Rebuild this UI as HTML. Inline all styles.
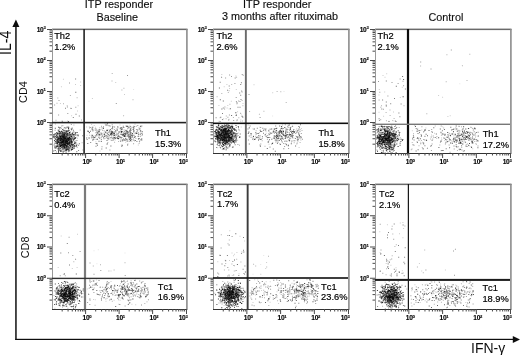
<!DOCTYPE html>
<html><head><meta charset="utf-8"><style>
html,body{margin:0;padding:0;background:#fff;width:520px;height:355px;overflow:hidden}
svg{display:block;will-change:transform}
text{font-family:"Liberation Sans", sans-serif}
.ql{font-size:9.3px;fill:#000;stroke:#000;stroke-width:0.2px;font-kerning:none}
.tl{font-size:6.6px;font-weight:bold;fill:#000;stroke:#000;stroke-width:0.12px;letter-spacing:-0.3px}
.sup{font-size:4.2px}
.ti{font-size:10.8px;fill:#111;stroke:#111;stroke-width:0.15px}
</style></head><body>
<svg width="520" height="355" viewBox="0 0 520 355">
<defs><filter id="bl" x="0" y="0" width="520" height="355" filterUnits="userSpaceOnUse"><feGaussianBlur stdDeviation="0.35"/></filter></defs>
<rect width="520" height="355" fill="#fff"/>
<g filter="url(#bl)">
<g><path fill="#000" fill-opacity="0.1" d="M88.5 100.8h1v1h-1zM133.1 89.1h1v1h-1zM272.1 115.6h1v1h-1zM283.5 91.0h1v1h-1zM459.3 83.2h1v1h-1zM96.4 263.3h1v1h-1zM124.5 252.5h1v1h-1zM97.8 249.3h1v1h-1zM93.5 250.3h1v1h-1zM263.2 254.9h1v1h-1zM260.2 264.1h1v1h-1zM252.5 273.7h1v1h-1z"/><path fill="#000" fill-opacity="0.2" d="M62.5 146.1h1v1h-1zM62.3 139.9h1v1h-1zM63.5 127.7h1v1h-1zM71.2 136.7h1v1h-1zM64.6 135.6h1v1h-1zM57.4 134.2h1v1h-1zM57.9 142.7h1v1h-1zM70.4 140.0h1v1h-1zM60.2 142.9h1v1h-1zM69.0 138.8h1v1h-1zM66.7 137.4h1v1h-1zM60.6 141.9h1v1h-1zM62.5 139.2h1v1h-1zM64.4 128.5h1v1h-1zM58.6 136.4h1v1h-1zM57.6 133.3h1v1h-1zM53.9 134.1h1v1h-1zM67.6 136.6h1v1h-1zM66.3 145.1h1v1h-1zM59.4 135.0h1v1h-1zM64.3 142.8h1v1h-1zM56.6 136.7h1v1h-1zM64.0 135.4h1v1h-1zM57.5 140.1h1v1h-1zM61.3 140.7h1v1h-1zM71.7 139.2h1v1h-1zM69.2 149.9h1v1h-1zM57.3 139.8h1v1h-1zM68.2 135.0h1v1h-1zM66.5 139.0h1v1h-1zM53.9 134.4h1v1h-1zM62.6 128.8h1v1h-1zM63.7 143.8h1v1h-1zM66.1 137.5h1v1h-1zM55.8 148.1h1v1h-1zM65.6 147.3h1v1h-1zM66.5 134.3h1v1h-1zM61.4 133.1h1v1h-1zM55.6 144.9h1v1h-1zM74.7 140.1h1v1h-1zM58.9 140.4h1v1h-1zM61.9 146.5h1v1h-1zM65.5 140.4h1v1h-1zM62.0 147.0h1v1h-1zM66.2 128.1h1v1h-1zM67.2 139.4h1v1h-1zM64.6 144.0h1v1h-1zM76.8 138.1h1v1h-1zM55.9 143.7h1v1h-1zM71.0 143.1h1v1h-1zM64.9 137.6h1v1h-1zM69.8 144.6h1v1h-1zM66.9 142.8h1v1h-1zM58.6 140.8h1v1h-1zM63.7 139.3h1v1h-1zM60.8 139.1h1v1h-1zM57.0 143.5h1v1h-1zM65.5 139.4h1v1h-1zM56.8 139.6h1v1h-1zM65.7 142.5h1v1h-1zM104.0 130.3h1v1h-1zM133.6 133.4h1v1h-1zM106.6 130.2h1v1h-1zM112.0 127.1h1v1h-1zM120.1 129.8h1v1h-1zM93.7 124.9h1v1h-1zM103.2 134.0h1v1h-1zM120.7 131.9h1v1h-1zM125.2 141.8h1v1h-1zM121.4 136.5h1v1h-1zM103.4 130.2h1v1h-1zM129.8 139.5h1v1h-1zM106.6 133.2h1v1h-1zM121.4 129.3h1v1h-1zM130.2 126.0h1v1h-1zM128.7 131.3h1v1h-1zM97.0 133.5h1v1h-1zM91.1 124.1h1v1h-1zM89.8 127.0h1v1h-1zM104.5 132.4h1v1h-1zM94.6 135.0h1v1h-1zM122.3 132.6h1v1h-1zM138.0 138.3h1v1h-1zM114.7 139.5h1v1h-1zM129.4 124.8h1v1h-1zM87.5 143.1h1v1h-1zM134.0 140.5h1v1h-1zM100.7 139.5h1v1h-1zM104.6 123.6h1v1h-1zM140.9 138.3h1v1h-1zM117.9 131.0h1v1h-1zM93.3 139.1h1v1h-1zM137.8 144.4h1v1h-1zM126.9 130.7h1v1h-1zM115.1 130.4h1v1h-1zM90.9 129.2h1v1h-1zM99.9 129.6h1v1h-1zM94.9 126.7h1v1h-1zM99.5 150.4h1v1h-1zM131.3 141.0h1v1h-1zM104.1 134.5h1v1h-1zM101.2 137.5h1v1h-1zM134.5 123.7h1v1h-1zM93.7 128.5h1v1h-1zM108.9 137.3h1v1h-1zM115.4 137.5h1v1h-1zM102.3 135.1h1v1h-1zM112.5 128.6h1v1h-1zM111.7 125.3h1v1h-1zM95.4 141.2h1v1h-1zM131.4 127.4h1v1h-1zM113.0 132.5h1v1h-1zM100.5 128.9h1v1h-1zM136.1 130.7h1v1h-1zM128.8 135.4h1v1h-1zM86.5 134.7h1v1h-1zM119.5 124.5h1v1h-1zM130.5 134.8h1v1h-1zM96.8 131.2h1v1h-1zM128.4 131.1h1v1h-1zM112.3 132.1h1v1h-1zM120.9 144.5h1v1h-1zM130.3 139.4h1v1h-1zM117.8 138.9h1v1h-1zM123.2 131.7h1v1h-1zM91.5 126.7h1v1h-1zM99.3 127.0h1v1h-1zM101.1 126.5h1v1h-1zM86.2 126.6h1v1h-1zM140.4 131.5h1v1h-1zM102.9 132.6h1v1h-1zM100.0 137.6h1v1h-1zM119.6 137.7h1v1h-1zM91.9 136.8h1v1h-1zM127.3 135.5h1v1h-1zM135.0 136.7h1v1h-1zM88.8 126.2h1v1h-1zM62.9 78.7h1v1h-1zM77.6 105.2h1v1h-1zM71.1 115.3h1v1h-1zM67.1 120.5h1v1h-1zM80.1 84.9h1v1h-1zM59.9 102.9h1v1h-1zM80.1 81.5h1v1h-1zM60.9 86.2h1v1h-1zM75.0 84.0h1v1h-1zM77.0 110.6h1v1h-1zM115.2 82.1h1v1h-1zM124.0 94.0h1v1h-1zM91.9 97.9h1v1h-1zM230.8 142.0h1v1h-1zM217.2 147.2h1v1h-1zM224.3 142.4h1v1h-1zM218.4 137.0h1v1h-1zM225.6 140.2h1v1h-1zM224.8 137.2h1v1h-1zM219.6 128.7h1v1h-1zM226.5 124.7h1v1h-1zM226.2 134.1h1v1h-1zM222.8 138.1h1v1h-1zM223.9 125.9h1v1h-1zM215.1 131.2h1v1h-1zM224.1 137.2h1v1h-1zM226.6 124.5h1v1h-1zM218.4 131.5h1v1h-1zM228.9 139.5h1v1h-1zM224.2 136.5h1v1h-1zM222.3 144.6h1v1h-1zM231.7 124.3h1v1h-1zM220.3 129.5h1v1h-1zM228.2 135.3h1v1h-1zM226.7 135.9h1v1h-1zM227.5 128.0h1v1h-1zM224.6 141.5h1v1h-1zM233.3 132.2h1v1h-1zM227.1 131.9h1v1h-1zM223.8 126.3h1v1h-1zM224.5 135.4h1v1h-1zM223.5 135.3h1v1h-1zM223.9 130.8h1v1h-1zM215.5 126.2h1v1h-1zM225.5 141.2h1v1h-1zM233.1 134.3h1v1h-1zM225.0 133.7h1v1h-1zM231.3 134.8h1v1h-1zM224.0 143.3h1v1h-1zM218.2 138.7h1v1h-1zM224.2 127.8h1v1h-1zM224.3 138.9h1v1h-1zM229.9 130.5h1v1h-1zM233.1 135.6h1v1h-1zM224.1 144.8h1v1h-1zM235.9 125.2h1v1h-1zM223.6 133.9h1v1h-1zM220.3 139.4h1v1h-1zM233.1 135.7h1v1h-1zM225.6 130.7h1v1h-1zM221.2 127.3h1v1h-1zM232.3 133.9h1v1h-1zM222.2 135.4h1v1h-1zM222.3 141.6h1v1h-1zM220.4 135.6h1v1h-1zM227.7 139.4h1v1h-1zM240.7 126.5h1v1h-1zM217.2 136.3h1v1h-1zM224.0 132.3h1v1h-1zM228.8 126.6h1v1h-1zM239.2 130.3h1v1h-1zM225.2 126.3h1v1h-1zM224.1 136.0h1v1h-1zM218.5 125.2h1v1h-1zM227.1 124.9h1v1h-1zM220.3 134.8h1v1h-1zM219.8 142.0h1v1h-1zM225.7 141.2h1v1h-1zM221.5 137.5h1v1h-1zM230.0 126.8h1v1h-1zM216.3 141.3h1v1h-1zM217.3 138.6h1v1h-1zM220.3 136.6h1v1h-1zM219.5 126.1h1v1h-1zM225.9 140.3h1v1h-1zM225.6 145.2h1v1h-1zM224.9 131.7h1v1h-1zM231.1 126.3h1v1h-1zM221.7 134.1h1v1h-1zM226.3 126.8h1v1h-1zM220.2 136.3h1v1h-1zM225.7 140.6h1v1h-1zM221.4 128.1h1v1h-1zM227.2 129.5h1v1h-1zM231.5 129.9h1v1h-1zM219.2 133.0h1v1h-1zM230.2 130.3h1v1h-1zM295.3 140.3h1v1h-1zM281.8 136.9h1v1h-1zM290.1 136.2h1v1h-1zM292.0 133.5h1v1h-1zM293.4 137.6h1v1h-1zM278.7 134.0h1v1h-1zM275.5 128.3h1v1h-1zM297.1 130.8h1v1h-1zM275.9 132.2h1v1h-1zM269.6 128.1h1v1h-1zM297.1 140.0h1v1h-1zM265.6 132.7h1v1h-1zM269.5 146.0h1v1h-1zM287.8 127.1h1v1h-1zM295.3 135.5h1v1h-1zM288.1 134.1h1v1h-1zM276.7 131.8h1v1h-1zM279.4 136.7h1v1h-1zM259.0 144.4h1v1h-1zM276.4 133.2h1v1h-1zM267.1 137.6h1v1h-1zM280.5 131.2h1v1h-1zM290.8 140.2h1v1h-1zM255.5 137.8h1v1h-1zM255.6 136.8h1v1h-1zM276.4 137.4h1v1h-1zM278.5 138.2h1v1h-1zM249.9 136.8h1v1h-1zM300.1 129.1h1v1h-1zM285.1 132.4h1v1h-1zM285.6 143.2h1v1h-1zM290.3 137.7h1v1h-1zM276.1 136.4h1v1h-1zM288.7 127.0h1v1h-1zM268.5 134.7h1v1h-1zM289.0 132.6h1v1h-1zM285.1 126.9h1v1h-1zM252.6 128.1h1v1h-1zM274.3 131.6h1v1h-1zM299.2 136.6h1v1h-1zM268.7 132.9h1v1h-1zM281.0 132.8h1v1h-1zM268.5 143.7h1v1h-1zM274.1 136.7h1v1h-1zM298.6 147.0h1v1h-1zM299.0 130.7h1v1h-1zM259.3 126.8h1v1h-1zM265.1 135.9h1v1h-1zM291.0 135.0h1v1h-1zM253.0 139.2h1v1h-1zM252.8 129.1h1v1h-1zM252.9 136.2h1v1h-1zM300.9 127.9h1v1h-1zM223.2 118.2h1v1h-1zM228.6 118.8h1v1h-1zM226.4 84.0h1v1h-1zM240.3 119.5h1v1h-1zM235.8 112.3h1v1h-1zM237.1 111.2h1v1h-1zM227.3 105.0h1v1h-1zM236.4 103.5h1v1h-1zM240.9 114.6h1v1h-1zM221.3 74.1h1v1h-1zM229.1 88.0h1v1h-1zM226.6 107.5h1v1h-1zM240.2 121.0h1v1h-1zM235.4 75.4h1v1h-1zM228.7 108.6h1v1h-1zM242.5 102.9h1v1h-1zM235.8 89.0h1v1h-1zM223.7 86.3h1v1h-1zM222.3 119.3h1v1h-1zM230.8 100.8h1v1h-1zM236.2 120.2h1v1h-1zM218.4 105.0h1v1h-1zM272.2 92.3h1v1h-1zM253.5 84.3h1v1h-1zM376.4 146.4h1v1h-1zM382.9 140.7h1v1h-1zM384.1 125.7h1v1h-1zM384.8 149.3h1v1h-1zM387.3 127.2h1v1h-1zM382.5 142.3h1v1h-1zM392.0 128.2h1v1h-1zM388.7 146.4h1v1h-1zM392.8 149.4h1v1h-1zM392.4 134.0h1v1h-1zM388.2 135.8h1v1h-1zM388.6 141.6h1v1h-1zM387.3 133.7h1v1h-1zM388.3 143.8h1v1h-1zM386.0 141.6h1v1h-1zM378.4 133.7h1v1h-1zM388.0 139.8h1v1h-1zM387.6 135.7h1v1h-1zM385.8 138.6h1v1h-1zM381.2 143.8h1v1h-1zM383.2 137.7h1v1h-1zM389.7 147.2h1v1h-1zM390.6 144.8h1v1h-1zM378.7 134.1h1v1h-1zM396.6 139.2h1v1h-1zM383.0 132.7h1v1h-1zM397.9 132.3h1v1h-1zM391.5 135.3h1v1h-1zM380.8 142.3h1v1h-1zM383.9 135.8h1v1h-1zM388.3 142.8h1v1h-1zM389.0 138.8h1v1h-1zM388.0 144.0h1v1h-1zM384.3 130.5h1v1h-1zM388.0 144.6h1v1h-1zM389.0 130.4h1v1h-1zM379.7 133.9h1v1h-1zM376.7 140.9h1v1h-1zM389.6 138.9h1v1h-1zM380.2 136.8h1v1h-1zM387.5 145.1h1v1h-1zM395.0 136.1h1v1h-1zM388.2 143.0h1v1h-1zM390.0 133.8h1v1h-1zM393.2 141.0h1v1h-1zM388.9 139.4h1v1h-1zM386.3 136.3h1v1h-1zM388.0 135.0h1v1h-1zM387.3 146.7h1v1h-1zM399.6 141.6h1v1h-1zM391.9 142.0h1v1h-1zM384.4 141.6h1v1h-1zM389.1 132.8h1v1h-1zM387.0 136.5h1v1h-1zM382.8 126.8h1v1h-1zM378.2 139.1h1v1h-1zM380.6 136.6h1v1h-1zM455.8 141.9h1v1h-1zM472.2 141.7h1v1h-1zM461.8 143.4h1v1h-1zM463.9 140.3h1v1h-1zM472.2 148.3h1v1h-1zM462.3 140.1h1v1h-1zM454.2 134.1h1v1h-1zM461.1 143.0h1v1h-1zM453.4 135.5h1v1h-1zM458.1 141.4h1v1h-1zM476.7 135.6h1v1h-1zM465.6 143.7h1v1h-1zM449.8 134.6h1v1h-1zM440.4 132.4h1v1h-1zM471.9 132.2h1v1h-1zM441.3 139.1h1v1h-1zM411.8 130.3h1v1h-1zM453.8 134.5h1v1h-1zM449.4 133.3h1v1h-1zM423.0 148.4h1v1h-1zM473.6 131.8h1v1h-1zM411.6 141.9h1v1h-1zM441.4 133.2h1v1h-1zM424.3 139.9h1v1h-1zM459.1 149.6h1v1h-1zM444.3 140.1h1v1h-1zM445.3 142.5h1v1h-1zM421.6 142.5h1v1h-1zM420.1 141.8h1v1h-1zM441.0 137.5h1v1h-1zM447.9 141.1h1v1h-1zM450.6 139.9h1v1h-1zM423.1 132.0h1v1h-1zM477.4 135.8h1v1h-1zM418.5 133.3h1v1h-1zM440.5 150.2h1v1h-1zM459.9 134.9h1v1h-1zM431.0 134.5h1v1h-1zM424.5 136.0h1v1h-1zM421.3 129.5h1v1h-1zM463.3 129.4h1v1h-1zM448.8 138.6h1v1h-1zM412.1 142.0h1v1h-1zM418.8 137.4h1v1h-1zM455.3 129.3h1v1h-1zM456.7 128.6h1v1h-1zM442.4 134.0h1v1h-1zM442.2 126.2h1v1h-1zM425.4 127.4h1v1h-1zM458.0 137.3h1v1h-1zM454.6 132.9h1v1h-1zM469.7 146.2h1v1h-1zM451.7 129.1h1v1h-1zM471.2 126.9h1v1h-1zM424.3 139.7h1v1h-1zM466.9 137.6h1v1h-1zM422.1 141.7h1v1h-1zM417.2 133.0h1v1h-1zM447.9 133.9h1v1h-1zM458.7 125.9h1v1h-1zM434.0 132.7h1v1h-1zM378.5 94.6h1v1h-1zM401.8 86.7h1v1h-1zM378.8 89.1h1v1h-1zM378.5 111.8h1v1h-1zM384.5 76.8h1v1h-1zM399.8 97.1h1v1h-1zM392.0 119.9h1v1h-1zM384.2 91.6h1v1h-1zM382.5 75.1h1v1h-1zM392.6 120.2h1v1h-1zM383.1 115.7h1v1h-1zM393.0 111.4h1v1h-1zM386.2 73.2h1v1h-1zM388.4 120.8h1v1h-1zM442.1 96.8h1v1h-1zM449.7 115.2h1v1h-1zM447.4 115.9h1v1h-1zM438.1 94.9h1v1h-1zM60.5 297.3h1v1h-1zM68.2 301.9h1v1h-1zM66.0 294.3h1v1h-1zM66.0 303.7h1v1h-1zM64.7 299.7h1v1h-1zM68.9 296.6h1v1h-1zM63.8 297.6h1v1h-1zM69.8 292.8h1v1h-1zM71.6 287.2h1v1h-1zM67.8 291.7h1v1h-1zM70.2 293.9h1v1h-1zM74.0 295.0h1v1h-1zM72.4 296.1h1v1h-1zM67.6 300.3h1v1h-1zM68.7 300.1h1v1h-1zM73.2 306.1h1v1h-1zM76.7 288.8h1v1h-1zM74.0 288.6h1v1h-1zM67.6 297.0h1v1h-1zM63.5 302.3h1v1h-1zM54.4 307.7h1v1h-1zM71.0 296.8h1v1h-1zM68.9 295.6h1v1h-1zM66.6 293.5h1v1h-1zM72.2 283.3h1v1h-1zM68.6 288.1h1v1h-1zM53.9 290.5h1v1h-1zM64.0 288.7h1v1h-1zM68.6 291.9h1v1h-1zM72.5 291.2h1v1h-1zM66.1 297.1h1v1h-1zM64.4 294.1h1v1h-1zM61.1 300.8h1v1h-1zM75.1 298.7h1v1h-1zM81.2 293.2h1v1h-1zM61.5 293.2h1v1h-1zM69.7 302.7h1v1h-1zM54.4 290.5h1v1h-1zM68.6 289.1h1v1h-1zM67.3 293.3h1v1h-1zM57.9 294.2h1v1h-1zM65.1 300.7h1v1h-1zM66.7 298.3h1v1h-1zM65.9 301.0h1v1h-1zM72.7 297.1h1v1h-1zM70.1 294.8h1v1h-1zM66.6 289.7h1v1h-1zM68.5 292.0h1v1h-1zM69.0 289.8h1v1h-1zM68.1 303.9h1v1h-1zM62.7 296.0h1v1h-1zM57.4 298.1h1v1h-1zM65.1 287.9h1v1h-1zM64.0 299.0h1v1h-1zM66.7 293.6h1v1h-1zM55.3 294.1h1v1h-1zM74.9 294.2h1v1h-1zM61.3 302.1h1v1h-1zM64.7 288.0h1v1h-1zM66.0 295.4h1v1h-1zM72.0 292.1h1v1h-1zM67.7 293.3h1v1h-1zM73.5 293.6h1v1h-1zM59.5 287.5h1v1h-1zM62.5 296.2h1v1h-1zM69.8 295.7h1v1h-1zM69.9 294.9h1v1h-1zM66.3 281.0h1v1h-1zM73.0 290.2h1v1h-1zM141.3 289.5h1v1h-1zM118.8 286.0h1v1h-1zM113.6 299.8h1v1h-1zM86.8 288.6h1v1h-1zM146.5 301.6h1v1h-1zM125.5 285.7h1v1h-1zM106.3 288.7h1v1h-1zM110.5 280.9h1v1h-1zM135.3 289.9h1v1h-1zM121.9 291.7h1v1h-1zM104.0 287.6h1v1h-1zM121.7 288.8h1v1h-1zM115.7 289.4h1v1h-1zM120.1 290.6h1v1h-1zM103.5 290.3h1v1h-1zM138.3 290.9h1v1h-1zM130.5 292.9h1v1h-1zM128.6 289.5h1v1h-1zM103.6 292.3h1v1h-1zM96.5 282.1h1v1h-1zM138.6 288.8h1v1h-1zM105.8 289.1h1v1h-1zM125.7 287.3h1v1h-1zM121.9 286.5h1v1h-1zM106.3 283.0h1v1h-1zM120.0 283.3h1v1h-1zM108.5 295.0h1v1h-1zM142.2 286.9h1v1h-1zM124.1 296.1h1v1h-1zM125.8 291.3h1v1h-1zM105.5 300.8h1v1h-1zM118.5 297.0h1v1h-1zM119.6 299.8h1v1h-1zM107.2 283.5h1v1h-1zM131.4 303.8h1v1h-1zM146.7 294.3h1v1h-1zM146.6 289.8h1v1h-1zM143.4 294.1h1v1h-1zM111.3 285.2h1v1h-1zM138.5 296.8h1v1h-1zM94.8 299.3h1v1h-1zM147.3 292.2h1v1h-1zM135.2 304.2h1v1h-1zM100.1 286.5h1v1h-1zM95.9 279.4h1v1h-1zM146.5 301.0h1v1h-1zM119.3 293.9h1v1h-1zM137.8 296.8h1v1h-1zM131.5 286.3h1v1h-1zM144.4 290.4h1v1h-1zM118.2 303.8h1v1h-1zM93.1 298.9h1v1h-1zM92.1 289.4h1v1h-1zM106.0 282.4h1v1h-1zM139.2 285.8h1v1h-1zM126.5 281.1h1v1h-1zM96.5 293.7h1v1h-1zM121.7 296.4h1v1h-1zM106.3 286.1h1v1h-1zM60.7 235.5h1v1h-1zM71.8 268.0h1v1h-1zM76.6 266.9h1v1h-1zM57.7 266.9h1v1h-1zM77.0 233.7h1v1h-1zM110.5 270.5h1v1h-1zM231.0 296.5h1v1h-1zM235.1 289.9h1v1h-1zM229.4 294.7h1v1h-1zM225.6 283.6h1v1h-1zM227.8 289.7h1v1h-1zM233.9 298.9h1v1h-1zM236.9 290.3h1v1h-1zM234.7 295.7h1v1h-1zM220.2 290.7h1v1h-1zM223.5 300.5h1v1h-1zM219.3 295.2h1v1h-1zM232.7 302.6h1v1h-1zM234.8 286.2h1v1h-1zM225.1 298.5h1v1h-1zM219.3 289.3h1v1h-1zM224.6 295.9h1v1h-1zM233.6 287.3h1v1h-1zM218.1 302.4h1v1h-1zM239.6 302.2h1v1h-1zM227.4 296.7h1v1h-1zM233.1 292.8h1v1h-1zM232.9 297.8h1v1h-1zM229.1 301.6h1v1h-1zM238.3 288.9h1v1h-1zM243.8 292.2h1v1h-1zM230.1 291.6h1v1h-1zM232.2 300.6h1v1h-1zM227.4 284.4h1v1h-1zM218.5 294.2h1v1h-1zM240.3 299.3h1v1h-1zM239.6 290.0h1v1h-1zM240.9 298.2h1v1h-1zM229.9 287.9h1v1h-1zM226.9 301.5h1v1h-1zM231.9 299.9h1v1h-1zM235.3 296.5h1v1h-1zM234.8 291.1h1v1h-1zM228.7 290.2h1v1h-1zM237.3 298.7h1v1h-1zM233.3 290.4h1v1h-1zM232.9 297.3h1v1h-1zM228.2 306.8h1v1h-1zM223.2 295.2h1v1h-1zM223.1 291.5h1v1h-1zM226.1 292.1h1v1h-1zM220.5 291.2h1v1h-1zM234.2 294.5h1v1h-1zM229.4 290.6h1v1h-1zM234.4 294.7h1v1h-1zM230.2 292.6h1v1h-1zM221.2 307.2h1v1h-1zM226.4 299.5h1v1h-1zM229.2 285.9h1v1h-1zM223.6 305.1h1v1h-1zM229.1 293.4h1v1h-1zM225.7 290.9h1v1h-1zM234.7 291.6h1v1h-1zM236.4 297.0h1v1h-1zM231.2 295.8h1v1h-1zM233.4 298.7h1v1h-1zM230.0 289.9h1v1h-1zM238.7 299.8h1v1h-1zM226.9 284.0h1v1h-1zM227.3 297.4h1v1h-1zM224.5 295.3h1v1h-1zM217.9 293.0h1v1h-1zM225.2 289.1h1v1h-1zM230.1 293.8h1v1h-1zM227.1 289.6h1v1h-1zM225.7 295.6h1v1h-1zM297.9 293.2h1v1h-1zM288.4 292.1h1v1h-1zM314.5 290.7h1v1h-1zM297.8 295.5h1v1h-1zM298.5 291.9h1v1h-1zM289.5 291.0h1v1h-1zM296.4 296.6h1v1h-1zM304.4 291.9h1v1h-1zM296.3 296.3h1v1h-1zM300.3 294.5h1v1h-1zM295.5 282.5h1v1h-1zM301.5 288.9h1v1h-1zM302.0 291.8h1v1h-1zM309.5 279.4h1v1h-1zM311.3 291.6h1v1h-1zM295.9 288.9h1v1h-1zM297.1 294.1h1v1h-1zM303.6 288.5h1v1h-1zM276.5 291.2h1v1h-1zM301.5 288.9h1v1h-1zM296.1 289.9h1v1h-1zM278.1 283.2h1v1h-1zM294.4 296.5h1v1h-1zM313.2 293.9h1v1h-1zM303.3 299.0h1v1h-1zM301.6 285.7h1v1h-1zM309.9 293.3h1v1h-1zM272.7 297.3h1v1h-1zM301.0 298.7h1v1h-1zM265.7 281.2h1v1h-1zM254.2 279.3h1v1h-1zM310.4 289.1h1v1h-1zM285.2 286.4h1v1h-1zM265.2 292.0h1v1h-1zM316.6 283.7h1v1h-1zM261.1 290.1h1v1h-1zM295.9 284.3h1v1h-1zM279.6 287.7h1v1h-1zM254.6 289.7h1v1h-1zM284.1 295.6h1v1h-1zM280.2 281.9h1v1h-1zM259.7 302.6h1v1h-1zM254.9 294.5h1v1h-1zM268.8 298.9h1v1h-1zM259.2 297.0h1v1h-1zM289.3 292.1h1v1h-1zM279.4 292.6h1v1h-1zM304.1 293.6h1v1h-1zM276.8 295.2h1v1h-1zM270.0 285.5h1v1h-1zM291.5 282.7h1v1h-1zM308.9 295.4h1v1h-1zM286.4 291.6h1v1h-1zM269.6 301.7h1v1h-1zM312.5 281.0h1v1h-1zM269.7 281.3h1v1h-1zM278.2 289.7h1v1h-1zM301.6 297.8h1v1h-1zM304.7 283.2h1v1h-1zM263.1 285.3h1v1h-1zM289.2 287.8h1v1h-1zM257.2 279.4h1v1h-1zM252.5 302.1h1v1h-1zM288.7 291.2h1v1h-1zM277.3 282.1h1v1h-1zM284.1 293.9h1v1h-1zM309.6 286.0h1v1h-1zM267.2 290.8h1v1h-1zM286.0 297.2h1v1h-1zM310.3 284.5h1v1h-1zM267.6 284.9h1v1h-1zM303.1 294.7h1v1h-1zM259.7 285.8h1v1h-1zM278.1 303.1h1v1h-1zM267.1 286.4h1v1h-1zM304.8 298.4h1v1h-1zM231.8 275.1h1v1h-1zM244.1 240.4h1v1h-1zM224.7 259.8h1v1h-1zM239.5 235.7h1v1h-1zM217.3 261.2h1v1h-1zM236.4 252.1h1v1h-1zM231.5 252.6h1v1h-1zM229.3 230.2h1v1h-1zM233.1 255.3h1v1h-1zM233.9 253.7h1v1h-1zM238.5 273.2h1v1h-1zM235.0 270.2h1v1h-1zM229.0 260.0h1v1h-1zM265.2 267.9h1v1h-1zM260.3 273.8h1v1h-1zM266.1 262.1h1v1h-1zM382.9 301.7h1v1h-1zM391.3 298.9h1v1h-1zM397.0 297.9h1v1h-1zM394.4 293.5h1v1h-1zM400.5 286.0h1v1h-1zM389.0 291.5h1v1h-1zM391.9 292.4h1v1h-1zM399.3 291.6h1v1h-1zM394.5 290.6h1v1h-1zM396.0 294.9h1v1h-1zM399.4 303.2h1v1h-1zM387.0 305.2h1v1h-1zM385.5 296.3h1v1h-1zM392.9 299.7h1v1h-1zM392.0 293.9h1v1h-1zM384.2 299.0h1v1h-1zM401.3 295.3h1v1h-1zM390.4 291.0h1v1h-1zM386.3 305.5h1v1h-1zM388.9 297.8h1v1h-1zM388.3 290.0h1v1h-1zM391.5 292.6h1v1h-1zM399.8 291.0h1v1h-1zM391.6 297.5h1v1h-1zM385.8 294.3h1v1h-1zM382.0 285.8h1v1h-1zM392.6 289.4h1v1h-1zM394.8 301.3h1v1h-1zM390.7 295.9h1v1h-1zM394.2 295.0h1v1h-1zM389.4 293.3h1v1h-1zM402.9 298.7h1v1h-1zM392.8 298.4h1v1h-1zM399.4 302.6h1v1h-1zM387.7 300.2h1v1h-1zM389.9 298.9h1v1h-1zM387.8 293.6h1v1h-1zM395.1 297.7h1v1h-1zM400.0 297.6h1v1h-1zM399.7 302.2h1v1h-1zM379.7 290.9h1v1h-1zM383.4 296.8h1v1h-1zM394.3 300.5h1v1h-1zM397.9 286.6h1v1h-1zM403.5 299.0h1v1h-1zM387.1 296.3h1v1h-1zM386.8 300.6h1v1h-1zM392.4 296.0h1v1h-1zM387.0 296.0h1v1h-1zM389.4 293.4h1v1h-1zM455.3 289.7h1v1h-1zM448.2 291.9h1v1h-1zM464.1 291.2h1v1h-1zM460.0 296.5h1v1h-1zM453.6 294.1h1v1h-1zM443.8 283.9h1v1h-1zM434.9 291.5h1v1h-1zM449.7 296.3h1v1h-1zM463.9 290.3h1v1h-1zM451.8 295.5h1v1h-1zM463.1 297.0h1v1h-1zM465.3 302.0h1v1h-1zM437.9 287.6h1v1h-1zM431.4 294.6h1v1h-1zM442.8 297.3h1v1h-1zM433.7 290.5h1v1h-1zM464.1 290.3h1v1h-1zM417.2 292.9h1v1h-1zM420.2 296.9h1v1h-1zM416.9 299.1h1v1h-1zM436.2 295.0h1v1h-1zM428.9 298.9h1v1h-1zM440.1 283.6h1v1h-1zM421.3 300.1h1v1h-1zM467.2 306.6h1v1h-1zM431.4 287.7h1v1h-1zM444.3 292.1h1v1h-1zM460.6 299.1h1v1h-1zM425.7 298.4h1v1h-1zM415.8 296.1h1v1h-1zM468.5 303.0h1v1h-1zM460.8 293.1h1v1h-1zM466.2 281.7h1v1h-1zM466.3 304.2h1v1h-1zM451.2 292.0h1v1h-1zM415.8 286.7h1v1h-1zM426.4 283.7h1v1h-1zM427.0 289.2h1v1h-1zM455.2 284.6h1v1h-1zM433.5 293.2h1v1h-1zM448.5 299.8h1v1h-1zM451.9 298.3h1v1h-1zM411.3 290.3h1v1h-1zM469.5 292.4h1v1h-1zM414.4 284.2h1v1h-1zM417.3 301.9h1v1h-1zM452.4 293.5h1v1h-1zM438.3 281.5h1v1h-1zM423.5 291.2h1v1h-1zM435.4 295.7h1v1h-1zM430.6 281.3h1v1h-1zM446.1 292.7h1v1h-1zM415.8 286.0h1v1h-1zM471.3 285.3h1v1h-1zM453.9 304.4h1v1h-1zM419.7 302.0h1v1h-1zM424.6 300.2h1v1h-1zM385.7 263.1h1v1h-1zM401.6 273.1h1v1h-1zM379.7 252.0h1v1h-1zM402.4 222.1h1v1h-1zM380.5 253.0h1v1h-1zM395.5 267.3h1v1h-1zM399.8 222.6h1v1h-1zM403.1 228.1h1v1h-1zM387.5 262.4h1v1h-1zM399.0 233.3h1v1h-1zM402.4 237.3h1v1h-1zM401.8 270.3h1v1h-1zM379.3 231.2h1v1h-1zM387.9 268.1h1v1h-1zM390.4 264.7h1v1h-1zM386.9 224.3h1v1h-1zM418.9 263.0h1v1h-1zM444.9 269.4h1v1h-1zM421.2 270.5h1v1h-1z"/><path fill="#000" fill-opacity="0.3" d="M71.2 147.2h1v1h-1zM69.5 146.3h1v1h-1zM72.0 139.5h1v1h-1zM56.3 137.3h1v1h-1zM73.8 144.2h1v1h-1zM65.7 150.5h1v1h-1zM56.1 141.8h1v1h-1zM58.8 130.3h1v1h-1zM67.0 139.5h1v1h-1zM69.1 145.5h1v1h-1zM69.8 140.0h1v1h-1zM62.6 148.3h1v1h-1zM68.5 129.6h1v1h-1zM72.3 133.1h1v1h-1zM68.7 149.5h1v1h-1zM65.7 149.0h1v1h-1zM64.3 137.7h1v1h-1zM64.2 143.7h1v1h-1zM61.6 139.1h1v1h-1zM61.0 125.6h1v1h-1zM59.0 136.6h1v1h-1zM63.9 142.2h1v1h-1zM60.1 139.6h1v1h-1zM63.7 144.5h1v1h-1zM63.5 134.0h1v1h-1zM63.8 146.1h1v1h-1zM57.4 135.8h1v1h-1zM60.8 141.5h1v1h-1zM61.6 138.1h1v1h-1zM59.8 139.7h1v1h-1zM69.6 138.9h1v1h-1zM54.9 123.6h1v1h-1zM70.7 139.4h1v1h-1zM58.9 137.0h1v1h-1zM61.7 140.6h1v1h-1zM68.9 138.4h1v1h-1zM70.7 135.2h1v1h-1zM69.7 137.6h1v1h-1zM70.4 146.1h1v1h-1zM66.9 140.9h1v1h-1zM59.7 141.5h1v1h-1zM65.1 148.5h1v1h-1zM66.0 146.3h1v1h-1zM57.8 131.5h1v1h-1zM65.3 135.9h1v1h-1zM66.1 143.2h1v1h-1zM66.3 137.2h1v1h-1zM76.7 147.1h1v1h-1zM61.3 141.6h1v1h-1zM54.8 137.8h1v1h-1zM55.5 134.0h1v1h-1zM62.2 150.3h1v1h-1zM67.3 126.6h1v1h-1zM66.2 143.1h1v1h-1zM68.8 134.5h1v1h-1zM61.4 147.1h1v1h-1zM54.8 142.7h1v1h-1zM71.0 139.1h1v1h-1zM64.1 136.9h1v1h-1zM57.0 143.1h1v1h-1zM57.7 148.5h1v1h-1zM63.9 150.8h1v1h-1zM67.0 132.7h1v1h-1zM71.2 139.4h1v1h-1zM56.1 137.6h1v1h-1zM64.8 138.2h1v1h-1zM64.6 133.7h1v1h-1zM58.1 139.9h1v1h-1zM76.3 136.7h1v1h-1zM69.1 147.6h1v1h-1zM67.2 135.2h1v1h-1zM72.2 146.3h1v1h-1zM71.2 141.7h1v1h-1zM59.3 144.1h1v1h-1zM65.5 142.7h1v1h-1zM70.4 141.7h1v1h-1zM69.5 134.0h1v1h-1zM62.6 142.7h1v1h-1zM65.0 134.0h1v1h-1zM67.0 137.4h1v1h-1zM57.6 131.4h1v1h-1zM63.0 140.3h1v1h-1zM70.3 133.2h1v1h-1zM65.8 135.8h1v1h-1zM65.3 138.1h1v1h-1zM59.8 141.5h1v1h-1zM63.0 146.2h1v1h-1zM69.6 146.6h1v1h-1zM82.3 149.4h1v1h-1zM73.8 144.2h1v1h-1zM65.3 137.0h1v1h-1zM59.5 138.9h1v1h-1zM54.6 141.0h1v1h-1zM74.0 138.2h1v1h-1zM71.3 141.1h1v1h-1zM67.9 151.3h1v1h-1zM63.1 142.7h1v1h-1zM63.8 138.3h1v1h-1zM68.8 143.3h1v1h-1zM70.8 141.2h1v1h-1zM62.4 143.9h1v1h-1zM63.6 143.0h1v1h-1zM70.3 135.6h1v1h-1zM58.0 138.6h1v1h-1zM62.6 140.8h1v1h-1zM62.1 151.3h1v1h-1zM62.9 145.9h1v1h-1zM73.0 146.1h1v1h-1zM79.7 129.5h1v1h-1zM63.6 141.2h1v1h-1zM62.1 148.6h1v1h-1zM57.7 140.6h1v1h-1zM65.9 141.3h1v1h-1zM56.2 145.4h1v1h-1zM63.7 149.8h1v1h-1zM60.0 150.8h1v1h-1zM56.4 141.7h1v1h-1zM63.1 133.2h1v1h-1zM61.8 139.0h1v1h-1zM62.4 137.6h1v1h-1zM63.0 145.6h1v1h-1zM64.5 149.2h1v1h-1zM58.0 138.3h1v1h-1zM59.8 139.3h1v1h-1zM70.7 135.5h1v1h-1zM57.8 137.4h1v1h-1zM81.6 142.2h1v1h-1zM61.8 130.9h1v1h-1zM59.7 138.2h1v1h-1zM56.9 135.1h1v1h-1zM65.7 144.7h1v1h-1zM77.4 134.5h1v1h-1zM67.0 133.4h1v1h-1zM60.0 146.9h1v1h-1zM69.3 141.7h1v1h-1zM69.0 132.1h1v1h-1zM63.6 133.7h1v1h-1zM72.3 148.2h1v1h-1zM59.0 131.6h1v1h-1zM68.2 137.9h1v1h-1zM58.8 134.7h1v1h-1zM71.9 140.9h1v1h-1zM59.7 138.7h1v1h-1zM67.4 148.6h1v1h-1zM73.4 124.4h1v1h-1zM101.3 132.7h1v1h-1zM114.0 129.1h1v1h-1zM119.8 139.4h1v1h-1zM100.7 133.7h1v1h-1zM125.1 131.6h1v1h-1zM123.1 137.9h1v1h-1zM104.1 133.7h1v1h-1zM95.7 134.7h1v1h-1zM132.4 139.3h1v1h-1zM130.6 137.0h1v1h-1zM132.9 138.3h1v1h-1zM126.6 129.6h1v1h-1zM122.8 133.5h1v1h-1zM113.6 134.3h1v1h-1zM118.1 140.9h1v1h-1zM128.8 134.4h1v1h-1zM119.7 131.3h1v1h-1zM113.2 133.2h1v1h-1zM98.2 133.0h1v1h-1zM113.8 133.2h1v1h-1zM113.1 131.4h1v1h-1zM121.7 139.0h1v1h-1zM119.7 127.4h1v1h-1zM95.1 136.5h1v1h-1zM123.8 133.1h1v1h-1zM135.4 137.9h1v1h-1zM131.4 132.7h1v1h-1zM130.7 131.9h1v1h-1zM122.2 140.7h1v1h-1zM110.7 131.0h1v1h-1zM129.2 130.8h1v1h-1zM127.4 143.5h1v1h-1zM123.2 132.8h1v1h-1zM121.4 131.1h1v1h-1zM124.1 131.1h1v1h-1zM122.4 134.3h1v1h-1zM139.6 133.9h1v1h-1zM113.2 138.4h1v1h-1zM122.9 138.5h1v1h-1zM126.5 138.4h1v1h-1zM121.7 131.1h1v1h-1zM101.0 125.8h1v1h-1zM106.3 131.5h1v1h-1zM126.5 132.1h1v1h-1zM128.7 137.3h1v1h-1zM124.1 134.8h1v1h-1zM113.8 131.6h1v1h-1zM123.5 135.9h1v1h-1zM120.9 137.8h1v1h-1zM106.5 131.9h1v1h-1zM130.9 132.3h1v1h-1zM109.9 125.6h1v1h-1zM132.1 137.1h1v1h-1zM141.7 134.4h1v1h-1zM126.3 130.7h1v1h-1zM108.1 132.2h1v1h-1zM138.5 127.2h1v1h-1zM99.2 128.7h1v1h-1zM137.7 135.5h1v1h-1zM87.5 130.8h1v1h-1zM141.5 134.9h1v1h-1zM107.3 141.9h1v1h-1zM92.2 134.8h1v1h-1zM130.1 128.6h1v1h-1zM136.1 125.7h1v1h-1zM95.4 128.3h1v1h-1zM104.7 137.7h1v1h-1zM125.0 129.7h1v1h-1zM101.3 134.5h1v1h-1zM89.8 126.9h1v1h-1zM107.0 132.8h1v1h-1zM111.7 124.0h1v1h-1zM136.8 131.1h1v1h-1zM106.3 132.5h1v1h-1zM133.6 130.4h1v1h-1zM87.5 130.2h1v1h-1zM128.7 138.7h1v1h-1zM114.9 136.4h1v1h-1zM139.3 140.2h1v1h-1zM89.0 127.5h1v1h-1zM138.6 143.1h1v1h-1zM124.2 133.3h1v1h-1zM92.2 130.6h1v1h-1zM98.5 135.7h1v1h-1zM107.4 136.1h1v1h-1zM96.8 133.0h1v1h-1zM115.8 128.5h1v1h-1zM92.8 130.2h1v1h-1zM116.6 134.4h1v1h-1zM126.0 132.2h1v1h-1zM92.3 128.9h1v1h-1zM106.1 140.0h1v1h-1zM89.1 137.4h1v1h-1zM130.2 126.0h1v1h-1zM110.3 137.3h1v1h-1zM110.5 139.4h1v1h-1zM88.8 132.6h1v1h-1zM89.2 134.8h1v1h-1zM107.9 136.6h1v1h-1zM114.1 141.7h1v1h-1zM131.3 137.1h1v1h-1zM109.6 125.8h1v1h-1zM138.9 137.9h1v1h-1zM94.8 130.1h1v1h-1zM114.4 131.0h1v1h-1zM109.8 133.9h1v1h-1zM66.7 105.2h1v1h-1zM63.0 103.2h1v1h-1zM69.9 94.9h1v1h-1zM56.5 102.7h1v1h-1zM76.6 97.3h1v1h-1zM57.3 97.6h1v1h-1zM81.0 119.5h1v1h-1zM55.5 119.8h1v1h-1zM70.3 107.7h1v1h-1zM121.4 89.4h1v1h-1zM132.5 99.2h1v1h-1zM123.1 115.3h1v1h-1zM111.5 80.5h1v1h-1zM123.4 87.7h1v1h-1zM111.7 73.1h1v1h-1zM220.7 133.8h1v1h-1zM223.4 144.0h1v1h-1zM218.7 140.3h1v1h-1zM230.4 134.4h1v1h-1zM217.7 140.9h1v1h-1zM230.6 128.6h1v1h-1zM220.8 141.2h1v1h-1zM217.1 138.9h1v1h-1zM229.2 136.6h1v1h-1zM218.2 138.2h1v1h-1zM227.6 136.3h1v1h-1zM224.1 140.3h1v1h-1zM224.4 137.7h1v1h-1zM227.9 137.0h1v1h-1zM222.5 138.7h1v1h-1zM224.6 127.8h1v1h-1zM225.2 141.0h1v1h-1zM223.9 124.9h1v1h-1zM223.9 135.4h1v1h-1zM219.8 138.4h1v1h-1zM220.8 132.9h1v1h-1zM219.9 140.4h1v1h-1zM223.5 134.5h1v1h-1zM222.5 141.7h1v1h-1zM216.5 129.1h1v1h-1zM219.5 131.7h1v1h-1zM233.3 132.1h1v1h-1zM220.7 142.0h1v1h-1zM231.8 138.8h1v1h-1zM217.4 132.8h1v1h-1zM223.8 144.8h1v1h-1zM226.6 136.4h1v1h-1zM231.5 140.3h1v1h-1zM222.8 140.2h1v1h-1zM222.9 133.0h1v1h-1zM216.1 134.5h1v1h-1zM221.8 131.7h1v1h-1zM226.4 133.0h1v1h-1zM229.6 132.1h1v1h-1zM239.0 144.8h1v1h-1zM218.8 136.7h1v1h-1zM229.6 144.8h1v1h-1zM237.1 139.8h1v1h-1zM222.3 140.0h1v1h-1zM218.5 134.8h1v1h-1zM230.1 125.4h1v1h-1zM231.5 135.8h1v1h-1zM221.8 135.3h1v1h-1zM224.8 129.8h1v1h-1zM221.6 136.0h1v1h-1zM226.2 126.1h1v1h-1zM217.2 138.0h1v1h-1zM221.6 143.2h1v1h-1zM226.9 131.0h1v1h-1zM223.9 131.0h1v1h-1zM223.0 129.9h1v1h-1zM225.9 131.3h1v1h-1zM222.2 134.1h1v1h-1zM228.1 141.7h1v1h-1zM222.3 142.4h1v1h-1zM215.4 135.4h1v1h-1zM227.1 138.3h1v1h-1zM229.0 128.2h1v1h-1zM221.6 137.2h1v1h-1zM220.1 139.8h1v1h-1zM225.9 133.3h1v1h-1zM225.7 137.5h1v1h-1zM231.9 137.8h1v1h-1zM223.4 130.9h1v1h-1zM218.8 140.6h1v1h-1zM225.2 136.8h1v1h-1zM221.0 133.3h1v1h-1zM220.4 133.7h1v1h-1zM221.7 134.4h1v1h-1zM231.8 130.7h1v1h-1zM221.1 133.1h1v1h-1zM230.4 140.1h1v1h-1zM217.3 129.9h1v1h-1zM219.3 137.7h1v1h-1zM228.3 146.2h1v1h-1zM233.9 141.9h1v1h-1zM228.0 141.4h1v1h-1zM218.1 134.9h1v1h-1zM222.2 135.0h1v1h-1zM225.5 147.1h1v1h-1zM229.2 134.7h1v1h-1zM216.1 128.8h1v1h-1zM223.9 136.1h1v1h-1zM228.5 129.4h1v1h-1zM237.7 132.5h1v1h-1zM228.4 133.4h1v1h-1zM228.8 129.9h1v1h-1zM219.6 132.8h1v1h-1zM227.7 147.4h1v1h-1zM234.3 140.7h1v1h-1zM229.7 133.7h1v1h-1zM227.2 137.2h1v1h-1zM222.9 140.7h1v1h-1zM226.3 127.6h1v1h-1zM222.4 139.9h1v1h-1zM220.5 129.4h1v1h-1zM220.1 135.6h1v1h-1zM224.6 131.3h1v1h-1zM228.8 146.4h1v1h-1zM223.7 136.5h1v1h-1zM221.7 134.1h1v1h-1zM224.9 137.2h1v1h-1zM228.4 137.3h1v1h-1zM228.7 125.8h1v1h-1zM219.2 132.2h1v1h-1zM216.6 131.7h1v1h-1zM217.1 130.4h1v1h-1zM217.7 124.9h1v1h-1zM219.2 146.4h1v1h-1zM227.1 128.3h1v1h-1zM227.2 139.8h1v1h-1zM217.0 135.2h1v1h-1zM224.7 137.8h1v1h-1zM226.8 142.1h1v1h-1zM228.3 139.4h1v1h-1zM220.9 130.2h1v1h-1zM224.1 128.9h1v1h-1zM220.6 135.7h1v1h-1zM225.9 134.3h1v1h-1zM218.3 140.3h1v1h-1zM219.3 134.7h1v1h-1zM223.3 132.2h1v1h-1zM224.9 136.9h1v1h-1zM226.8 132.8h1v1h-1zM217.0 135.8h1v1h-1zM216.6 137.2h1v1h-1zM221.6 133.7h1v1h-1zM220.0 133.5h1v1h-1zM222.1 128.0h1v1h-1zM220.3 137.4h1v1h-1zM217.3 134.6h1v1h-1zM224.2 136.0h1v1h-1zM226.8 132.6h1v1h-1zM223.6 132.2h1v1h-1zM293.0 130.4h1v1h-1zM267.9 142.1h1v1h-1zM281.0 137.5h1v1h-1zM291.8 140.6h1v1h-1zM286.5 136.5h1v1h-1zM264.4 128.3h1v1h-1zM288.7 131.7h1v1h-1zM282.9 131.5h1v1h-1zM290.7 126.4h1v1h-1zM280.9 135.8h1v1h-1zM259.6 135.1h1v1h-1zM275.6 130.6h1v1h-1zM278.0 133.4h1v1h-1zM278.5 135.1h1v1h-1zM285.5 140.4h1v1h-1zM277.5 139.6h1v1h-1zM285.4 130.5h1v1h-1zM291.5 136.1h1v1h-1zM264.3 134.6h1v1h-1zM294.9 133.1h1v1h-1zM279.6 129.9h1v1h-1zM296.6 138.7h1v1h-1zM296.3 143.6h1v1h-1zM277.4 131.8h1v1h-1zM284.3 135.8h1v1h-1zM274.5 139.5h1v1h-1zM285.7 135.0h1v1h-1zM268.0 133.4h1v1h-1zM283.1 134.1h1v1h-1zM293.7 142.3h1v1h-1zM298.5 136.2h1v1h-1zM292.2 137.4h1v1h-1zM261.7 140.2h1v1h-1zM255.2 135.7h1v1h-1zM264.5 145.7h1v1h-1zM249.0 127.6h1v1h-1zM273.9 130.8h1v1h-1zM255.6 130.2h1v1h-1zM291.0 141.6h1v1h-1zM258.8 138.0h1v1h-1zM269.5 147.1h1v1h-1zM298.3 129.4h1v1h-1zM277.8 137.9h1v1h-1zM285.6 133.9h1v1h-1zM301.5 130.1h1v1h-1zM295.5 132.8h1v1h-1zM263.7 128.6h1v1h-1zM252.0 139.0h1v1h-1zM281.9 124.6h1v1h-1zM258.9 132.2h1v1h-1zM299.6 141.9h1v1h-1zM266.9 138.9h1v1h-1zM276.0 135.5h1v1h-1zM300.4 139.4h1v1h-1zM293.2 130.9h1v1h-1zM288.6 128.9h1v1h-1zM264.6 128.6h1v1h-1zM247.6 124.4h1v1h-1zM272.8 137.7h1v1h-1zM268.1 129.7h1v1h-1zM261.8 138.0h1v1h-1zM265.5 130.4h1v1h-1zM279.9 130.0h1v1h-1zM296.3 128.6h1v1h-1zM299.8 130.8h1v1h-1zM251.2 136.7h1v1h-1zM280.4 132.1h1v1h-1zM259.8 129.7h1v1h-1zM272.5 131.4h1v1h-1zM284.8 143.3h1v1h-1zM240.2 113.0h1v1h-1zM225.6 118.2h1v1h-1zM236.1 76.7h1v1h-1zM240.0 112.8h1v1h-1zM229.4 103.8h1v1h-1zM225.8 115.4h1v1h-1zM227.8 91.9h1v1h-1zM242.4 105.3h1v1h-1zM238.3 117.2h1v1h-1zM219.6 117.3h1v1h-1zM241.3 116.0h1v1h-1zM232.9 116.9h1v1h-1zM231.2 83.9h1v1h-1zM241.9 120.4h1v1h-1zM228.6 90.2h1v1h-1zM221.3 93.0h1v1h-1zM218.6 120.8h1v1h-1zM216.6 96.3h1v1h-1zM241.6 100.0h1v1h-1zM263.4 110.7h1v1h-1zM285.7 101.9h1v1h-1zM258.9 113.7h1v1h-1zM276.6 91.1h1v1h-1zM249.1 111.0h1v1h-1zM280.3 91.3h1v1h-1zM388.5 136.6h1v1h-1zM394.4 135.9h1v1h-1zM390.0 131.5h1v1h-1zM384.2 135.1h1v1h-1zM389.4 140.1h1v1h-1zM384.9 140.3h1v1h-1zM377.4 130.8h1v1h-1zM388.9 134.5h1v1h-1zM379.7 140.7h1v1h-1zM383.5 135.8h1v1h-1zM386.3 138.1h1v1h-1zM380.0 133.8h1v1h-1zM397.3 138.2h1v1h-1zM379.4 136.9h1v1h-1zM379.3 129.3h1v1h-1zM393.9 135.5h1v1h-1zM379.4 129.9h1v1h-1zM379.0 138.3h1v1h-1zM393.5 137.3h1v1h-1zM382.4 139.5h1v1h-1zM390.9 139.6h1v1h-1zM389.4 137.6h1v1h-1zM380.3 138.8h1v1h-1zM389.2 136.9h1v1h-1zM376.8 134.4h1v1h-1zM391.0 137.3h1v1h-1zM388.5 144.0h1v1h-1zM382.2 136.4h1v1h-1zM394.5 133.5h1v1h-1zM395.9 135.6h1v1h-1zM384.2 143.8h1v1h-1zM387.6 134.0h1v1h-1zM381.4 145.1h1v1h-1zM392.0 140.4h1v1h-1zM385.5 141.1h1v1h-1zM383.9 135.4h1v1h-1zM392.3 132.7h1v1h-1zM385.9 134.3h1v1h-1zM392.4 141.6h1v1h-1zM383.6 148.0h1v1h-1zM383.7 128.2h1v1h-1zM386.5 129.3h1v1h-1zM397.1 134.9h1v1h-1zM389.6 138.0h1v1h-1zM384.8 138.7h1v1h-1zM385.2 133.4h1v1h-1zM383.7 131.8h1v1h-1zM385.1 133.9h1v1h-1zM391.1 144.9h1v1h-1zM382.5 140.7h1v1h-1zM388.5 149.1h1v1h-1zM380.0 139.3h1v1h-1zM378.4 141.6h1v1h-1zM384.9 137.8h1v1h-1zM385.0 147.4h1v1h-1zM387.0 143.0h1v1h-1zM393.4 137.4h1v1h-1zM385.4 146.3h1v1h-1zM383.9 127.6h1v1h-1zM399.8 137.3h1v1h-1zM386.8 141.9h1v1h-1zM386.0 135.0h1v1h-1zM384.3 133.3h1v1h-1zM386.4 132.7h1v1h-1zM379.8 133.4h1v1h-1zM391.3 125.7h1v1h-1zM389.5 139.2h1v1h-1zM384.5 144.8h1v1h-1zM384.1 142.7h1v1h-1zM388.0 138.5h1v1h-1zM390.0 146.3h1v1h-1zM378.6 137.4h1v1h-1zM396.6 139.4h1v1h-1zM389.5 142.7h1v1h-1zM393.0 130.0h1v1h-1zM388.9 136.7h1v1h-1zM398.3 136.3h1v1h-1zM378.2 137.0h1v1h-1zM389.5 132.0h1v1h-1zM386.5 133.8h1v1h-1zM389.4 130.7h1v1h-1zM385.2 139.8h1v1h-1zM385.9 126.7h1v1h-1zM383.3 139.3h1v1h-1zM379.1 142.9h1v1h-1zM386.0 138.5h1v1h-1zM388.8 133.2h1v1h-1zM390.0 137.2h1v1h-1zM394.4 144.1h1v1h-1zM385.4 143.3h1v1h-1zM392.8 151.0h1v1h-1zM379.4 128.4h1v1h-1zM391.6 150.0h1v1h-1zM383.9 130.1h1v1h-1zM382.3 144.7h1v1h-1zM379.6 129.5h1v1h-1zM394.9 133.0h1v1h-1zM381.4 133.4h1v1h-1zM379.6 139.4h1v1h-1zM386.4 151.1h1v1h-1zM382.6 147.1h1v1h-1zM389.6 126.1h1v1h-1zM389.9 134.2h1v1h-1zM377.3 144.1h1v1h-1zM385.8 143.5h1v1h-1zM382.2 138.9h1v1h-1zM383.6 142.1h1v1h-1zM393.5 137.5h1v1h-1zM384.8 135.9h1v1h-1zM379.7 138.6h1v1h-1zM377.6 145.7h1v1h-1zM379.0 145.6h1v1h-1zM376.5 138.1h1v1h-1zM387.6 137.1h1v1h-1zM384.4 140.3h1v1h-1zM376.6 136.8h1v1h-1zM386.6 133.7h1v1h-1zM385.9 130.7h1v1h-1zM398.7 126.9h1v1h-1zM387.4 136.7h1v1h-1zM384.8 131.6h1v1h-1zM376.3 132.6h1v1h-1zM467.6 138.4h1v1h-1zM458.7 139.5h1v1h-1zM451.6 140.7h1v1h-1zM462.4 135.2h1v1h-1zM475.4 139.0h1v1h-1zM447.0 134.3h1v1h-1zM464.1 132.0h1v1h-1zM472.3 137.9h1v1h-1zM463.4 141.5h1v1h-1zM461.8 135.5h1v1h-1zM466.4 135.7h1v1h-1zM451.4 133.5h1v1h-1zM459.0 134.7h1v1h-1zM467.0 143.5h1v1h-1zM467.5 134.2h1v1h-1zM471.2 146.7h1v1h-1zM461.3 138.7h1v1h-1zM463.4 137.2h1v1h-1zM464.6 137.8h1v1h-1zM465.1 142.0h1v1h-1zM471.9 138.3h1v1h-1zM460.5 142.4h1v1h-1zM460.5 134.6h1v1h-1zM456.9 139.4h1v1h-1zM458.3 129.7h1v1h-1zM471.8 142.7h1v1h-1zM461.2 135.1h1v1h-1zM457.2 133.0h1v1h-1zM460.5 137.4h1v1h-1zM467.1 145.9h1v1h-1zM444.8 134.4h1v1h-1zM468.8 138.4h1v1h-1zM466.0 144.5h1v1h-1zM465.0 145.5h1v1h-1zM463.9 132.6h1v1h-1zM476.0 143.8h1v1h-1zM457.9 146.3h1v1h-1zM439.3 144.5h1v1h-1zM474.8 133.0h1v1h-1zM453.9 138.4h1v1h-1zM474.3 138.7h1v1h-1zM432.3 138.5h1v1h-1zM464.9 132.6h1v1h-1zM463.4 133.1h1v1h-1zM475.0 136.5h1v1h-1zM448.7 132.7h1v1h-1zM471.9 127.9h1v1h-1zM447.7 135.5h1v1h-1zM413.0 133.2h1v1h-1zM448.3 134.8h1v1h-1zM456.7 137.2h1v1h-1zM454.1 139.3h1v1h-1zM410.8 149.2h1v1h-1zM468.3 128.1h1v1h-1zM474.2 126.9h1v1h-1zM463.3 126.3h1v1h-1zM459.1 134.5h1v1h-1zM412.0 137.4h1v1h-1zM411.5 148.6h1v1h-1zM473.7 130.9h1v1h-1zM417.6 133.1h1v1h-1zM430.1 138.5h1v1h-1zM421.8 147.1h1v1h-1zM440.9 134.8h1v1h-1zM431.2 131.1h1v1h-1zM475.3 143.2h1v1h-1zM461.0 126.3h1v1h-1zM435.8 132.9h1v1h-1zM418.5 145.3h1v1h-1zM448.6 140.5h1v1h-1zM435.8 134.1h1v1h-1zM436.2 137.7h1v1h-1zM456.9 150.1h1v1h-1zM434.7 125.6h1v1h-1zM459.9 134.8h1v1h-1zM443.2 127.4h1v1h-1zM433.3 137.1h1v1h-1zM474.2 141.0h1v1h-1zM438.4 137.3h1v1h-1zM457.0 134.9h1v1h-1zM420.9 139.9h1v1h-1zM441.9 134.2h1v1h-1zM466.5 135.6h1v1h-1zM450.1 135.6h1v1h-1zM467.4 138.3h1v1h-1zM414.3 125.3h1v1h-1zM436.4 135.9h1v1h-1zM455.8 142.0h1v1h-1zM381.0 105.3h1v1h-1zM389.5 109.4h1v1h-1zM393.6 118.1h1v1h-1zM385.9 120.2h1v1h-1zM403.5 105.3h1v1h-1zM402.7 96.3h1v1h-1zM385.6 111.9h1v1h-1zM380.3 106.7h1v1h-1zM389.6 115.0h1v1h-1zM466.5 79.9h1v1h-1zM420.1 65.6h1v1h-1zM469.3 53.8h1v1h-1zM446.4 54.3h1v1h-1zM426.3 113.3h1v1h-1zM445.7 81.2h1v1h-1zM461.9 65.3h1v1h-1zM62.8 292.5h1v1h-1zM72.6 283.3h1v1h-1zM59.2 291.5h1v1h-1zM71.7 284.1h1v1h-1zM72.6 289.9h1v1h-1zM64.7 295.9h1v1h-1zM63.9 288.3h1v1h-1zM61.1 289.2h1v1h-1zM68.8 297.5h1v1h-1zM63.8 293.4h1v1h-1zM62.8 287.4h1v1h-1zM66.8 286.2h1v1h-1zM70.2 296.5h1v1h-1zM67.4 307.7h1v1h-1zM70.7 291.6h1v1h-1zM73.9 289.3h1v1h-1zM64.9 296.2h1v1h-1zM62.3 296.0h1v1h-1zM65.6 289.7h1v1h-1zM59.7 292.9h1v1h-1zM71.0 292.8h1v1h-1zM64.0 297.4h1v1h-1zM68.9 288.4h1v1h-1zM71.5 297.6h1v1h-1zM67.9 298.7h1v1h-1zM72.5 286.5h1v1h-1zM72.9 302.0h1v1h-1zM69.4 287.8h1v1h-1zM65.7 287.6h1v1h-1zM69.8 294.7h1v1h-1zM72.1 297.2h1v1h-1zM69.8 292.3h1v1h-1zM61.9 287.8h1v1h-1zM66.1 293.2h1v1h-1zM64.1 297.2h1v1h-1zM66.7 287.7h1v1h-1zM78.1 294.5h1v1h-1zM64.7 296.4h1v1h-1zM71.9 292.3h1v1h-1zM82.3 292.9h1v1h-1zM63.2 300.6h1v1h-1zM77.0 297.3h1v1h-1zM63.0 299.4h1v1h-1zM63.0 296.2h1v1h-1zM66.7 301.4h1v1h-1zM71.4 287.5h1v1h-1zM66.3 303.1h1v1h-1zM74.6 299.7h1v1h-1zM59.6 291.2h1v1h-1zM63.5 302.0h1v1h-1zM68.3 289.2h1v1h-1zM63.1 296.5h1v1h-1zM65.0 294.2h1v1h-1zM60.3 293.4h1v1h-1zM67.8 296.1h1v1h-1zM69.5 302.3h1v1h-1zM61.5 293.2h1v1h-1zM60.7 297.5h1v1h-1zM69.7 297.6h1v1h-1zM71.2 287.8h1v1h-1zM68.0 294.3h1v1h-1zM71.0 292.8h1v1h-1zM69.1 292.0h1v1h-1zM72.5 299.0h1v1h-1zM64.2 302.2h1v1h-1zM77.4 300.6h1v1h-1zM67.0 288.5h1v1h-1zM62.4 290.8h1v1h-1zM75.9 285.5h1v1h-1zM62.3 297.2h1v1h-1zM53.5 295.0h1v1h-1zM57.5 294.1h1v1h-1zM73.3 288.0h1v1h-1zM65.1 295.6h1v1h-1zM63.1 296.6h1v1h-1zM70.2 297.8h1v1h-1zM65.0 292.8h1v1h-1zM69.5 301.8h1v1h-1zM55.9 287.7h1v1h-1zM73.3 297.2h1v1h-1zM64.9 296.0h1v1h-1zM70.2 305.9h1v1h-1zM58.4 297.3h1v1h-1zM65.1 289.4h1v1h-1zM63.7 293.9h1v1h-1zM59.9 292.2h1v1h-1zM72.5 291.3h1v1h-1zM57.3 296.2h1v1h-1zM66.6 286.9h1v1h-1zM75.2 304.0h1v1h-1zM68.2 295.1h1v1h-1zM64.8 283.6h1v1h-1zM69.8 295.0h1v1h-1zM72.4 289.4h1v1h-1zM59.9 293.4h1v1h-1zM61.3 297.5h1v1h-1zM73.3 299.3h1v1h-1zM71.0 295.6h1v1h-1zM74.7 290.1h1v1h-1zM71.2 294.3h1v1h-1zM71.0 300.4h1v1h-1zM75.1 291.0h1v1h-1zM82.4 289.8h1v1h-1zM68.6 295.0h1v1h-1zM63.3 294.8h1v1h-1zM70.4 297.9h1v1h-1zM73.6 292.4h1v1h-1zM62.7 302.6h1v1h-1zM69.6 296.2h1v1h-1zM69.3 304.8h1v1h-1zM73.6 288.2h1v1h-1zM65.4 293.9h1v1h-1zM69.0 293.2h1v1h-1zM74.1 283.1h1v1h-1zM64.0 299.7h1v1h-1zM77.0 294.3h1v1h-1zM68.6 291.6h1v1h-1zM71.8 290.7h1v1h-1zM74.1 292.5h1v1h-1zM68.6 295.6h1v1h-1zM64.3 294.2h1v1h-1zM73.8 286.6h1v1h-1zM68.0 299.9h1v1h-1zM71.5 293.2h1v1h-1zM73.4 290.0h1v1h-1zM65.2 297.0h1v1h-1zM63.3 296.9h1v1h-1zM72.5 300.1h1v1h-1zM68.6 286.3h1v1h-1zM69.2 296.1h1v1h-1zM59.5 291.2h1v1h-1zM63.9 305.0h1v1h-1zM67.6 287.3h1v1h-1zM60.7 289.1h1v1h-1zM64.3 297.0h1v1h-1zM93.7 287.4h1v1h-1zM119.9 287.9h1v1h-1zM127.0 280.5h1v1h-1zM126.0 293.1h1v1h-1zM138.3 294.0h1v1h-1zM136.6 290.7h1v1h-1zM124.7 288.4h1v1h-1zM129.4 293.5h1v1h-1zM128.6 289.4h1v1h-1zM143.4 291.2h1v1h-1zM128.6 289.2h1v1h-1zM131.8 289.8h1v1h-1zM126.2 294.2h1v1h-1zM122.1 287.1h1v1h-1zM127.3 286.7h1v1h-1zM129.5 290.0h1v1h-1zM120.6 297.5h1v1h-1zM127.3 295.3h1v1h-1zM122.3 291.3h1v1h-1zM132.5 290.0h1v1h-1zM136.8 286.0h1v1h-1zM136.7 291.3h1v1h-1zM108.9 288.0h1v1h-1zM130.6 296.3h1v1h-1zM112.0 290.4h1v1h-1zM106.6 297.7h1v1h-1zM120.8 280.9h1v1h-1zM114.6 295.1h1v1h-1zM142.5 280.9h1v1h-1zM97.9 293.9h1v1h-1zM94.6 304.7h1v1h-1zM130.6 280.3h1v1h-1zM144.2 284.9h1v1h-1zM98.7 294.4h1v1h-1zM144.1 283.8h1v1h-1zM89.3 279.2h1v1h-1zM105.2 287.5h1v1h-1zM96.6 293.2h1v1h-1zM136.3 293.6h1v1h-1zM127.9 293.5h1v1h-1zM135.4 291.4h1v1h-1zM105.3 298.6h1v1h-1zM143.9 292.8h1v1h-1zM128.6 303.1h1v1h-1zM147.4 289.4h1v1h-1zM122.3 284.4h1v1h-1zM93.1 289.3h1v1h-1zM93.0 288.8h1v1h-1zM118.1 299.3h1v1h-1zM116.7 291.6h1v1h-1zM90.8 281.0h1v1h-1zM140.9 281.7h1v1h-1zM130.7 299.2h1v1h-1zM130.4 293.3h1v1h-1zM122.9 286.6h1v1h-1zM144.3 303.1h1v1h-1zM141.6 281.7h1v1h-1zM124.7 289.6h1v1h-1zM89.7 281.9h1v1h-1zM121.4 288.4h1v1h-1zM88.0 293.6h1v1h-1zM105.2 290.5h1v1h-1zM121.0 280.3h1v1h-1zM112.2 290.3h1v1h-1zM111.8 300.7h1v1h-1zM64.8 275.2h1v1h-1zM73.3 261.3h1v1h-1zM64.0 273.8h1v1h-1zM62.9 273.8h1v1h-1zM108.4 270.4h1v1h-1zM124.5 262.2h1v1h-1zM100.0 264.3h1v1h-1zM113.6 269.6h1v1h-1zM92.8 265.4h1v1h-1zM236.7 285.3h1v1h-1zM237.4 296.5h1v1h-1zM229.6 303.0h1v1h-1zM221.6 301.4h1v1h-1zM229.6 295.9h1v1h-1zM222.4 286.6h1v1h-1zM228.5 294.6h1v1h-1zM228.8 295.5h1v1h-1zM234.4 293.0h1v1h-1zM237.2 294.6h1v1h-1zM231.8 293.7h1v1h-1zM240.3 297.6h1v1h-1zM221.4 293.8h1v1h-1zM227.6 285.2h1v1h-1zM240.7 299.8h1v1h-1zM234.0 293.6h1v1h-1zM221.2 287.9h1v1h-1zM228.4 296.4h1v1h-1zM227.8 288.7h1v1h-1zM227.9 294.1h1v1h-1zM226.4 291.5h1v1h-1zM230.9 292.7h1v1h-1zM231.7 298.9h1v1h-1zM223.9 290.4h1v1h-1zM235.2 290.7h1v1h-1zM226.4 307.0h1v1h-1zM233.8 302.7h1v1h-1zM234.5 294.1h1v1h-1zM230.8 296.3h1v1h-1zM233.8 293.3h1v1h-1zM239.6 290.1h1v1h-1zM228.6 285.0h1v1h-1zM235.6 290.6h1v1h-1zM237.6 298.3h1v1h-1zM225.9 303.0h1v1h-1zM232.3 292.0h1v1h-1zM238.0 292.0h1v1h-1zM229.9 284.9h1v1h-1zM222.9 295.9h1v1h-1zM235.3 289.4h1v1h-1zM229.6 296.3h1v1h-1zM214.3 292.8h1v1h-1zM229.1 293.8h1v1h-1zM240.3 290.6h1v1h-1zM225.9 299.7h1v1h-1zM231.3 290.4h1v1h-1zM232.4 292.9h1v1h-1zM230.3 296.2h1v1h-1zM222.3 281.1h1v1h-1zM219.5 302.4h1v1h-1zM230.2 298.8h1v1h-1zM223.7 293.1h1v1h-1zM228.3 293.2h1v1h-1zM233.7 296.2h1v1h-1zM220.9 293.5h1v1h-1zM225.3 292.5h1v1h-1zM237.7 289.9h1v1h-1zM230.8 294.4h1v1h-1zM232.4 287.4h1v1h-1zM231.2 292.3h1v1h-1zM232.5 289.9h1v1h-1zM230.1 292.3h1v1h-1zM238.6 295.6h1v1h-1zM232.2 285.1h1v1h-1zM236.6 299.6h1v1h-1zM234.1 301.2h1v1h-1zM232.4 291.3h1v1h-1zM222.7 297.2h1v1h-1zM229.8 297.5h1v1h-1zM235.3 289.4h1v1h-1zM224.1 290.7h1v1h-1zM229.4 301.0h1v1h-1zM224.3 293.7h1v1h-1zM241.5 292.0h1v1h-1zM237.4 303.5h1v1h-1zM227.3 294.8h1v1h-1zM224.0 295.6h1v1h-1zM233.1 296.7h1v1h-1zM233.9 280.1h1v1h-1zM227.9 283.4h1v1h-1zM237.3 299.9h1v1h-1zM229.3 295.0h1v1h-1zM226.1 294.7h1v1h-1zM228.0 292.7h1v1h-1zM225.3 284.3h1v1h-1zM226.8 292.8h1v1h-1zM221.8 295.9h1v1h-1zM231.1 295.1h1v1h-1zM236.8 300.1h1v1h-1zM220.3 301.5h1v1h-1zM227.9 299.1h1v1h-1zM241.1 288.1h1v1h-1zM232.4 297.7h1v1h-1zM234.3 289.6h1v1h-1zM230.9 283.2h1v1h-1zM242.2 297.0h1v1h-1zM225.9 292.8h1v1h-1zM226.7 290.5h1v1h-1zM236.0 293.4h1v1h-1zM235.2 298.6h1v1h-1zM229.4 296.2h1v1h-1zM235.3 298.8h1v1h-1zM228.0 294.9h1v1h-1zM219.2 288.8h1v1h-1zM228.8 289.7h1v1h-1zM235.9 295.1h1v1h-1zM237.7 294.4h1v1h-1zM236.7 293.2h1v1h-1zM216.5 289.7h1v1h-1zM227.7 290.7h1v1h-1zM223.5 297.5h1v1h-1zM242.6 298.7h1v1h-1zM236.0 293.6h1v1h-1zM234.2 296.4h1v1h-1zM224.9 292.6h1v1h-1zM229.7 290.4h1v1h-1zM233.8 287.3h1v1h-1zM234.5 288.4h1v1h-1zM222.5 297.0h1v1h-1zM225.6 290.1h1v1h-1zM234.5 290.6h1v1h-1zM229.4 282.2h1v1h-1zM237.7 297.5h1v1h-1zM235.9 302.7h1v1h-1zM229.3 306.1h1v1h-1zM304.2 287.5h1v1h-1zM306.2 294.3h1v1h-1zM280.7 294.0h1v1h-1zM304.9 290.1h1v1h-1zM295.8 287.9h1v1h-1zM309.1 292.5h1v1h-1zM300.4 296.4h1v1h-1zM296.8 295.0h1v1h-1zM289.0 288.8h1v1h-1zM287.2 288.2h1v1h-1zM307.0 295.8h1v1h-1zM307.4 284.5h1v1h-1zM297.8 289.4h1v1h-1zM317.7 284.9h1v1h-1zM305.9 287.4h1v1h-1zM312.9 290.8h1v1h-1zM295.7 291.5h1v1h-1zM307.7 289.9h1v1h-1zM300.7 293.5h1v1h-1zM302.2 294.6h1v1h-1zM293.6 296.9h1v1h-1zM285.3 289.6h1v1h-1zM296.1 291.4h1v1h-1zM299.1 282.6h1v1h-1zM289.6 299.1h1v1h-1zM278.3 287.6h1v1h-1zM251.5 304.5h1v1h-1zM270.2 286.0h1v1h-1zM307.4 295.8h1v1h-1zM317.8 292.9h1v1h-1zM306.1 283.9h1v1h-1zM315.9 294.2h1v1h-1zM288.0 295.4h1v1h-1zM277.1 300.2h1v1h-1zM250.4 297.5h1v1h-1zM314.5 300.5h1v1h-1zM249.4 295.5h1v1h-1zM265.2 283.7h1v1h-1zM256.4 287.4h1v1h-1zM303.6 292.8h1v1h-1zM268.3 304.9h1v1h-1zM293.2 289.8h1v1h-1zM302.4 296.8h1v1h-1zM286.3 289.8h1v1h-1zM256.1 283.0h1v1h-1zM251.6 287.3h1v1h-1zM306.2 303.1h1v1h-1zM264.0 297.2h1v1h-1zM268.9 298.0h1v1h-1zM304.6 291.8h1v1h-1zM260.6 301.9h1v1h-1zM260.0 296.4h1v1h-1zM260.7 285.5h1v1h-1zM263.2 289.7h1v1h-1zM280.8 287.5h1v1h-1zM276.4 296.8h1v1h-1zM294.4 290.6h1v1h-1zM282.9 290.3h1v1h-1zM302.6 286.4h1v1h-1zM306.5 279.3h1v1h-1zM297.5 291.5h1v1h-1zM267.2 286.8h1v1h-1zM251.6 304.7h1v1h-1zM299.3 295.0h1v1h-1zM294.8 299.2h1v1h-1zM272.3 294.7h1v1h-1zM290.3 286.6h1v1h-1zM299.6 286.0h1v1h-1zM289.1 287.2h1v1h-1zM299.2 289.9h1v1h-1zM284.9 292.0h1v1h-1zM302.1 292.2h1v1h-1zM287.0 298.6h1v1h-1zM298.8 286.3h1v1h-1zM264.3 284.2h1v1h-1zM280.9 287.9h1v1h-1zM269.4 296.5h1v1h-1zM316.6 284.1h1v1h-1zM278.2 289.8h1v1h-1zM251.2 294.4h1v1h-1zM250.8 289.8h1v1h-1zM287.2 293.9h1v1h-1zM244.1 273.9h1v1h-1zM227.5 243.2h1v1h-1zM223.9 269.6h1v1h-1zM240.4 261.5h1v1h-1zM233.2 265.1h1v1h-1zM228.3 269.4h1v1h-1zM227.1 235.0h1v1h-1zM236.2 258.8h1v1h-1zM231.4 263.6h1v1h-1zM228.8 239.4h1v1h-1zM225.2 263.1h1v1h-1zM235.9 269.9h1v1h-1zM233.8 270.5h1v1h-1zM233.9 265.2h1v1h-1zM241.4 251.5h1v1h-1zM220.8 234.3h1v1h-1zM228.8 275.4h1v1h-1zM255.2 265.4h1v1h-1zM253.1 263.7h1v1h-1zM268.0 255.8h1v1h-1zM266.2 266.6h1v1h-1zM382.3 294.6h1v1h-1zM383.2 290.8h1v1h-1zM394.4 304.1h1v1h-1zM396.4 291.3h1v1h-1zM398.0 296.6h1v1h-1zM387.7 294.8h1v1h-1zM388.0 294.5h1v1h-1zM394.8 292.4h1v1h-1zM394.0 303.2h1v1h-1zM395.5 296.1h1v1h-1zM389.1 298.1h1v1h-1zM394.3 304.5h1v1h-1zM398.9 302.1h1v1h-1zM388.4 302.3h1v1h-1zM380.5 291.5h1v1h-1zM380.3 286.3h1v1h-1zM403.3 294.6h1v1h-1zM393.7 291.5h1v1h-1zM396.6 287.1h1v1h-1zM393.2 288.1h1v1h-1zM389.3 291.1h1v1h-1zM387.3 299.8h1v1h-1zM379.2 291.4h1v1h-1zM383.4 289.0h1v1h-1zM382.4 290.1h1v1h-1zM388.8 286.8h1v1h-1zM387.9 298.6h1v1h-1zM401.2 295.4h1v1h-1zM384.9 294.2h1v1h-1zM390.0 300.5h1v1h-1zM387.5 290.3h1v1h-1zM389.6 304.3h1v1h-1zM394.3 293.9h1v1h-1zM396.5 301.8h1v1h-1zM384.4 295.3h1v1h-1zM388.0 303.1h1v1h-1zM390.4 299.6h1v1h-1zM391.1 301.3h1v1h-1zM387.4 294.4h1v1h-1zM382.8 288.3h1v1h-1zM390.9 288.8h1v1h-1zM402.2 298.0h1v1h-1zM387.0 296.5h1v1h-1zM402.6 295.6h1v1h-1zM393.3 289.7h1v1h-1zM388.6 301.4h1v1h-1zM387.5 287.0h1v1h-1zM387.4 303.8h1v1h-1zM384.4 293.7h1v1h-1zM385.6 301.3h1v1h-1zM384.9 300.6h1v1h-1zM395.5 297.8h1v1h-1zM399.3 296.0h1v1h-1zM391.1 297.5h1v1h-1zM396.4 288.5h1v1h-1zM386.5 291.4h1v1h-1zM384.7 293.5h1v1h-1zM398.9 299.9h1v1h-1zM391.2 296.8h1v1h-1zM383.4 297.5h1v1h-1zM384.7 281.8h1v1h-1zM388.8 300.9h1v1h-1zM389.7 299.7h1v1h-1zM389.0 287.4h1v1h-1zM386.1 296.0h1v1h-1zM401.9 298.8h1v1h-1zM397.8 299.7h1v1h-1zM386.7 297.3h1v1h-1zM389.3 295.1h1v1h-1zM394.0 299.8h1v1h-1zM390.2 297.7h1v1h-1zM389.7 292.8h1v1h-1zM388.9 300.0h1v1h-1zM398.7 300.3h1v1h-1zM391.9 295.2h1v1h-1zM386.3 293.2h1v1h-1zM393.9 295.6h1v1h-1zM399.5 290.8h1v1h-1zM406.3 288.5h1v1h-1zM395.1 306.4h1v1h-1zM380.5 297.8h1v1h-1zM390.4 296.8h1v1h-1zM384.2 289.9h1v1h-1zM389.8 291.2h1v1h-1zM396.0 285.9h1v1h-1zM390.4 290.2h1v1h-1zM397.7 293.8h1v1h-1zM391.9 304.9h1v1h-1zM394.2 285.1h1v1h-1zM388.7 296.4h1v1h-1zM382.8 286.3h1v1h-1zM399.3 294.2h1v1h-1zM382.4 288.4h1v1h-1zM387.7 292.4h1v1h-1zM384.1 289.4h1v1h-1zM387.8 293.0h1v1h-1zM395.9 286.7h1v1h-1zM384.7 299.6h1v1h-1zM395.2 300.6h1v1h-1zM384.2 296.9h1v1h-1zM394.8 294.2h1v1h-1zM390.5 285.9h1v1h-1zM387.3 287.8h1v1h-1zM388.2 291.1h1v1h-1zM391.9 299.0h1v1h-1zM387.8 294.8h1v1h-1zM385.2 299.2h1v1h-1zM398.3 295.7h1v1h-1zM395.6 301.8h1v1h-1zM380.0 300.8h1v1h-1zM389.6 295.1h1v1h-1zM382.1 305.8h1v1h-1zM388.3 291.7h1v1h-1zM387.1 288.2h1v1h-1zM389.0 297.4h1v1h-1zM390.6 292.5h1v1h-1zM392.5 298.2h1v1h-1zM393.0 297.0h1v1h-1zM396.5 293.8h1v1h-1zM394.2 295.3h1v1h-1zM381.7 290.1h1v1h-1zM424.2 291.2h1v1h-1zM456.9 292.2h1v1h-1zM460.6 290.1h1v1h-1zM448.5 292.1h1v1h-1zM465.9 293.3h1v1h-1zM447.3 285.7h1v1h-1zM468.7 283.1h1v1h-1zM448.6 288.2h1v1h-1zM460.6 292.8h1v1h-1zM439.5 299.9h1v1h-1zM460.9 283.3h1v1h-1zM425.8 292.7h1v1h-1zM446.9 292.2h1v1h-1zM464.5 290.7h1v1h-1zM454.7 293.5h1v1h-1zM433.3 290.0h1v1h-1zM444.2 283.3h1v1h-1zM440.0 285.5h1v1h-1zM436.4 291.7h1v1h-1zM429.0 292.1h1v1h-1zM442.5 293.8h1v1h-1zM430.5 292.2h1v1h-1zM453.0 295.8h1v1h-1zM441.1 289.4h1v1h-1zM469.0 291.9h1v1h-1zM439.7 296.1h1v1h-1zM438.5 298.3h1v1h-1zM448.9 286.1h1v1h-1zM448.7 297.3h1v1h-1zM463.3 285.3h1v1h-1zM463.2 289.8h1v1h-1zM463.7 296.3h1v1h-1zM411.4 305.4h1v1h-1zM446.2 297.6h1v1h-1zM468.5 288.1h1v1h-1zM445.8 291.2h1v1h-1zM456.3 297.1h1v1h-1zM444.0 284.9h1v1h-1zM411.7 289.0h1v1h-1zM426.5 289.5h1v1h-1zM470.6 288.2h1v1h-1zM446.1 307.3h1v1h-1zM427.5 299.6h1v1h-1zM427.6 300.0h1v1h-1zM440.3 298.4h1v1h-1zM419.1 295.0h1v1h-1zM471.6 292.6h1v1h-1zM410.9 298.7h1v1h-1zM448.8 289.6h1v1h-1zM440.9 301.8h1v1h-1zM449.3 305.1h1v1h-1zM466.4 291.8h1v1h-1zM410.8 302.4h1v1h-1zM439.3 287.4h1v1h-1zM438.0 294.1h1v1h-1zM453.2 294.5h1v1h-1zM472.2 286.1h1v1h-1zM433.8 303.7h1v1h-1zM451.7 284.4h1v1h-1zM455.6 291.1h1v1h-1zM447.9 296.0h1v1h-1zM421.9 284.2h1v1h-1zM470.3 294.9h1v1h-1zM453.6 303.5h1v1h-1zM453.3 289.5h1v1h-1zM443.7 291.6h1v1h-1zM433.0 297.2h1v1h-1zM446.7 293.8h1v1h-1zM437.2 301.4h1v1h-1zM451.0 303.1h1v1h-1zM460.8 299.8h1v1h-1zM440.4 287.9h1v1h-1zM459.5 301.5h1v1h-1zM431.4 281.5h1v1h-1zM442.8 299.7h1v1h-1zM427.3 284.9h1v1h-1zM447.5 303.1h1v1h-1zM389.7 274.8h1v1h-1zM389.7 259.3h1v1h-1zM387.3 260.2h1v1h-1zM392.3 233.4h1v1h-1zM395.8 244.2h1v1h-1zM394.4 245.9h1v1h-1zM391.7 255.2h1v1h-1zM385.6 274.3h1v1h-1zM388.5 261.3h1v1h-1zM387.7 266.2h1v1h-1zM391.7 225.8h1v1h-1zM401.5 272.7h1v1h-1zM386.1 268.3h1v1h-1zM402.7 272.6h1v1h-1zM379.6 271.0h1v1h-1zM395.8 269.4h1v1h-1zM404.4 225.6h1v1h-1zM422.8 272.2h1v1h-1zM416.9 266.4h1v1h-1zM424.2 249.4h1v1h-1z"/><path fill="#000" fill-opacity="0.4" d="M55.9 141.8h1v1h-1zM59.0 132.7h1v1h-1zM66.1 136.2h1v1h-1zM69.1 144.8h1v1h-1zM58.5 138.1h1v1h-1zM65.8 145.6h1v1h-1zM64.4 131.4h1v1h-1zM65.6 142.2h1v1h-1zM67.1 137.6h1v1h-1zM54.9 141.4h1v1h-1zM56.8 137.0h1v1h-1zM63.0 141.2h1v1h-1zM60.7 128.0h1v1h-1zM64.0 138.6h1v1h-1zM69.6 139.9h1v1h-1zM65.8 142.1h1v1h-1zM53.4 135.1h1v1h-1zM68.5 132.5h1v1h-1zM74.5 142.0h1v1h-1zM66.2 140.4h1v1h-1zM57.5 137.6h1v1h-1zM55.9 135.1h1v1h-1zM74.0 146.0h1v1h-1zM67.6 139.0h1v1h-1zM67.4 140.0h1v1h-1zM70.4 147.4h1v1h-1zM65.0 142.1h1v1h-1zM71.8 132.9h1v1h-1zM63.1 141.2h1v1h-1zM65.2 137.9h1v1h-1zM59.8 141.7h1v1h-1zM63.4 135.1h1v1h-1zM62.1 136.1h1v1h-1zM60.8 144.4h1v1h-1zM70.2 135.6h1v1h-1zM58.1 147.3h1v1h-1zM61.4 144.7h1v1h-1zM78.1 145.0h1v1h-1zM65.1 132.8h1v1h-1zM67.0 143.8h1v1h-1zM65.5 149.6h1v1h-1zM71.0 139.9h1v1h-1zM67.8 130.6h1v1h-1zM63.1 130.2h1v1h-1zM70.5 128.5h1v1h-1zM63.4 141.9h1v1h-1zM65.4 138.4h1v1h-1zM68.1 129.5h1v1h-1zM57.1 137.2h1v1h-1zM60.0 135.5h1v1h-1zM66.4 134.6h1v1h-1zM64.4 141.9h1v1h-1zM64.0 136.6h1v1h-1zM63.9 127.0h1v1h-1zM64.3 137.6h1v1h-1zM58.8 134.8h1v1h-1zM59.8 136.6h1v1h-1zM71.9 142.4h1v1h-1zM74.8 133.0h1v1h-1zM59.8 133.1h1v1h-1zM59.8 150.2h1v1h-1zM72.7 131.4h1v1h-1zM62.8 144.2h1v1h-1zM63.6 135.0h1v1h-1zM74.0 139.1h1v1h-1zM61.8 133.3h1v1h-1zM69.7 137.7h1v1h-1zM77.7 135.5h1v1h-1zM59.0 149.6h1v1h-1zM58.3 138.4h1v1h-1zM64.4 139.5h1v1h-1zM72.2 134.1h1v1h-1zM57.9 132.7h1v1h-1zM70.3 139.0h1v1h-1zM63.4 132.6h1v1h-1zM54.6 129.8h1v1h-1zM55.5 136.5h1v1h-1zM67.0 133.0h1v1h-1zM71.6 146.2h1v1h-1zM61.7 145.8h1v1h-1zM65.8 131.8h1v1h-1zM77.4 143.7h1v1h-1zM67.3 139.5h1v1h-1zM61.0 131.7h1v1h-1zM62.3 130.5h1v1h-1zM73.0 139.1h1v1h-1zM55.9 151.4h1v1h-1zM66.4 140.9h1v1h-1zM72.0 144.3h1v1h-1zM67.2 138.2h1v1h-1zM69.3 140.6h1v1h-1zM57.3 145.5h1v1h-1zM53.3 136.6h1v1h-1zM61.7 135.0h1v1h-1zM61.8 133.7h1v1h-1zM70.3 144.8h1v1h-1zM63.8 147.3h1v1h-1zM60.4 133.7h1v1h-1zM71.2 139.9h1v1h-1zM73.7 146.8h1v1h-1zM60.4 151.0h1v1h-1zM64.7 148.0h1v1h-1zM69.8 139.8h1v1h-1zM56.2 136.4h1v1h-1zM69.5 146.2h1v1h-1zM63.7 136.6h1v1h-1zM64.0 137.7h1v1h-1zM69.4 139.9h1v1h-1zM63.5 135.4h1v1h-1zM64.6 146.7h1v1h-1zM62.3 125.3h1v1h-1zM64.6 141.1h1v1h-1zM70.8 124.0h1v1h-1zM68.2 142.1h1v1h-1zM66.4 141.4h1v1h-1zM60.2 136.5h1v1h-1zM56.2 133.7h1v1h-1zM72.4 140.9h1v1h-1zM68.2 140.4h1v1h-1zM66.6 139.9h1v1h-1zM69.9 148.6h1v1h-1zM63.0 137.9h1v1h-1zM65.8 137.4h1v1h-1zM60.9 136.7h1v1h-1zM71.8 137.2h1v1h-1zM64.1 142.4h1v1h-1zM63.5 140.4h1v1h-1zM73.6 133.8h1v1h-1zM72.0 137.4h1v1h-1zM60.4 150.2h1v1h-1zM66.8 135.1h1v1h-1zM61.1 145.9h1v1h-1zM67.6 147.2h1v1h-1zM71.2 134.0h1v1h-1zM68.4 126.7h1v1h-1zM71.4 137.0h1v1h-1zM123.6 129.5h1v1h-1zM115.1 129.9h1v1h-1zM123.6 131.5h1v1h-1zM135.9 129.0h1v1h-1zM127.8 133.7h1v1h-1zM111.4 140.0h1v1h-1zM128.0 126.5h1v1h-1zM129.4 126.3h1v1h-1zM117.4 127.3h1v1h-1zM130.6 134.1h1v1h-1zM129.8 135.2h1v1h-1zM133.2 125.8h1v1h-1zM133.1 131.6h1v1h-1zM107.3 129.3h1v1h-1zM112.7 139.8h1v1h-1zM126.0 129.9h1v1h-1zM109.7 129.0h1v1h-1zM110.4 131.6h1v1h-1zM127.5 131.2h1v1h-1zM110.4 133.7h1v1h-1zM133.1 128.7h1v1h-1zM138.3 135.7h1v1h-1zM125.4 130.1h1v1h-1zM137.3 125.0h1v1h-1zM118.2 133.5h1v1h-1zM111.3 132.4h1v1h-1zM130.6 127.5h1v1h-1zM110.3 137.2h1v1h-1zM130.7 129.7h1v1h-1zM109.7 133.3h1v1h-1zM99.7 134.4h1v1h-1zM116.5 132.9h1v1h-1zM105.7 135.6h1v1h-1zM130.0 132.2h1v1h-1zM110.6 130.5h1v1h-1zM121.7 128.7h1v1h-1zM109.4 149.4h1v1h-1zM112.5 126.2h1v1h-1zM127.2 125.6h1v1h-1zM112.9 133.6h1v1h-1zM127.2 131.7h1v1h-1zM96.5 135.3h1v1h-1zM92.2 129.5h1v1h-1zM113.9 132.8h1v1h-1zM106.5 143.7h1v1h-1zM98.0 131.3h1v1h-1zM140.1 135.7h1v1h-1zM100.9 139.1h1v1h-1zM122.3 133.9h1v1h-1zM116.7 134.3h1v1h-1zM111.2 130.5h1v1h-1zM127.7 135.4h1v1h-1zM111.4 127.9h1v1h-1zM91.7 128.4h1v1h-1zM111.7 137.5h1v1h-1zM106.9 135.4h1v1h-1zM98.5 134.3h1v1h-1zM107.3 137.4h1v1h-1zM106.9 133.5h1v1h-1zM141.3 138.3h1v1h-1zM117.5 137.7h1v1h-1zM96.4 130.8h1v1h-1zM127.2 139.4h1v1h-1zM95.2 135.6h1v1h-1zM123.1 134.0h1v1h-1zM95.2 128.6h1v1h-1zM105.6 124.5h1v1h-1zM131.0 138.9h1v1h-1zM130.5 138.3h1v1h-1zM97.5 129.8h1v1h-1zM100.9 136.5h1v1h-1zM139.6 128.5h1v1h-1zM111.3 136.4h1v1h-1zM87.2 142.9h1v1h-1zM140.6 131.3h1v1h-1zM101.5 146.3h1v1h-1zM137.9 132.3h1v1h-1zM88.0 131.0h1v1h-1zM98.1 129.6h1v1h-1zM142.0 133.7h1v1h-1zM102.1 129.8h1v1h-1zM91.4 137.5h1v1h-1zM111.1 133.2h1v1h-1zM98.2 131.0h1v1h-1zM95.9 129.5h1v1h-1zM127.8 134.4h1v1h-1zM139.6 128.2h1v1h-1zM133.5 127.4h1v1h-1zM127.0 131.3h1v1h-1zM137.6 136.1h1v1h-1zM140.4 126.2h1v1h-1zM129.6 129.4h1v1h-1zM106.1 137.3h1v1h-1zM111.6 131.4h1v1h-1zM107.3 124.8h1v1h-1zM133.1 143.3h1v1h-1zM107.1 139.7h1v1h-1zM58.1 114.4h1v1h-1zM66.9 106.6h1v1h-1zM75.3 106.7h1v1h-1zM70.7 108.0h1v1h-1zM69.0 82.5h1v1h-1zM58.5 100.0h1v1h-1zM54.1 104.6h1v1h-1zM67.3 113.1h1v1h-1zM127.0 75.1h1v1h-1zM115.8 103.1h1v1h-1zM232.7 140.8h1v1h-1zM228.2 139.3h1v1h-1zM224.4 134.7h1v1h-1zM218.6 134.6h1v1h-1zM223.9 147.3h1v1h-1zM221.2 131.2h1v1h-1zM225.7 128.6h1v1h-1zM229.4 134.6h1v1h-1zM228.7 133.3h1v1h-1zM227.7 136.9h1v1h-1zM228.2 141.1h1v1h-1zM225.5 133.0h1v1h-1zM226.1 138.5h1v1h-1zM225.1 126.8h1v1h-1zM224.7 133.6h1v1h-1zM221.8 148.7h1v1h-1zM229.3 142.2h1v1h-1zM227.9 139.9h1v1h-1zM219.3 133.7h1v1h-1zM226.8 141.5h1v1h-1zM229.3 132.4h1v1h-1zM231.0 136.3h1v1h-1zM215.9 136.1h1v1h-1zM223.5 131.1h1v1h-1zM225.4 132.7h1v1h-1zM229.6 142.3h1v1h-1zM224.6 130.8h1v1h-1zM222.4 132.3h1v1h-1zM226.8 130.2h1v1h-1zM228.7 143.0h1v1h-1zM232.0 137.6h1v1h-1zM236.0 131.1h1v1h-1zM234.9 133.7h1v1h-1zM227.6 134.3h1v1h-1zM219.7 135.4h1v1h-1zM224.7 133.3h1v1h-1zM225.6 149.5h1v1h-1zM218.0 126.2h1v1h-1zM224.4 135.9h1v1h-1zM232.6 126.6h1v1h-1zM229.4 136.5h1v1h-1zM234.6 132.5h1v1h-1zM217.0 133.3h1v1h-1zM220.3 134.6h1v1h-1zM225.3 145.8h1v1h-1zM225.2 128.9h1v1h-1zM228.2 126.9h1v1h-1zM235.8 126.9h1v1h-1zM224.0 137.1h1v1h-1zM223.6 135.6h1v1h-1zM225.4 132.8h1v1h-1zM217.9 136.5h1v1h-1zM226.5 139.8h1v1h-1zM229.9 138.6h1v1h-1zM217.5 139.0h1v1h-1zM233.3 138.2h1v1h-1zM221.1 137.4h1v1h-1zM226.9 131.4h1v1h-1zM220.5 132.4h1v1h-1zM228.4 130.4h1v1h-1zM234.8 133.4h1v1h-1zM221.7 136.5h1v1h-1zM217.9 132.4h1v1h-1zM216.3 128.7h1v1h-1zM225.4 142.2h1v1h-1zM224.4 139.2h1v1h-1zM219.2 129.3h1v1h-1zM223.5 142.3h1v1h-1zM237.4 144.1h1v1h-1zM221.9 139.3h1v1h-1zM218.8 134.2h1v1h-1zM226.2 140.2h1v1h-1zM231.0 125.4h1v1h-1zM230.5 136.9h1v1h-1zM224.1 141.0h1v1h-1zM224.2 128.8h1v1h-1zM225.2 143.6h1v1h-1zM218.6 142.4h1v1h-1zM216.7 137.4h1v1h-1zM228.9 138.6h1v1h-1zM228.7 134.6h1v1h-1zM233.7 133.0h1v1h-1zM232.5 135.8h1v1h-1zM222.2 138.6h1v1h-1zM217.7 137.4h1v1h-1zM230.3 131.7h1v1h-1zM220.9 133.7h1v1h-1zM226.7 132.9h1v1h-1zM225.8 131.9h1v1h-1zM219.8 141.7h1v1h-1zM228.4 137.8h1v1h-1zM220.4 135.9h1v1h-1zM227.3 136.6h1v1h-1zM222.0 134.7h1v1h-1zM230.9 137.8h1v1h-1zM220.7 132.5h1v1h-1zM220.9 133.3h1v1h-1zM228.1 135.7h1v1h-1zM228.0 132.1h1v1h-1zM225.7 134.3h1v1h-1zM223.1 139.3h1v1h-1zM237.6 135.0h1v1h-1zM222.0 135.7h1v1h-1zM222.4 135.4h1v1h-1zM233.4 140.6h1v1h-1zM226.9 137.3h1v1h-1zM227.5 136.3h1v1h-1zM231.9 140.3h1v1h-1zM232.6 131.3h1v1h-1zM225.0 130.2h1v1h-1zM219.4 142.6h1v1h-1zM223.4 136.6h1v1h-1zM225.6 137.2h1v1h-1zM226.9 139.1h1v1h-1zM222.6 129.7h1v1h-1zM226.4 134.1h1v1h-1zM215.8 135.2h1v1h-1zM220.4 127.2h1v1h-1zM220.1 128.8h1v1h-1zM223.6 130.4h1v1h-1zM224.6 143.7h1v1h-1zM217.1 127.3h1v1h-1zM229.4 131.1h1v1h-1zM231.5 130.7h1v1h-1zM231.8 138.8h1v1h-1zM223.7 131.5h1v1h-1zM223.2 134.2h1v1h-1zM221.2 134.8h1v1h-1zM227.9 137.0h1v1h-1zM225.6 137.5h1v1h-1zM218.9 127.7h1v1h-1zM221.1 134.3h1v1h-1zM224.7 137.5h1v1h-1zM217.8 133.1h1v1h-1zM218.2 142.3h1v1h-1zM218.1 127.3h1v1h-1zM225.8 143.7h1v1h-1zM217.7 142.9h1v1h-1zM224.5 127.9h1v1h-1zM216.6 144.0h1v1h-1zM221.5 127.1h1v1h-1zM222.4 131.8h1v1h-1zM221.4 145.5h1v1h-1zM227.6 134.5h1v1h-1zM224.2 136.9h1v1h-1zM221.2 130.7h1v1h-1zM285.4 130.3h1v1h-1zM284.9 136.8h1v1h-1zM276.4 135.7h1v1h-1zM278.2 135.7h1v1h-1zM283.2 143.1h1v1h-1zM288.5 134.7h1v1h-1zM283.1 127.9h1v1h-1zM271.4 132.5h1v1h-1zM279.9 134.4h1v1h-1zM284.8 124.3h1v1h-1zM293.5 131.5h1v1h-1zM279.2 135.2h1v1h-1zM295.5 130.5h1v1h-1zM298.0 138.8h1v1h-1zM289.2 139.4h1v1h-1zM292.5 133.0h1v1h-1zM278.4 131.0h1v1h-1zM276.3 135.3h1v1h-1zM287.0 131.5h1v1h-1zM273.9 132.8h1v1h-1zM290.0 131.0h1v1h-1zM277.4 142.1h1v1h-1zM280.2 129.4h1v1h-1zM275.4 132.1h1v1h-1zM275.1 139.7h1v1h-1zM277.1 138.3h1v1h-1zM273.7 135.0h1v1h-1zM282.9 133.3h1v1h-1zM298.9 134.4h1v1h-1zM292.8 130.6h1v1h-1zM282.7 139.1h1v1h-1zM277.5 140.6h1v1h-1zM278.3 134.6h1v1h-1zM281.2 132.8h1v1h-1zM274.8 132.1h1v1h-1zM276.3 140.2h1v1h-1zM275.9 139.8h1v1h-1zM297.4 140.6h1v1h-1zM285.2 128.6h1v1h-1zM276.2 134.8h1v1h-1zM266.7 135.0h1v1h-1zM280.2 128.2h1v1h-1zM256.7 132.9h1v1h-1zM259.8 145.8h1v1h-1zM291.9 136.4h1v1h-1zM251.0 133.3h1v1h-1zM292.5 135.3h1v1h-1zM299.5 137.8h1v1h-1zM274.6 135.3h1v1h-1zM248.1 131.8h1v1h-1zM289.1 129.8h1v1h-1zM269.6 129.0h1v1h-1zM296.7 142.5h1v1h-1zM284.1 146.0h1v1h-1zM273.5 137.2h1v1h-1zM247.9 139.4h1v1h-1zM283.0 130.8h1v1h-1zM275.4 141.4h1v1h-1zM292.7 134.9h1v1h-1zM269.4 137.1h1v1h-1zM252.9 135.8h1v1h-1zM254.8 138.5h1v1h-1zM260.2 127.0h1v1h-1zM259.5 139.1h1v1h-1zM302.0 138.8h1v1h-1zM287.2 131.9h1v1h-1zM259.7 129.7h1v1h-1zM275.4 128.3h1v1h-1zM265.6 128.6h1v1h-1zM288.1 148.0h1v1h-1zM299.0 126.9h1v1h-1zM279.2 130.3h1v1h-1zM287.8 144.6h1v1h-1zM300.3 136.1h1v1h-1zM300.8 133.1h1v1h-1zM276.7 134.1h1v1h-1zM260.3 143.6h1v1h-1zM260.3 139.1h1v1h-1zM241.7 74.1h1v1h-1zM227.4 116.8h1v1h-1zM229.1 74.6h1v1h-1zM234.4 83.1h1v1h-1zM225.1 77.4h1v1h-1zM224.1 108.6h1v1h-1zM241.6 91.6h1v1h-1zM233.2 120.1h1v1h-1zM238.2 100.6h1v1h-1zM239.5 101.0h1v1h-1zM219.7 120.9h1v1h-1zM235.7 96.9h1v1h-1zM242.7 74.7h1v1h-1zM242.1 115.7h1v1h-1zM231.0 76.0h1v1h-1zM221.9 119.1h1v1h-1zM228.9 114.5h1v1h-1zM224.4 106.4h1v1h-1zM241.1 90.4h1v1h-1zM259.6 116.9h1v1h-1zM248.5 94.1h1v1h-1zM386.2 143.2h1v1h-1zM384.2 134.5h1v1h-1zM393.5 128.1h1v1h-1zM394.0 140.9h1v1h-1zM388.4 135.3h1v1h-1zM392.7 130.9h1v1h-1zM386.3 134.3h1v1h-1zM388.7 139.0h1v1h-1zM394.4 133.5h1v1h-1zM381.5 150.2h1v1h-1zM378.3 134.1h1v1h-1zM390.4 143.0h1v1h-1zM394.4 132.6h1v1h-1zM382.8 141.7h1v1h-1zM386.6 127.2h1v1h-1zM378.4 138.1h1v1h-1zM384.6 141.3h1v1h-1zM380.4 129.2h1v1h-1zM389.3 136.0h1v1h-1zM386.7 146.4h1v1h-1zM386.6 147.0h1v1h-1zM384.6 131.7h1v1h-1zM389.0 146.6h1v1h-1zM383.1 137.7h1v1h-1zM391.1 141.3h1v1h-1zM378.4 132.6h1v1h-1zM384.8 133.1h1v1h-1zM386.3 148.8h1v1h-1zM388.4 128.1h1v1h-1zM392.9 141.3h1v1h-1zM388.7 137.8h1v1h-1zM381.6 131.9h1v1h-1zM385.9 137.6h1v1h-1zM379.0 131.4h1v1h-1zM393.7 133.9h1v1h-1zM384.2 138.1h1v1h-1zM385.1 137.2h1v1h-1zM389.1 136.0h1v1h-1zM386.8 134.1h1v1h-1zM389.8 138.9h1v1h-1zM394.3 138.8h1v1h-1zM392.4 140.5h1v1h-1zM387.5 151.9h1v1h-1zM388.7 130.3h1v1h-1zM388.0 130.0h1v1h-1zM389.2 140.3h1v1h-1zM382.1 126.8h1v1h-1zM378.9 135.2h1v1h-1zM389.1 148.2h1v1h-1zM387.8 146.6h1v1h-1zM395.3 133.1h1v1h-1zM380.4 136.9h1v1h-1zM384.5 135.9h1v1h-1zM381.7 129.2h1v1h-1zM393.2 140.1h1v1h-1zM383.5 136.2h1v1h-1zM378.1 140.2h1v1h-1zM391.5 138.3h1v1h-1zM380.7 139.5h1v1h-1zM383.4 141.3h1v1h-1zM393.0 135.3h1v1h-1zM379.5 136.0h1v1h-1zM385.5 147.9h1v1h-1zM389.7 148.2h1v1h-1zM386.7 139.0h1v1h-1zM386.8 134.3h1v1h-1zM384.6 128.7h1v1h-1zM384.1 137.8h1v1h-1zM386.1 144.1h1v1h-1zM384.7 141.1h1v1h-1zM393.5 146.5h1v1h-1zM380.8 136.9h1v1h-1zM384.5 140.7h1v1h-1zM384.9 134.0h1v1h-1zM391.8 146.9h1v1h-1zM380.6 129.2h1v1h-1zM378.6 135.4h1v1h-1zM385.1 132.2h1v1h-1zM388.1 143.2h1v1h-1zM385.1 141.2h1v1h-1zM381.9 145.8h1v1h-1zM388.1 148.1h1v1h-1zM391.7 130.5h1v1h-1zM398.2 134.2h1v1h-1zM385.1 140.2h1v1h-1zM389.5 140.4h1v1h-1zM379.0 133.9h1v1h-1zM387.0 143.4h1v1h-1zM380.4 141.1h1v1h-1zM386.1 147.3h1v1h-1zM394.2 129.5h1v1h-1zM391.1 133.0h1v1h-1zM377.9 138.6h1v1h-1zM381.3 133.4h1v1h-1zM384.1 136.0h1v1h-1zM396.3 136.5h1v1h-1zM390.7 128.9h1v1h-1zM380.6 143.3h1v1h-1zM382.5 147.5h1v1h-1zM385.2 145.2h1v1h-1zM381.7 145.4h1v1h-1zM385.9 143.3h1v1h-1zM382.6 136.4h1v1h-1zM383.7 136.5h1v1h-1zM388.2 148.7h1v1h-1zM390.2 140.6h1v1h-1zM394.0 125.9h1v1h-1zM385.4 128.3h1v1h-1zM379.5 132.3h1v1h-1zM390.4 127.4h1v1h-1zM381.1 129.0h1v1h-1zM381.9 136.3h1v1h-1zM385.8 130.9h1v1h-1zM379.1 141.3h1v1h-1zM386.3 134.0h1v1h-1zM380.6 132.0h1v1h-1zM394.8 135.2h1v1h-1zM387.8 135.7h1v1h-1zM381.9 147.2h1v1h-1zM389.0 134.1h1v1h-1zM381.5 140.0h1v1h-1zM380.9 142.6h1v1h-1zM385.8 137.3h1v1h-1zM391.8 145.2h1v1h-1zM381.8 137.7h1v1h-1zM384.4 139.8h1v1h-1zM383.0 139.6h1v1h-1zM376.4 149.6h1v1h-1zM391.1 133.2h1v1h-1zM379.0 138.2h1v1h-1zM380.4 136.0h1v1h-1zM396.5 141.2h1v1h-1zM386.1 131.1h1v1h-1zM456.5 140.7h1v1h-1zM456.5 140.6h1v1h-1zM456.5 139.4h1v1h-1zM449.6 151.7h1v1h-1zM470.3 126.8h1v1h-1zM468.0 134.7h1v1h-1zM477.5 145.6h1v1h-1zM472.8 139.6h1v1h-1zM476.2 138.9h1v1h-1zM456.4 136.0h1v1h-1zM461.2 146.8h1v1h-1zM467.2 137.3h1v1h-1zM446.4 136.5h1v1h-1zM458.8 132.5h1v1h-1zM472.0 135.8h1v1h-1zM464.6 135.4h1v1h-1zM463.2 132.3h1v1h-1zM461.4 149.6h1v1h-1zM465.9 145.9h1v1h-1zM460.8 139.4h1v1h-1zM459.0 142.7h1v1h-1zM461.8 140.9h1v1h-1zM469.7 138.7h1v1h-1zM475.9 140.4h1v1h-1zM461.2 134.0h1v1h-1zM472.1 137.3h1v1h-1zM455.5 135.3h1v1h-1zM455.6 135.3h1v1h-1zM453.7 148.5h1v1h-1zM464.9 141.4h1v1h-1zM412.9 134.9h1v1h-1zM460.1 148.9h1v1h-1zM468.4 144.9h1v1h-1zM452.9 131.5h1v1h-1zM472.1 141.7h1v1h-1zM446.7 140.9h1v1h-1zM474.8 128.2h1v1h-1zM439.9 141.7h1v1h-1zM450.2 142.4h1v1h-1zM420.6 133.9h1v1h-1zM462.8 150.8h1v1h-1zM413.5 144.7h1v1h-1zM421.0 134.9h1v1h-1zM460.5 142.9h1v1h-1zM431.6 143.5h1v1h-1zM440.6 140.0h1v1h-1zM424.8 129.1h1v1h-1zM455.3 127.4h1v1h-1zM465.7 136.7h1v1h-1zM444.9 143.4h1v1h-1zM442.3 132.9h1v1h-1zM471.3 140.7h1v1h-1zM458.5 125.7h1v1h-1zM446.2 139.5h1v1h-1zM417.2 128.6h1v1h-1zM413.1 135.7h1v1h-1zM462.4 134.5h1v1h-1zM418.0 138.3h1v1h-1zM430.9 150.1h1v1h-1zM469.5 131.8h1v1h-1zM443.4 133.8h1v1h-1zM460.2 142.5h1v1h-1zM462.4 136.4h1v1h-1zM440.7 125.6h1v1h-1zM448.6 144.5h1v1h-1zM431.2 129.0h1v1h-1zM424.4 135.8h1v1h-1zM421.4 126.2h1v1h-1zM446.3 139.0h1v1h-1zM464.2 131.5h1v1h-1zM457.8 132.7h1v1h-1zM465.9 136.2h1v1h-1zM453.9 141.8h1v1h-1zM466.8 133.0h1v1h-1zM459.7 142.0h1v1h-1zM420.2 143.3h1v1h-1zM416.6 141.2h1v1h-1zM432.7 135.4h1v1h-1zM443.1 137.4h1v1h-1zM385.7 104.4h1v1h-1zM402.5 80.8h1v1h-1zM399.6 78.4h1v1h-1zM391.5 81.9h1v1h-1zM403.1 85.3h1v1h-1zM382.9 108.7h1v1h-1zM387.4 95.5h1v1h-1zM379.3 91.8h1v1h-1zM378.9 119.9h1v1h-1zM397.6 83.0h1v1h-1zM380.2 119.2h1v1h-1zM378.0 81.1h1v1h-1zM378.6 99.6h1v1h-1zM430.5 68.5h1v1h-1zM450.8 49.4h1v1h-1zM420.2 61.6h1v1h-1zM67.1 293.4h1v1h-1zM65.1 295.6h1v1h-1zM72.5 302.0h1v1h-1zM63.9 299.8h1v1h-1zM64.6 299.3h1v1h-1zM68.6 293.2h1v1h-1zM59.6 302.7h1v1h-1zM64.5 293.8h1v1h-1zM62.2 296.5h1v1h-1zM65.2 296.4h1v1h-1zM67.7 286.0h1v1h-1zM60.3 293.7h1v1h-1zM59.9 298.9h1v1h-1zM74.5 299.4h1v1h-1zM61.3 288.0h1v1h-1zM79.0 296.0h1v1h-1zM76.1 283.5h1v1h-1zM74.1 289.8h1v1h-1zM67.5 289.0h1v1h-1zM68.0 289.6h1v1h-1zM68.2 288.6h1v1h-1zM67.0 293.9h1v1h-1zM66.8 300.5h1v1h-1zM70.5 283.2h1v1h-1zM73.3 304.6h1v1h-1zM63.0 294.2h1v1h-1zM60.2 293.0h1v1h-1zM71.0 289.4h1v1h-1zM70.6 298.1h1v1h-1zM57.0 287.5h1v1h-1zM70.0 292.6h1v1h-1zM67.4 282.0h1v1h-1zM68.9 291.5h1v1h-1zM69.4 292.8h1v1h-1zM72.3 290.5h1v1h-1zM80.7 291.6h1v1h-1zM68.6 293.7h1v1h-1zM63.1 296.3h1v1h-1zM66.9 296.4h1v1h-1zM65.8 292.0h1v1h-1zM62.2 296.0h1v1h-1zM61.6 286.6h1v1h-1zM60.4 289.7h1v1h-1zM70.8 294.7h1v1h-1zM66.7 293.0h1v1h-1zM65.7 292.4h1v1h-1zM65.0 292.6h1v1h-1zM68.4 297.8h1v1h-1zM70.1 293.2h1v1h-1zM64.4 300.1h1v1h-1zM68.8 289.2h1v1h-1zM60.9 291.0h1v1h-1zM72.9 297.1h1v1h-1zM69.6 297.6h1v1h-1zM72.7 296.5h1v1h-1zM66.7 288.9h1v1h-1zM71.9 287.6h1v1h-1zM70.4 299.7h1v1h-1zM63.6 285.4h1v1h-1zM69.8 284.2h1v1h-1zM60.1 290.2h1v1h-1zM71.3 299.0h1v1h-1zM75.0 292.6h1v1h-1zM68.8 287.8h1v1h-1zM59.2 294.2h1v1h-1zM65.2 303.9h1v1h-1zM64.4 292.5h1v1h-1zM68.8 287.2h1v1h-1zM62.1 290.3h1v1h-1zM64.4 293.2h1v1h-1zM68.1 291.8h1v1h-1zM65.4 289.4h1v1h-1zM64.5 305.7h1v1h-1zM70.0 298.2h1v1h-1zM65.5 296.1h1v1h-1zM67.1 296.8h1v1h-1zM67.8 291.2h1v1h-1zM69.2 296.6h1v1h-1zM59.7 295.6h1v1h-1zM79.5 292.8h1v1h-1zM70.4 288.7h1v1h-1zM63.6 300.7h1v1h-1zM69.7 294.2h1v1h-1zM66.5 293.6h1v1h-1zM67.8 289.3h1v1h-1zM59.0 294.9h1v1h-1zM61.0 298.2h1v1h-1zM65.4 291.0h1v1h-1zM64.4 292.4h1v1h-1zM62.5 293.1h1v1h-1zM59.7 305.6h1v1h-1zM65.4 295.7h1v1h-1zM66.0 293.4h1v1h-1zM73.7 296.1h1v1h-1zM62.0 306.6h1v1h-1zM76.3 297.6h1v1h-1zM76.0 296.2h1v1h-1zM73.0 300.1h1v1h-1zM62.6 301.9h1v1h-1zM65.0 293.8h1v1h-1zM72.4 294.0h1v1h-1zM57.1 291.3h1v1h-1zM66.6 297.2h1v1h-1zM65.0 291.5h1v1h-1zM75.6 294.6h1v1h-1zM60.9 288.8h1v1h-1zM65.5 295.0h1v1h-1zM71.2 303.1h1v1h-1zM59.3 297.8h1v1h-1zM61.9 301.7h1v1h-1zM64.7 291.7h1v1h-1zM69.1 296.3h1v1h-1zM70.5 303.1h1v1h-1zM59.1 288.5h1v1h-1zM62.6 293.1h1v1h-1zM67.6 295.7h1v1h-1zM62.4 295.0h1v1h-1zM66.8 299.4h1v1h-1zM65.9 289.9h1v1h-1zM66.5 292.9h1v1h-1zM56.0 296.8h1v1h-1zM65.8 289.5h1v1h-1zM60.8 290.4h1v1h-1zM68.9 293.1h1v1h-1zM63.4 299.0h1v1h-1zM69.7 287.5h1v1h-1zM60.9 294.5h1v1h-1zM73.0 284.1h1v1h-1zM65.1 298.4h1v1h-1zM66.8 291.6h1v1h-1zM71.0 303.5h1v1h-1zM66.8 296.7h1v1h-1zM82.3 296.4h1v1h-1zM113.1 290.0h1v1h-1zM147.2 289.3h1v1h-1zM127.2 288.8h1v1h-1zM122.1 281.1h1v1h-1zM132.7 282.0h1v1h-1zM144.6 282.9h1v1h-1zM121.5 288.3h1v1h-1zM113.8 285.8h1v1h-1zM128.9 297.3h1v1h-1zM139.2 280.6h1v1h-1zM123.5 280.6h1v1h-1zM127.3 290.5h1v1h-1zM140.9 282.5h1v1h-1zM122.8 294.6h1v1h-1zM117.2 290.0h1v1h-1zM133.6 286.3h1v1h-1zM137.2 296.0h1v1h-1zM130.9 288.0h1v1h-1zM132.0 285.3h1v1h-1zM135.1 295.4h1v1h-1zM123.0 283.9h1v1h-1zM130.5 289.5h1v1h-1zM115.9 290.3h1v1h-1zM134.8 284.2h1v1h-1zM132.3 293.8h1v1h-1zM131.0 282.3h1v1h-1zM134.0 279.9h1v1h-1zM141.1 288.5h1v1h-1zM93.7 284.6h1v1h-1zM115.0 290.3h1v1h-1zM89.5 299.8h1v1h-1zM89.3 303.9h1v1h-1zM88.3 293.9h1v1h-1zM106.1 284.5h1v1h-1zM113.8 288.1h1v1h-1zM109.2 299.6h1v1h-1zM145.6 294.4h1v1h-1zM107.7 286.9h1v1h-1zM123.7 283.2h1v1h-1zM117.7 294.1h1v1h-1zM121.2 285.8h1v1h-1zM117.6 288.7h1v1h-1zM141.3 291.3h1v1h-1zM141.0 304.5h1v1h-1zM102.2 286.7h1v1h-1zM87.1 302.0h1v1h-1zM92.3 284.8h1v1h-1zM93.5 280.4h1v1h-1zM93.9 284.5h1v1h-1zM105.7 289.2h1v1h-1zM146.0 294.5h1v1h-1zM100.3 292.0h1v1h-1zM88.7 287.8h1v1h-1zM126.4 292.4h1v1h-1zM144.2 289.8h1v1h-1zM113.4 287.4h1v1h-1zM113.7 290.5h1v1h-1zM143.9 288.6h1v1h-1zM93.4 292.0h1v1h-1zM133.1 283.6h1v1h-1zM129.9 282.0h1v1h-1zM111.5 292.5h1v1h-1zM147.9 299.2h1v1h-1zM114.3 285.7h1v1h-1zM99.5 290.3h1v1h-1zM133.0 292.6h1v1h-1zM130.7 292.7h1v1h-1zM109.0 296.1h1v1h-1zM124.6 305.6h1v1h-1zM113.8 292.4h1v1h-1zM96.8 285.1h1v1h-1zM103.5 297.6h1v1h-1zM89.8 287.0h1v1h-1zM124.7 281.7h1v1h-1zM96.0 283.2h1v1h-1zM148.0 293.5h1v1h-1zM110.4 298.8h1v1h-1zM147.3 294.0h1v1h-1zM123.7 283.2h1v1h-1zM95.3 284.4h1v1h-1zM130.9 288.2h1v1h-1zM142.6 286.7h1v1h-1zM72.3 255.1h1v1h-1zM64.0 273.3h1v1h-1zM68.0 252.3h1v1h-1zM68.6 236.8h1v1h-1zM59.7 275.2h1v1h-1zM79.6 250.9h1v1h-1zM93.5 273.8h1v1h-1zM89.5 262.5h1v1h-1zM100.3 269.9h1v1h-1zM124.7 275.0h1v1h-1zM221.6 303.6h1v1h-1zM220.6 291.4h1v1h-1zM227.1 295.9h1v1h-1zM231.7 292.1h1v1h-1zM239.4 292.1h1v1h-1zM232.8 302.0h1v1h-1zM235.8 295.1h1v1h-1zM230.5 287.8h1v1h-1zM234.3 287.4h1v1h-1zM228.6 290.2h1v1h-1zM226.1 299.9h1v1h-1zM221.6 288.9h1v1h-1zM231.7 305.9h1v1h-1zM222.8 291.5h1v1h-1zM233.4 279.6h1v1h-1zM228.7 291.8h1v1h-1zM223.4 293.3h1v1h-1zM234.5 293.9h1v1h-1zM237.0 293.3h1v1h-1zM230.4 302.0h1v1h-1zM224.2 289.7h1v1h-1zM238.2 294.9h1v1h-1zM233.4 290.7h1v1h-1zM227.0 294.0h1v1h-1zM233.7 290.0h1v1h-1zM230.7 288.6h1v1h-1zM226.9 297.5h1v1h-1zM229.7 286.3h1v1h-1zM234.7 299.2h1v1h-1zM229.8 295.3h1v1h-1zM228.3 289.8h1v1h-1zM239.9 288.5h1v1h-1zM227.8 299.8h1v1h-1zM228.2 293.7h1v1h-1zM234.5 290.6h1v1h-1zM237.0 295.6h1v1h-1zM231.2 299.7h1v1h-1zM227.3 281.5h1v1h-1zM226.9 286.6h1v1h-1zM220.2 295.5h1v1h-1zM240.7 290.1h1v1h-1zM230.0 296.7h1v1h-1zM221.4 296.0h1v1h-1zM225.6 296.3h1v1h-1zM232.7 292.9h1v1h-1zM231.8 294.4h1v1h-1zM233.8 294.4h1v1h-1zM226.0 285.6h1v1h-1zM233.6 281.8h1v1h-1zM219.5 293.4h1v1h-1zM228.1 293.9h1v1h-1zM237.7 298.0h1v1h-1zM222.3 299.3h1v1h-1zM233.3 296.5h1v1h-1zM225.8 299.3h1v1h-1zM238.6 300.2h1v1h-1zM236.1 305.9h1v1h-1zM225.0 292.2h1v1h-1zM235.6 284.1h1v1h-1zM232.8 294.5h1v1h-1zM237.5 299.5h1v1h-1zM224.8 296.0h1v1h-1zM229.1 290.2h1v1h-1zM227.9 289.9h1v1h-1zM233.8 295.9h1v1h-1zM240.3 287.6h1v1h-1zM235.6 296.2h1v1h-1zM233.1 295.5h1v1h-1zM228.5 296.8h1v1h-1zM221.8 294.1h1v1h-1zM234.5 294.9h1v1h-1zM230.0 297.7h1v1h-1zM239.3 289.8h1v1h-1zM228.5 304.9h1v1h-1zM227.0 287.1h1v1h-1zM220.3 294.2h1v1h-1zM222.3 287.2h1v1h-1zM230.2 300.8h1v1h-1zM235.0 288.1h1v1h-1zM235.9 291.2h1v1h-1zM224.1 302.3h1v1h-1zM235.8 289.8h1v1h-1zM226.6 297.6h1v1h-1zM227.9 305.6h1v1h-1zM223.5 294.2h1v1h-1zM230.0 299.8h1v1h-1zM243.3 292.5h1v1h-1zM228.3 289.2h1v1h-1zM226.6 294.5h1v1h-1zM222.3 298.8h1v1h-1zM231.7 285.5h1v1h-1zM231.6 298.1h1v1h-1zM228.7 301.2h1v1h-1zM228.9 297.0h1v1h-1zM234.7 287.2h1v1h-1zM227.1 297.7h1v1h-1zM223.7 298.0h1v1h-1zM239.8 294.4h1v1h-1zM229.7 294.8h1v1h-1zM229.5 297.1h1v1h-1zM221.2 285.9h1v1h-1zM234.3 302.6h1v1h-1zM240.1 290.3h1v1h-1zM234.7 294.3h1v1h-1zM227.7 295.0h1v1h-1zM241.4 291.6h1v1h-1zM233.7 289.5h1v1h-1zM224.1 289.4h1v1h-1zM236.1 291.9h1v1h-1zM225.9 302.7h1v1h-1zM233.8 290.0h1v1h-1zM233.6 290.2h1v1h-1zM229.3 300.5h1v1h-1zM225.9 299.0h1v1h-1zM229.6 299.8h1v1h-1zM229.9 292.8h1v1h-1zM233.2 295.2h1v1h-1zM236.4 289.2h1v1h-1zM237.0 303.0h1v1h-1zM229.3 292.0h1v1h-1zM238.4 291.9h1v1h-1zM239.8 291.9h1v1h-1zM296.9 285.0h1v1h-1zM287.5 300.8h1v1h-1zM304.5 293.2h1v1h-1zM308.3 292.9h1v1h-1zM291.0 289.0h1v1h-1zM307.7 287.6h1v1h-1zM290.2 299.6h1v1h-1zM274.9 285.0h1v1h-1zM303.9 287.5h1v1h-1zM311.2 290.7h1v1h-1zM310.7 290.7h1v1h-1zM311.0 290.2h1v1h-1zM315.6 286.6h1v1h-1zM296.2 286.6h1v1h-1zM304.4 287.8h1v1h-1zM315.2 303.1h1v1h-1zM313.4 296.5h1v1h-1zM299.3 293.4h1v1h-1zM291.4 293.3h1v1h-1zM296.2 288.0h1v1h-1zM294.5 292.5h1v1h-1zM293.7 293.2h1v1h-1zM315.2 284.3h1v1h-1zM300.7 288.6h1v1h-1zM304.3 288.2h1v1h-1zM290.5 293.2h1v1h-1zM313.0 295.4h1v1h-1zM316.0 285.5h1v1h-1zM311.7 294.3h1v1h-1zM293.6 289.5h1v1h-1zM298.6 296.0h1v1h-1zM304.0 292.0h1v1h-1zM311.9 292.2h1v1h-1zM308.2 285.1h1v1h-1zM291.3 300.7h1v1h-1zM283.1 296.4h1v1h-1zM296.8 289.7h1v1h-1zM285.1 298.0h1v1h-1zM295.6 305.7h1v1h-1zM305.1 296.3h1v1h-1zM292.0 299.7h1v1h-1zM312.5 280.8h1v1h-1zM310.6 284.0h1v1h-1zM276.8 284.4h1v1h-1zM287.4 293.7h1v1h-1zM277.7 289.5h1v1h-1zM301.9 284.5h1v1h-1zM251.2 298.8h1v1h-1zM268.6 286.2h1v1h-1zM312.1 289.9h1v1h-1zM293.5 280.2h1v1h-1zM289.8 284.5h1v1h-1zM251.3 291.4h1v1h-1zM272.8 298.8h1v1h-1zM257.9 281.1h1v1h-1zM300.6 290.8h1v1h-1zM286.7 301.1h1v1h-1zM263.5 292.5h1v1h-1zM311.1 285.0h1v1h-1zM267.8 298.9h1v1h-1zM313.6 288.9h1v1h-1zM290.2 299.9h1v1h-1zM263.9 282.7h1v1h-1zM297.9 294.8h1v1h-1zM304.9 290.1h1v1h-1zM249.7 292.5h1v1h-1zM306.5 291.0h1v1h-1zM303.9 301.3h1v1h-1zM255.1 298.5h1v1h-1zM261.8 296.8h1v1h-1zM263.2 284.0h1v1h-1zM264.5 291.0h1v1h-1zM302.8 292.7h1v1h-1zM306.6 293.1h1v1h-1zM275.8 295.6h1v1h-1zM270.1 288.7h1v1h-1zM311.5 284.9h1v1h-1zM255.4 291.3h1v1h-1zM258.9 287.2h1v1h-1zM253.6 305.3h1v1h-1zM289.7 285.3h1v1h-1zM265.3 286.5h1v1h-1zM279.8 300.3h1v1h-1zM315.1 290.5h1v1h-1zM297.8 294.6h1v1h-1zM280.9 290.0h1v1h-1zM307.1 298.7h1v1h-1zM307.5 286.3h1v1h-1zM306.4 297.3h1v1h-1zM277.6 284.1h1v1h-1zM260.4 287.8h1v1h-1zM268.0 298.8h1v1h-1zM291.9 295.8h1v1h-1zM280.5 285.2h1v1h-1zM283.7 297.8h1v1h-1zM218.2 273.5h1v1h-1zM217.2 272.5h1v1h-1zM227.3 267.0h1v1h-1zM228.5 274.5h1v1h-1zM220.6 247.4h1v1h-1zM241.0 253.0h1v1h-1zM233.2 274.4h1v1h-1zM227.3 275.4h1v1h-1zM232.3 261.0h1v1h-1zM219.9 254.9h1v1h-1zM231.6 235.9h1v1h-1zM393.4 297.2h1v1h-1zM390.2 299.6h1v1h-1zM385.5 300.3h1v1h-1zM395.4 302.3h1v1h-1zM390.4 297.1h1v1h-1zM399.9 292.5h1v1h-1zM395.6 300.6h1v1h-1zM392.1 306.2h1v1h-1zM383.8 291.3h1v1h-1zM396.7 298.3h1v1h-1zM395.4 287.5h1v1h-1zM396.9 290.6h1v1h-1zM383.4 286.1h1v1h-1zM388.6 293.0h1v1h-1zM394.0 288.0h1v1h-1zM388.1 296.8h1v1h-1zM396.1 289.6h1v1h-1zM389.9 291.5h1v1h-1zM398.9 293.9h1v1h-1zM390.1 300.6h1v1h-1zM395.1 306.3h1v1h-1zM380.7 291.8h1v1h-1zM394.6 305.4h1v1h-1zM396.8 296.7h1v1h-1zM389.7 304.4h1v1h-1zM392.2 296.9h1v1h-1zM388.9 296.4h1v1h-1zM388.1 307.6h1v1h-1zM388.6 290.3h1v1h-1zM385.1 295.8h1v1h-1zM387.9 302.7h1v1h-1zM393.0 299.1h1v1h-1zM398.8 297.2h1v1h-1zM393.1 297.3h1v1h-1zM388.5 291.3h1v1h-1zM386.3 297.4h1v1h-1zM395.4 298.3h1v1h-1zM397.2 293.1h1v1h-1zM394.3 292.5h1v1h-1zM395.9 303.0h1v1h-1zM391.0 293.8h1v1h-1zM390.1 301.2h1v1h-1zM393.0 285.8h1v1h-1zM391.6 291.8h1v1h-1zM387.0 300.4h1v1h-1zM392.1 304.5h1v1h-1zM391.6 286.8h1v1h-1zM391.4 298.2h1v1h-1zM389.0 290.6h1v1h-1zM394.2 289.6h1v1h-1zM384.8 302.6h1v1h-1zM382.3 294.2h1v1h-1zM396.4 302.1h1v1h-1zM396.5 286.0h1v1h-1zM395.5 300.8h1v1h-1zM392.0 300.9h1v1h-1zM382.3 293.0h1v1h-1zM395.8 297.2h1v1h-1zM390.8 304.1h1v1h-1zM399.9 299.2h1v1h-1zM388.7 281.1h1v1h-1zM388.1 305.2h1v1h-1zM386.7 295.9h1v1h-1zM398.1 295.1h1v1h-1zM401.4 293.1h1v1h-1zM393.9 294.6h1v1h-1zM389.3 291.2h1v1h-1zM397.6 282.8h1v1h-1zM384.2 302.3h1v1h-1zM391.3 286.9h1v1h-1zM384.0 290.3h1v1h-1zM390.1 296.5h1v1h-1zM391.8 294.5h1v1h-1zM401.5 284.7h1v1h-1zM387.1 305.7h1v1h-1zM384.8 308.2h1v1h-1zM398.3 293.3h1v1h-1zM396.4 299.2h1v1h-1zM393.0 301.0h1v1h-1zM393.4 299.6h1v1h-1zM391.8 290.1h1v1h-1zM396.1 291.8h1v1h-1zM385.6 294.0h1v1h-1zM389.3 295.7h1v1h-1zM399.4 299.7h1v1h-1zM389.3 295.8h1v1h-1zM386.6 295.3h1v1h-1zM393.6 302.9h1v1h-1zM394.9 299.5h1v1h-1zM394.2 299.5h1v1h-1zM396.3 301.5h1v1h-1zM399.3 304.3h1v1h-1zM393.2 295.8h1v1h-1zM387.0 303.2h1v1h-1zM397.7 298.6h1v1h-1zM391.3 292.7h1v1h-1zM391.8 296.2h1v1h-1zM396.2 298.5h1v1h-1zM396.9 297.1h1v1h-1zM389.6 287.1h1v1h-1zM383.4 290.8h1v1h-1zM393.1 292.8h1v1h-1zM395.7 296.6h1v1h-1zM393.9 294.3h1v1h-1zM396.2 295.9h1v1h-1zM381.2 301.2h1v1h-1zM388.2 290.8h1v1h-1zM391.5 298.6h1v1h-1zM386.4 295.6h1v1h-1zM391.5 296.6h1v1h-1zM397.9 305.5h1v1h-1zM384.8 291.4h1v1h-1zM379.8 291.2h1v1h-1zM393.7 294.5h1v1h-1zM389.8 300.0h1v1h-1zM392.5 282.9h1v1h-1zM391.7 288.6h1v1h-1zM397.0 297.4h1v1h-1zM384.2 291.4h1v1h-1zM401.9 292.1h1v1h-1zM385.9 297.0h1v1h-1zM388.5 297.4h1v1h-1zM393.7 286.6h1v1h-1zM439.1 295.6h1v1h-1zM453.4 292.8h1v1h-1zM442.3 289.9h1v1h-1zM442.7 287.9h1v1h-1zM431.2 287.2h1v1h-1zM456.2 285.6h1v1h-1zM449.6 297.2h1v1h-1zM440.7 293.3h1v1h-1zM433.5 296.9h1v1h-1zM436.0 284.3h1v1h-1zM445.2 293.3h1v1h-1zM455.5 290.4h1v1h-1zM435.2 295.0h1v1h-1zM445.0 296.9h1v1h-1zM440.9 296.2h1v1h-1zM443.3 295.1h1v1h-1zM461.4 290.0h1v1h-1zM457.7 286.6h1v1h-1zM447.9 304.1h1v1h-1zM455.1 305.8h1v1h-1zM445.0 298.4h1v1h-1zM448.8 290.3h1v1h-1zM452.8 294.1h1v1h-1zM440.2 298.2h1v1h-1zM472.2 283.3h1v1h-1zM438.0 288.4h1v1h-1zM457.5 301.5h1v1h-1zM433.9 300.0h1v1h-1zM413.6 303.8h1v1h-1zM437.0 284.8h1v1h-1zM450.9 285.9h1v1h-1zM472.6 303.6h1v1h-1zM464.4 292.3h1v1h-1zM471.0 295.3h1v1h-1zM451.5 298.0h1v1h-1zM434.1 281.4h1v1h-1zM411.9 287.5h1v1h-1zM410.4 295.3h1v1h-1zM454.6 303.3h1v1h-1zM472.3 294.3h1v1h-1zM472.4 291.6h1v1h-1zM469.5 290.8h1v1h-1zM462.6 281.2h1v1h-1zM466.1 286.5h1v1h-1zM411.2 287.7h1v1h-1zM444.3 287.9h1v1h-1zM468.6 306.4h1v1h-1zM465.9 296.1h1v1h-1zM420.2 291.3h1v1h-1zM421.5 298.8h1v1h-1zM459.6 298.0h1v1h-1zM435.1 298.3h1v1h-1zM415.5 301.8h1v1h-1zM452.0 290.4h1v1h-1zM462.9 296.5h1v1h-1zM455.3 297.1h1v1h-1zM424.8 284.4h1v1h-1zM393.2 238.7h1v1h-1zM379.7 223.7h1v1h-1zM398.7 271.0h1v1h-1zM380.5 249.4h1v1h-1zM394.0 271.8h1v1h-1zM391.2 258.6h1v1h-1zM382.3 272.7h1v1h-1zM388.0 268.0h1v1h-1zM454.9 248.8h1v1h-1zM425.4 269.4h1v1h-1zM453.0 250.6h1v1h-1zM454.0 274.7h1v1h-1z"/><path fill="#000" fill-opacity="0.5" d="M59.8 143.6h1v1h-1zM77.4 134.4h1v1h-1zM69.1 133.4h1v1h-1zM56.8 143.2h1v1h-1zM55.9 146.3h1v1h-1zM63.6 142.0h1v1h-1zM64.8 137.6h1v1h-1zM71.7 141.2h1v1h-1zM67.5 136.9h1v1h-1zM54.6 147.7h1v1h-1zM62.2 144.3h1v1h-1zM59.3 135.9h1v1h-1zM62.7 136.0h1v1h-1zM53.8 137.5h1v1h-1zM62.0 138.3h1v1h-1zM58.5 133.0h1v1h-1zM70.1 131.6h1v1h-1zM63.3 151.0h1v1h-1zM63.4 138.5h1v1h-1zM62.6 141.7h1v1h-1zM59.6 150.3h1v1h-1zM66.3 141.5h1v1h-1zM71.1 141.5h1v1h-1zM56.2 142.7h1v1h-1zM57.0 140.4h1v1h-1zM66.1 133.9h1v1h-1zM69.3 143.2h1v1h-1zM71.1 138.4h1v1h-1zM71.3 135.7h1v1h-1zM65.7 144.4h1v1h-1zM67.6 144.4h1v1h-1zM68.3 133.0h1v1h-1zM65.3 145.7h1v1h-1zM68.2 127.8h1v1h-1zM73.0 139.6h1v1h-1zM69.2 135.8h1v1h-1zM66.3 140.1h1v1h-1zM57.2 136.0h1v1h-1zM74.0 135.8h1v1h-1zM67.0 143.6h1v1h-1zM78.1 150.0h1v1h-1zM63.8 136.7h1v1h-1zM62.0 140.5h1v1h-1zM61.8 144.7h1v1h-1zM71.1 143.7h1v1h-1zM68.7 129.9h1v1h-1zM69.5 143.6h1v1h-1zM58.2 147.5h1v1h-1zM57.9 129.5h1v1h-1zM54.6 135.8h1v1h-1zM56.5 140.3h1v1h-1zM71.7 127.6h1v1h-1zM54.3 142.7h1v1h-1zM60.1 145.1h1v1h-1zM66.7 142.2h1v1h-1zM60.4 139.6h1v1h-1zM68.0 146.2h1v1h-1zM61.0 140.0h1v1h-1zM67.4 145.5h1v1h-1zM59.8 137.6h1v1h-1zM68.2 148.5h1v1h-1zM64.4 146.7h1v1h-1zM60.9 135.9h1v1h-1zM67.0 141.2h1v1h-1zM67.1 137.3h1v1h-1zM76.4 139.9h1v1h-1zM62.7 132.3h1v1h-1zM67.7 137.1h1v1h-1zM58.7 143.9h1v1h-1zM67.9 129.7h1v1h-1zM59.6 141.3h1v1h-1zM57.6 129.8h1v1h-1zM65.3 144.1h1v1h-1zM74.3 134.0h1v1h-1zM70.3 138.3h1v1h-1zM64.7 134.6h1v1h-1zM57.2 136.1h1v1h-1zM82.2 135.3h1v1h-1zM61.6 148.9h1v1h-1zM62.0 143.7h1v1h-1zM62.3 139.2h1v1h-1zM65.3 135.1h1v1h-1zM60.2 145.1h1v1h-1zM62.0 138.6h1v1h-1zM68.9 134.8h1v1h-1zM64.3 131.8h1v1h-1zM61.4 147.6h1v1h-1zM67.2 138.6h1v1h-1zM62.7 142.0h1v1h-1zM70.0 137.9h1v1h-1zM59.1 144.4h1v1h-1zM65.3 141.0h1v1h-1zM67.1 133.8h1v1h-1zM58.8 133.7h1v1h-1zM73.6 137.1h1v1h-1zM62.9 151.5h1v1h-1zM65.7 130.6h1v1h-1zM73.5 131.5h1v1h-1zM58.0 131.2h1v1h-1zM63.9 138.2h1v1h-1zM71.9 136.4h1v1h-1zM60.2 127.0h1v1h-1zM65.2 143.5h1v1h-1zM58.5 144.9h1v1h-1zM69.6 141.4h1v1h-1zM69.1 131.7h1v1h-1zM72.1 142.0h1v1h-1zM72.1 132.3h1v1h-1zM60.3 135.9h1v1h-1zM54.4 133.5h1v1h-1zM60.6 144.4h1v1h-1zM64.3 132.9h1v1h-1zM57.4 138.1h1v1h-1zM59.0 127.2h1v1h-1zM68.5 142.6h1v1h-1zM63.8 133.1h1v1h-1zM58.1 129.9h1v1h-1zM70.8 150.0h1v1h-1zM67.7 146.7h1v1h-1zM68.6 134.3h1v1h-1zM68.2 140.1h1v1h-1zM65.1 137.1h1v1h-1zM60.1 138.1h1v1h-1zM64.3 147.1h1v1h-1zM66.3 145.5h1v1h-1zM64.9 147.1h1v1h-1zM67.6 136.7h1v1h-1zM71.5 141.4h1v1h-1zM55.7 137.3h1v1h-1zM73.7 145.8h1v1h-1zM62.9 144.1h1v1h-1zM64.5 147.1h1v1h-1zM62.0 148.2h1v1h-1zM65.5 135.0h1v1h-1zM66.5 130.9h1v1h-1zM67.3 144.1h1v1h-1zM64.7 141.7h1v1h-1zM62.7 137.7h1v1h-1zM69.4 139.1h1v1h-1zM70.9 135.5h1v1h-1zM66.2 147.1h1v1h-1zM55.7 139.6h1v1h-1zM62.1 144.7h1v1h-1zM64.3 137.2h1v1h-1zM66.0 142.4h1v1h-1zM62.7 151.8h1v1h-1zM64.8 136.4h1v1h-1zM62.0 136.4h1v1h-1zM61.6 139.5h1v1h-1zM62.3 144.2h1v1h-1zM64.5 141.3h1v1h-1zM63.2 140.6h1v1h-1zM60.5 142.8h1v1h-1zM66.4 146.6h1v1h-1zM69.8 135.0h1v1h-1zM73.0 129.8h1v1h-1zM65.5 140.7h1v1h-1zM71.3 143.0h1v1h-1zM67.8 131.2h1v1h-1zM67.0 146.8h1v1h-1zM127.3 133.0h1v1h-1zM103.4 138.3h1v1h-1zM111.7 128.3h1v1h-1zM141.3 133.1h1v1h-1zM138.9 141.3h1v1h-1zM117.9 132.4h1v1h-1zM131.7 135.1h1v1h-1zM125.2 136.3h1v1h-1zM121.3 136.9h1v1h-1zM121.2 129.3h1v1h-1zM122.8 134.0h1v1h-1zM109.9 129.2h1v1h-1zM104.1 136.1h1v1h-1zM130.2 129.8h1v1h-1zM100.4 132.6h1v1h-1zM106.5 129.9h1v1h-1zM131.1 135.0h1v1h-1zM110.5 134.7h1v1h-1zM126.5 126.1h1v1h-1zM127.3 127.8h1v1h-1zM135.0 139.9h1v1h-1zM112.4 138.2h1v1h-1zM109.0 130.3h1v1h-1zM121.0 131.1h1v1h-1zM101.4 133.6h1v1h-1zM124.8 132.7h1v1h-1zM116.6 137.0h1v1h-1zM126.3 130.9h1v1h-1zM105.0 132.0h1v1h-1zM111.4 131.7h1v1h-1zM111.8 132.0h1v1h-1zM104.7 131.2h1v1h-1zM95.7 138.7h1v1h-1zM139.8 130.6h1v1h-1zM115.7 134.6h1v1h-1zM140.2 129.9h1v1h-1zM117.3 136.0h1v1h-1zM98.9 137.8h1v1h-1zM95.6 143.0h1v1h-1zM111.5 134.4h1v1h-1zM106.0 129.8h1v1h-1zM134.8 136.0h1v1h-1zM93.5 136.7h1v1h-1zM90.9 136.6h1v1h-1zM133.3 130.7h1v1h-1zM136.4 141.0h1v1h-1zM101.7 127.4h1v1h-1zM109.9 133.8h1v1h-1zM87.3 130.7h1v1h-1zM113.4 135.1h1v1h-1zM101.3 148.4h1v1h-1zM128.7 140.7h1v1h-1zM134.2 125.9h1v1h-1zM92.1 135.2h1v1h-1zM133.5 139.8h1v1h-1zM110.2 133.5h1v1h-1zM131.9 133.4h1v1h-1zM107.4 138.0h1v1h-1zM133.9 135.5h1v1h-1zM98.4 136.9h1v1h-1zM104.2 133.4h1v1h-1zM136.7 132.8h1v1h-1zM141.3 125.4h1v1h-1zM103.9 134.0h1v1h-1zM142.0 131.3h1v1h-1zM98.1 131.6h1v1h-1zM86.6 138.9h1v1h-1zM114.1 126.4h1v1h-1zM111.3 132.8h1v1h-1zM91.6 127.7h1v1h-1zM122.3 135.0h1v1h-1zM117.4 137.5h1v1h-1zM128.3 134.5h1v1h-1zM95.5 145.7h1v1h-1zM121.5 131.3h1v1h-1zM129.0 138.8h1v1h-1zM119.3 136.4h1v1h-1zM121.7 134.4h1v1h-1zM133.3 129.9h1v1h-1zM102.1 135.7h1v1h-1zM131.8 135.9h1v1h-1zM128.3 132.0h1v1h-1zM122.8 125.8h1v1h-1zM139.9 130.5h1v1h-1zM129.6 136.3h1v1h-1zM90.2 142.0h1v1h-1zM129.1 130.3h1v1h-1zM98.8 134.4h1v1h-1zM106.8 143.2h1v1h-1zM72.8 117.0h1v1h-1zM75.1 78.4h1v1h-1zM65.0 107.7h1v1h-1zM78.8 115.4h1v1h-1zM75.5 113.8h1v1h-1zM218.0 127.5h1v1h-1zM235.9 137.2h1v1h-1zM225.0 132.4h1v1h-1zM223.8 131.8h1v1h-1zM229.2 132.5h1v1h-1zM217.3 134.7h1v1h-1zM223.2 135.9h1v1h-1zM221.5 125.5h1v1h-1zM225.3 130.9h1v1h-1zM220.1 130.0h1v1h-1zM218.6 139.7h1v1h-1zM225.8 136.6h1v1h-1zM219.3 134.5h1v1h-1zM222.6 141.7h1v1h-1zM221.5 125.8h1v1h-1zM228.4 138.7h1v1h-1zM236.5 135.7h1v1h-1zM222.4 139.0h1v1h-1zM215.5 138.9h1v1h-1zM225.2 128.1h1v1h-1zM216.6 137.0h1v1h-1zM229.5 131.6h1v1h-1zM217.6 145.1h1v1h-1zM227.1 137.1h1v1h-1zM216.1 146.9h1v1h-1zM225.2 143.5h1v1h-1zM226.0 141.3h1v1h-1zM225.0 141.6h1v1h-1zM231.1 137.9h1v1h-1zM226.0 131.8h1v1h-1zM239.4 136.4h1v1h-1zM225.0 133.6h1v1h-1zM221.0 133.0h1v1h-1zM223.8 140.4h1v1h-1zM225.7 139.0h1v1h-1zM225.0 141.9h1v1h-1zM235.2 135.3h1v1h-1zM216.8 135.0h1v1h-1zM226.5 137.5h1v1h-1zM218.1 138.1h1v1h-1zM233.5 137.8h1v1h-1zM221.5 138.5h1v1h-1zM223.4 140.6h1v1h-1zM229.0 137.3h1v1h-1zM224.3 131.0h1v1h-1zM226.1 133.2h1v1h-1zM233.4 137.6h1v1h-1zM229.6 138.0h1v1h-1zM226.8 127.0h1v1h-1zM228.4 135.8h1v1h-1zM224.8 139.2h1v1h-1zM223.0 136.5h1v1h-1zM229.3 132.9h1v1h-1zM228.2 124.9h1v1h-1zM227.2 140.2h1v1h-1zM227.8 142.8h1v1h-1zM221.1 134.8h1v1h-1zM225.5 128.7h1v1h-1zM234.3 128.8h1v1h-1zM225.1 144.2h1v1h-1zM224.9 131.4h1v1h-1zM215.0 138.3h1v1h-1zM220.4 134.6h1v1h-1zM230.2 139.0h1v1h-1zM225.9 140.6h1v1h-1zM223.2 134.1h1v1h-1zM223.9 138.4h1v1h-1zM219.2 135.6h1v1h-1zM226.7 133.2h1v1h-1zM228.5 143.9h1v1h-1zM218.0 137.3h1v1h-1zM226.2 142.0h1v1h-1zM224.0 135.6h1v1h-1zM227.9 134.7h1v1h-1zM216.4 129.1h1v1h-1zM226.0 137.4h1v1h-1zM216.3 126.2h1v1h-1zM223.6 131.6h1v1h-1zM227.2 142.6h1v1h-1zM233.5 127.9h1v1h-1zM215.7 132.8h1v1h-1zM230.7 130.5h1v1h-1zM227.8 140.5h1v1h-1zM222.8 135.8h1v1h-1zM226.2 143.2h1v1h-1zM231.9 146.7h1v1h-1zM224.3 137.7h1v1h-1zM214.6 136.3h1v1h-1zM218.0 133.7h1v1h-1zM225.4 133.7h1v1h-1zM235.3 138.7h1v1h-1zM223.4 129.4h1v1h-1zM225.6 138.7h1v1h-1zM223.9 134.2h1v1h-1zM220.7 137.6h1v1h-1zM222.7 139.4h1v1h-1zM230.7 140.3h1v1h-1zM232.2 135.5h1v1h-1zM218.9 133.1h1v1h-1zM233.3 139.6h1v1h-1zM222.0 132.5h1v1h-1zM217.7 137.4h1v1h-1zM226.6 139.8h1v1h-1zM227.7 134.7h1v1h-1zM222.0 133.6h1v1h-1zM229.3 132.9h1v1h-1zM215.6 132.7h1v1h-1zM225.6 127.7h1v1h-1zM220.9 138.7h1v1h-1zM231.9 134.9h1v1h-1zM231.2 139.6h1v1h-1zM228.8 133.1h1v1h-1zM220.9 133.0h1v1h-1zM224.4 131.8h1v1h-1zM217.8 139.7h1v1h-1zM224.8 137.3h1v1h-1zM226.2 139.9h1v1h-1zM217.0 143.4h1v1h-1zM215.5 133.8h1v1h-1zM238.4 129.3h1v1h-1zM229.8 141.3h1v1h-1zM232.3 135.7h1v1h-1zM222.9 141.2h1v1h-1zM220.8 133.6h1v1h-1zM231.1 134.0h1v1h-1zM236.0 138.3h1v1h-1zM223.8 137.2h1v1h-1zM226.0 138.7h1v1h-1zM218.4 132.6h1v1h-1zM226.7 140.2h1v1h-1zM223.3 128.9h1v1h-1zM217.3 142.1h1v1h-1zM226.4 131.7h1v1h-1zM225.4 134.6h1v1h-1zM233.7 132.8h1v1h-1zM226.5 143.1h1v1h-1zM234.1 130.0h1v1h-1zM221.4 139.5h1v1h-1zM228.5 132.3h1v1h-1zM226.4 133.2h1v1h-1zM224.1 141.2h1v1h-1zM226.9 147.4h1v1h-1zM228.8 138.3h1v1h-1zM229.3 135.4h1v1h-1zM230.1 128.1h1v1h-1zM221.8 137.8h1v1h-1zM225.8 133.6h1v1h-1zM217.7 138.1h1v1h-1zM223.0 131.5h1v1h-1zM224.6 139.9h1v1h-1zM225.6 137.8h1v1h-1zM214.7 130.9h1v1h-1zM230.0 139.3h1v1h-1zM225.9 135.2h1v1h-1zM225.2 137.7h1v1h-1zM234.7 144.3h1v1h-1zM231.8 127.0h1v1h-1zM222.8 135.5h1v1h-1zM220.5 135.4h1v1h-1zM232.4 140.4h1v1h-1zM229.1 135.4h1v1h-1zM231.6 130.9h1v1h-1zM230.2 136.6h1v1h-1zM232.9 141.1h1v1h-1zM225.2 136.7h1v1h-1zM231.1 136.4h1v1h-1zM229.5 141.3h1v1h-1zM223.1 132.3h1v1h-1zM218.4 130.9h1v1h-1zM217.1 140.9h1v1h-1zM220.4 137.7h1v1h-1zM223.6 138.9h1v1h-1zM226.7 126.5h1v1h-1zM224.9 131.5h1v1h-1zM218.0 137.7h1v1h-1zM278.4 131.7h1v1h-1zM276.9 143.1h1v1h-1zM269.7 132.2h1v1h-1zM277.1 135.7h1v1h-1zM286.3 128.6h1v1h-1zM278.3 132.6h1v1h-1zM275.4 130.5h1v1h-1zM266.1 136.3h1v1h-1zM286.3 134.9h1v1h-1zM272.8 148.4h1v1h-1zM277.9 136.8h1v1h-1zM290.6 135.2h1v1h-1zM293.3 129.1h1v1h-1zM284.3 140.8h1v1h-1zM281.0 140.2h1v1h-1zM286.2 134.3h1v1h-1zM281.6 136.3h1v1h-1zM274.8 135.9h1v1h-1zM291.8 136.5h1v1h-1zM284.9 137.5h1v1h-1zM263.0 132.7h1v1h-1zM276.0 135.0h1v1h-1zM287.8 124.7h1v1h-1zM280.8 138.4h1v1h-1zM287.8 136.3h1v1h-1zM269.2 134.0h1v1h-1zM286.4 140.7h1v1h-1zM294.9 138.1h1v1h-1zM275.2 125.6h1v1h-1zM252.5 137.7h1v1h-1zM248.5 131.4h1v1h-1zM257.6 137.3h1v1h-1zM272.2 142.4h1v1h-1zM250.3 133.1h1v1h-1zM300.8 137.2h1v1h-1zM281.3 126.5h1v1h-1zM256.8 127.8h1v1h-1zM253.0 136.1h1v1h-1zM282.0 128.3h1v1h-1zM282.4 137.7h1v1h-1zM287.3 126.3h1v1h-1zM255.3 132.0h1v1h-1zM300.3 136.5h1v1h-1zM281.8 141.4h1v1h-1zM298.6 136.5h1v1h-1zM249.6 125.6h1v1h-1zM247.5 128.5h1v1h-1zM290.6 130.5h1v1h-1zM271.2 143.4h1v1h-1zM289.4 137.9h1v1h-1zM280.0 144.1h1v1h-1zM262.3 127.7h1v1h-1zM283.3 148.3h1v1h-1zM283.0 131.2h1v1h-1zM281.8 138.0h1v1h-1zM260.0 130.9h1v1h-1zM285.2 131.7h1v1h-1zM248.7 127.3h1v1h-1zM260.0 145.4h1v1h-1zM279.4 143.5h1v1h-1zM280.1 139.1h1v1h-1zM267.5 141.4h1v1h-1zM284.7 135.1h1v1h-1zM273.8 129.1h1v1h-1zM276.3 127.7h1v1h-1zM300.0 124.3h1v1h-1zM248.7 135.5h1v1h-1zM258.2 135.1h1v1h-1zM282.9 134.9h1v1h-1zM254.1 138.7h1v1h-1zM259.4 136.5h1v1h-1zM268.1 140.7h1v1h-1zM293.1 131.5h1v1h-1zM228.2 119.6h1v1h-1zM240.2 83.9h1v1h-1zM221.1 76.8h1v1h-1zM234.7 77.4h1v1h-1zM237.5 106.8h1v1h-1zM240.2 94.8h1v1h-1zM240.9 82.2h1v1h-1zM227.1 89.8h1v1h-1zM235.9 101.3h1v1h-1zM215.6 117.3h1v1h-1zM239.5 106.8h1v1h-1zM220.3 116.7h1v1h-1zM222.0 113.1h1v1h-1zM239.2 92.5h1v1h-1zM240.5 98.9h1v1h-1zM242.3 116.8h1v1h-1zM235.6 115.1h1v1h-1zM236.7 119.6h1v1h-1zM219.7 81.8h1v1h-1zM222.8 107.5h1v1h-1zM228.7 85.6h1v1h-1zM384.6 152.2h1v1h-1zM382.0 138.5h1v1h-1zM386.3 131.1h1v1h-1zM386.1 134.5h1v1h-1zM388.5 137.5h1v1h-1zM385.4 145.7h1v1h-1zM377.4 135.0h1v1h-1zM386.4 135.3h1v1h-1zM378.8 138.9h1v1h-1zM379.7 137.3h1v1h-1zM393.4 138.3h1v1h-1zM387.1 133.5h1v1h-1zM385.4 130.3h1v1h-1zM392.2 134.8h1v1h-1zM389.2 132.0h1v1h-1zM389.8 135.2h1v1h-1zM383.0 142.0h1v1h-1zM380.5 143.2h1v1h-1zM381.7 143.9h1v1h-1zM398.7 131.7h1v1h-1zM382.8 140.1h1v1h-1zM393.8 134.4h1v1h-1zM388.4 140.3h1v1h-1zM386.9 138.1h1v1h-1zM387.6 128.0h1v1h-1zM389.5 142.4h1v1h-1zM391.9 137.8h1v1h-1zM388.7 139.1h1v1h-1zM388.2 142.0h1v1h-1zM387.9 140.3h1v1h-1zM392.5 135.6h1v1h-1zM390.4 143.1h1v1h-1zM383.0 149.8h1v1h-1zM382.5 135.9h1v1h-1zM390.4 147.2h1v1h-1zM380.7 128.5h1v1h-1zM376.8 136.6h1v1h-1zM376.9 129.3h1v1h-1zM385.3 135.6h1v1h-1zM385.7 139.6h1v1h-1zM382.5 141.7h1v1h-1zM384.0 132.8h1v1h-1zM389.6 132.8h1v1h-1zM392.8 145.8h1v1h-1zM388.3 137.0h1v1h-1zM383.3 141.5h1v1h-1zM389.1 135.3h1v1h-1zM396.2 126.9h1v1h-1zM391.2 125.8h1v1h-1zM377.7 140.4h1v1h-1zM380.7 139.7h1v1h-1zM387.8 147.0h1v1h-1zM386.2 135.7h1v1h-1zM395.0 140.7h1v1h-1zM377.6 131.1h1v1h-1zM383.9 126.1h1v1h-1zM387.7 128.3h1v1h-1zM390.3 137.4h1v1h-1zM388.0 138.0h1v1h-1zM377.9 130.3h1v1h-1zM378.8 144.3h1v1h-1zM387.1 131.2h1v1h-1zM391.4 139.0h1v1h-1zM390.4 139.1h1v1h-1zM382.2 142.2h1v1h-1zM384.7 135.6h1v1h-1zM393.2 145.1h1v1h-1zM382.8 137.2h1v1h-1zM387.5 138.7h1v1h-1zM387.7 139.2h1v1h-1zM380.8 146.4h1v1h-1zM389.6 136.7h1v1h-1zM385.4 137.4h1v1h-1zM390.8 144.0h1v1h-1zM386.1 139.9h1v1h-1zM380.9 140.5h1v1h-1zM392.6 136.7h1v1h-1zM378.7 126.2h1v1h-1zM385.7 135.1h1v1h-1zM388.7 140.8h1v1h-1zM396.9 135.7h1v1h-1zM391.0 137.8h1v1h-1zM393.7 137.6h1v1h-1zM379.3 135.4h1v1h-1zM394.2 143.9h1v1h-1zM387.4 137.6h1v1h-1zM388.3 142.7h1v1h-1zM377.9 141.3h1v1h-1zM382.8 137.6h1v1h-1zM380.5 131.5h1v1h-1zM384.9 145.7h1v1h-1zM377.2 146.2h1v1h-1zM385.4 138.9h1v1h-1zM387.5 131.6h1v1h-1zM384.2 127.8h1v1h-1zM380.2 134.9h1v1h-1zM380.0 141.1h1v1h-1zM380.5 140.2h1v1h-1zM385.6 139.0h1v1h-1zM378.9 135.0h1v1h-1zM385.0 141.7h1v1h-1zM382.9 142.2h1v1h-1zM394.1 142.2h1v1h-1zM390.9 140.4h1v1h-1zM380.0 128.6h1v1h-1zM393.1 140.7h1v1h-1zM391.2 133.3h1v1h-1zM394.9 139.8h1v1h-1zM388.5 145.4h1v1h-1zM390.8 134.4h1v1h-1zM392.8 138.2h1v1h-1zM389.6 146.8h1v1h-1zM391.9 134.7h1v1h-1zM390.5 139.4h1v1h-1zM391.9 134.4h1v1h-1zM381.3 142.8h1v1h-1zM377.2 131.7h1v1h-1zM388.2 136.4h1v1h-1zM391.8 140.2h1v1h-1zM386.4 134.3h1v1h-1zM388.6 138.6h1v1h-1zM394.7 142.2h1v1h-1zM389.6 140.5h1v1h-1zM386.6 147.2h1v1h-1zM386.5 144.1h1v1h-1zM394.2 145.4h1v1h-1zM387.2 135.4h1v1h-1zM388.8 134.3h1v1h-1zM391.6 129.0h1v1h-1zM378.3 141.9h1v1h-1zM384.8 131.3h1v1h-1zM388.9 142.3h1v1h-1zM388.7 140.9h1v1h-1zM389.0 132.4h1v1h-1zM394.4 134.1h1v1h-1zM384.3 138.7h1v1h-1zM456.7 130.8h1v1h-1zM460.7 133.6h1v1h-1zM477.6 131.8h1v1h-1zM455.7 146.0h1v1h-1zM452.3 133.4h1v1h-1zM453.0 131.0h1v1h-1zM469.0 135.8h1v1h-1zM455.3 139.0h1v1h-1zM447.7 136.5h1v1h-1zM454.0 141.0h1v1h-1zM459.3 141.2h1v1h-1zM456.3 136.7h1v1h-1zM461.1 145.3h1v1h-1zM465.8 137.1h1v1h-1zM468.6 135.2h1v1h-1zM444.6 133.8h1v1h-1zM470.6 132.2h1v1h-1zM468.6 137.4h1v1h-1zM450.3 142.5h1v1h-1zM461.6 138.7h1v1h-1zM456.4 140.4h1v1h-1zM459.5 135.1h1v1h-1zM459.3 130.5h1v1h-1zM462.7 132.8h1v1h-1zM468.1 144.7h1v1h-1zM417.2 137.1h1v1h-1zM424.4 145.2h1v1h-1zM473.1 134.4h1v1h-1zM430.8 145.1h1v1h-1zM472.8 129.5h1v1h-1zM463.0 126.2h1v1h-1zM413.6 139.5h1v1h-1zM444.2 134.8h1v1h-1zM472.5 142.5h1v1h-1zM468.6 135.3h1v1h-1zM458.7 148.7h1v1h-1zM430.7 136.6h1v1h-1zM419.0 132.1h1v1h-1zM471.4 141.2h1v1h-1zM455.0 137.4h1v1h-1zM478.0 135.6h1v1h-1zM477.6 140.6h1v1h-1zM449.9 139.2h1v1h-1zM460.2 141.5h1v1h-1zM412.1 138.4h1v1h-1zM445.5 141.8h1v1h-1zM416.9 141.9h1v1h-1zM441.9 130.2h1v1h-1zM412.5 144.2h1v1h-1zM458.5 138.1h1v1h-1zM473.6 138.9h1v1h-1zM434.8 137.0h1v1h-1zM453.5 145.6h1v1h-1zM465.9 139.1h1v1h-1zM419.4 130.1h1v1h-1zM430.7 136.6h1v1h-1zM462.3 131.8h1v1h-1zM438.0 137.2h1v1h-1zM424.2 129.5h1v1h-1zM447.0 141.2h1v1h-1zM423.4 131.0h1v1h-1zM425.8 139.6h1v1h-1zM445.7 148.3h1v1h-1zM448.6 137.7h1v1h-1zM465.7 139.0h1v1h-1zM446.7 137.0h1v1h-1zM445.0 139.0h1v1h-1zM426.9 147.8h1v1h-1zM423.4 139.1h1v1h-1zM423.2 143.5h1v1h-1zM420.0 138.2h1v1h-1zM418.5 139.8h1v1h-1zM430.3 145.8h1v1h-1zM415.7 127.9h1v1h-1zM473.8 138.4h1v1h-1zM400.6 103.4h1v1h-1zM398.4 112.6h1v1h-1zM394.0 97.9h1v1h-1zM378.6 118.3h1v1h-1zM388.5 120.9h1v1h-1zM404.9 88.5h1v1h-1zM402.6 96.2h1v1h-1zM390.2 103.2h1v1h-1zM394.8 120.5h1v1h-1zM381.3 108.4h1v1h-1zM382.1 99.5h1v1h-1zM385.8 80.5h1v1h-1zM399.4 116.3h1v1h-1zM385.8 101.6h1v1h-1zM395.5 120.9h1v1h-1zM64.8 295.9h1v1h-1zM62.8 295.7h1v1h-1zM70.5 290.7h1v1h-1zM63.1 294.8h1v1h-1zM66.9 295.0h1v1h-1zM57.0 286.6h1v1h-1zM78.9 300.2h1v1h-1zM72.3 287.6h1v1h-1zM68.5 285.2h1v1h-1zM69.8 293.6h1v1h-1zM65.6 298.0h1v1h-1zM71.5 294.3h1v1h-1zM77.3 289.1h1v1h-1zM66.8 296.5h1v1h-1zM76.9 294.5h1v1h-1zM66.8 299.6h1v1h-1zM65.5 288.1h1v1h-1zM65.7 286.9h1v1h-1zM77.0 286.3h1v1h-1zM63.7 294.2h1v1h-1zM71.5 296.6h1v1h-1zM73.7 290.6h1v1h-1zM70.9 284.1h1v1h-1zM63.3 291.6h1v1h-1zM64.8 299.7h1v1h-1zM70.8 291.7h1v1h-1zM69.1 293.6h1v1h-1zM55.6 293.2h1v1h-1zM68.1 292.5h1v1h-1zM68.9 293.5h1v1h-1zM76.8 289.4h1v1h-1zM68.6 291.0h1v1h-1zM68.9 290.9h1v1h-1zM59.3 284.7h1v1h-1zM75.1 291.1h1v1h-1zM67.7 293.8h1v1h-1zM61.8 296.2h1v1h-1zM59.5 296.1h1v1h-1zM58.0 282.9h1v1h-1zM70.0 297.3h1v1h-1zM67.1 294.5h1v1h-1zM63.4 296.0h1v1h-1zM63.4 293.1h1v1h-1zM65.1 292.3h1v1h-1zM60.1 290.3h1v1h-1zM59.3 295.6h1v1h-1zM74.2 290.0h1v1h-1zM72.5 285.4h1v1h-1zM77.4 292.2h1v1h-1zM65.6 300.1h1v1h-1zM58.4 300.0h1v1h-1zM70.5 302.0h1v1h-1zM69.0 293.1h1v1h-1zM69.9 288.3h1v1h-1zM61.2 291.7h1v1h-1zM79.4 301.1h1v1h-1zM71.3 292.0h1v1h-1zM58.8 299.1h1v1h-1zM70.5 290.0h1v1h-1zM61.0 294.8h1v1h-1zM76.6 290.6h1v1h-1zM66.3 296.0h1v1h-1zM71.5 299.6h1v1h-1zM71.9 292.5h1v1h-1zM62.0 305.1h1v1h-1zM65.6 293.5h1v1h-1zM74.6 285.2h1v1h-1zM64.5 285.4h1v1h-1zM77.4 294.6h1v1h-1zM62.6 297.3h1v1h-1zM59.3 290.9h1v1h-1zM69.8 293.2h1v1h-1zM74.8 282.3h1v1h-1zM70.7 292.8h1v1h-1zM67.3 294.0h1v1h-1zM74.4 289.0h1v1h-1zM68.8 292.8h1v1h-1zM62.8 287.1h1v1h-1zM65.9 290.3h1v1h-1zM72.4 302.1h1v1h-1zM65.1 297.8h1v1h-1zM62.4 290.5h1v1h-1zM59.4 297.7h1v1h-1zM59.2 297.8h1v1h-1zM64.1 293.1h1v1h-1zM68.7 289.0h1v1h-1zM69.3 292.4h1v1h-1zM62.7 297.0h1v1h-1zM67.5 302.7h1v1h-1zM65.7 294.0h1v1h-1zM74.5 296.9h1v1h-1zM63.8 288.3h1v1h-1zM73.7 292.9h1v1h-1zM63.8 291.4h1v1h-1zM65.9 300.6h1v1h-1zM83.1 290.5h1v1h-1zM60.7 291.0h1v1h-1zM70.8 297.9h1v1h-1zM61.0 300.1h1v1h-1zM60.1 292.5h1v1h-1zM58.4 291.1h1v1h-1zM69.3 296.4h1v1h-1zM63.0 302.3h1v1h-1zM68.4 292.7h1v1h-1zM77.0 296.8h1v1h-1zM67.3 296.2h1v1h-1zM71.3 297.3h1v1h-1zM68.7 290.6h1v1h-1zM63.7 285.0h1v1h-1zM67.6 291.4h1v1h-1zM60.1 294.4h1v1h-1zM64.0 297.6h1v1h-1zM57.8 288.5h1v1h-1zM54.6 290.3h1v1h-1zM64.8 282.6h1v1h-1zM68.1 290.4h1v1h-1zM67.6 294.6h1v1h-1zM65.3 292.6h1v1h-1zM75.5 291.8h1v1h-1zM69.8 286.3h1v1h-1zM61.1 300.1h1v1h-1zM67.5 287.5h1v1h-1zM61.8 290.5h1v1h-1zM65.5 304.2h1v1h-1zM61.2 300.8h1v1h-1zM64.2 296.5h1v1h-1zM67.3 296.6h1v1h-1zM76.9 290.7h1v1h-1zM60.5 294.7h1v1h-1zM66.2 298.6h1v1h-1zM64.0 291.9h1v1h-1zM65.5 298.4h1v1h-1zM63.6 301.3h1v1h-1zM68.1 286.1h1v1h-1zM74.0 302.1h1v1h-1zM74.1 289.4h1v1h-1zM139.7 294.7h1v1h-1zM117.6 294.9h1v1h-1zM107.1 291.2h1v1h-1zM103.7 297.1h1v1h-1zM110.9 288.4h1v1h-1zM140.4 291.5h1v1h-1zM116.7 292.0h1v1h-1zM136.6 287.2h1v1h-1zM99.6 286.8h1v1h-1zM125.7 289.5h1v1h-1zM131.5 284.0h1v1h-1zM136.8 290.7h1v1h-1zM132.0 298.5h1v1h-1zM131.4 287.9h1v1h-1zM133.4 289.7h1v1h-1zM126.6 290.8h1v1h-1zM104.2 294.9h1v1h-1zM124.1 286.2h1v1h-1zM114.6 289.3h1v1h-1zM122.7 298.6h1v1h-1zM138.8 285.9h1v1h-1zM106.8 281.3h1v1h-1zM117.1 290.6h1v1h-1zM128.0 287.7h1v1h-1zM140.5 290.0h1v1h-1zM136.1 288.6h1v1h-1zM103.5 289.1h1v1h-1zM120.6 291.9h1v1h-1zM119.3 303.9h1v1h-1zM122.4 287.0h1v1h-1zM121.8 297.2h1v1h-1zM124.5 287.6h1v1h-1zM115.5 294.6h1v1h-1zM110.5 286.3h1v1h-1zM134.4 294.5h1v1h-1zM121.8 292.8h1v1h-1zM140.9 296.3h1v1h-1zM122.8 283.7h1v1h-1zM91.4 286.7h1v1h-1zM130.8 293.0h1v1h-1zM107.4 283.5h1v1h-1zM132.6 298.6h1v1h-1zM103.3 292.7h1v1h-1zM110.7 285.0h1v1h-1zM147.3 287.4h1v1h-1zM89.1 284.8h1v1h-1zM99.5 294.3h1v1h-1zM145.0 296.2h1v1h-1zM126.6 285.7h1v1h-1zM140.5 287.4h1v1h-1zM107.2 295.5h1v1h-1zM127.4 299.4h1v1h-1zM128.3 295.5h1v1h-1zM126.7 294.6h1v1h-1zM134.7 284.9h1v1h-1zM100.9 297.7h1v1h-1zM124.0 285.2h1v1h-1zM139.9 296.2h1v1h-1zM124.8 293.6h1v1h-1zM134.5 286.6h1v1h-1zM110.9 298.8h1v1h-1zM98.5 279.9h1v1h-1zM134.8 279.7h1v1h-1zM105.8 285.6h1v1h-1zM137.5 290.2h1v1h-1zM122.7 295.2h1v1h-1zM112.3 294.2h1v1h-1zM103.6 297.0h1v1h-1zM127.0 286.9h1v1h-1zM89.4 298.6h1v1h-1zM144.7 291.4h1v1h-1zM119.4 285.2h1v1h-1zM75.1 258.8h1v1h-1zM66.8 242.9h1v1h-1zM60.3 252.5h1v1h-1zM69.0 264.5h1v1h-1zM225.9 295.5h1v1h-1zM233.9 286.8h1v1h-1zM233.1 291.3h1v1h-1zM229.0 289.6h1v1h-1zM240.4 293.7h1v1h-1zM216.3 284.2h1v1h-1zM225.5 290.7h1v1h-1zM235.2 292.6h1v1h-1zM226.8 294.7h1v1h-1zM237.2 295.5h1v1h-1zM225.1 294.5h1v1h-1zM226.7 298.7h1v1h-1zM231.4 304.1h1v1h-1zM228.2 295.0h1v1h-1zM226.2 288.2h1v1h-1zM230.2 287.0h1v1h-1zM230.1 288.6h1v1h-1zM236.5 292.0h1v1h-1zM229.0 305.6h1v1h-1zM221.8 289.4h1v1h-1zM230.4 299.4h1v1h-1zM227.9 302.0h1v1h-1zM230.6 301.9h1v1h-1zM225.4 290.3h1v1h-1zM229.1 298.3h1v1h-1zM235.7 290.9h1v1h-1zM221.0 296.2h1v1h-1zM225.1 295.3h1v1h-1zM232.4 287.9h1v1h-1zM235.4 293.4h1v1h-1zM229.3 303.4h1v1h-1zM230.3 296.3h1v1h-1zM237.7 288.9h1v1h-1zM230.4 290.4h1v1h-1zM228.4 295.9h1v1h-1zM231.8 299.9h1v1h-1zM230.9 297.0h1v1h-1zM234.0 288.5h1v1h-1zM223.6 289.6h1v1h-1zM240.7 294.7h1v1h-1zM225.5 284.9h1v1h-1zM232.8 291.7h1v1h-1zM236.4 287.1h1v1h-1zM234.8 297.1h1v1h-1zM241.7 296.3h1v1h-1zM224.6 298.0h1v1h-1zM225.6 291.8h1v1h-1zM232.2 295.8h1v1h-1zM233.4 292.4h1v1h-1zM228.7 299.7h1v1h-1zM232.5 290.6h1v1h-1zM236.6 288.4h1v1h-1zM231.3 294.0h1v1h-1zM229.1 288.1h1v1h-1zM231.2 296.6h1v1h-1zM234.9 295.2h1v1h-1zM232.6 294.0h1v1h-1zM224.4 293.3h1v1h-1zM230.8 292.3h1v1h-1zM239.1 289.5h1v1h-1zM224.2 286.0h1v1h-1zM231.1 283.8h1v1h-1zM230.5 300.8h1v1h-1zM224.8 295.4h1v1h-1zM240.8 296.1h1v1h-1zM230.9 294.9h1v1h-1zM234.2 300.2h1v1h-1zM232.3 290.6h1v1h-1zM225.6 292.1h1v1h-1zM229.8 293.8h1v1h-1zM223.1 289.7h1v1h-1zM222.8 296.2h1v1h-1zM232.1 296.3h1v1h-1zM237.5 290.7h1v1h-1zM227.8 297.2h1v1h-1zM228.8 294.3h1v1h-1zM229.3 299.4h1v1h-1zM234.8 301.0h1v1h-1zM225.9 303.0h1v1h-1zM232.3 293.2h1v1h-1zM233.3 285.4h1v1h-1zM222.3 288.5h1v1h-1zM234.5 298.9h1v1h-1zM233.3 289.1h1v1h-1zM233.6 287.6h1v1h-1zM233.3 293.0h1v1h-1zM229.4 291.7h1v1h-1zM232.9 304.1h1v1h-1zM231.0 296.2h1v1h-1zM225.3 286.2h1v1h-1zM233.4 297.8h1v1h-1zM230.9 291.9h1v1h-1zM228.9 287.8h1v1h-1zM227.1 292.1h1v1h-1zM227.0 288.3h1v1h-1zM232.5 291.5h1v1h-1zM232.7 287.6h1v1h-1zM225.1 289.0h1v1h-1zM234.0 289.3h1v1h-1zM237.6 290.7h1v1h-1zM234.9 292.0h1v1h-1zM225.3 293.3h1v1h-1zM228.8 292.3h1v1h-1zM230.2 299.2h1v1h-1zM234.8 303.7h1v1h-1zM228.7 296.0h1v1h-1zM240.8 297.9h1v1h-1zM231.4 300.5h1v1h-1zM226.2 295.8h1v1h-1zM228.0 306.1h1v1h-1zM236.0 295.1h1v1h-1zM233.3 291.4h1v1h-1zM225.0 289.7h1v1h-1zM228.2 288.1h1v1h-1zM231.6 297.6h1v1h-1zM233.4 286.4h1v1h-1zM233.1 291.4h1v1h-1zM238.7 285.7h1v1h-1zM233.6 289.3h1v1h-1zM237.6 299.1h1v1h-1zM224.0 296.9h1v1h-1zM241.4 293.3h1v1h-1zM234.3 291.9h1v1h-1zM238.6 292.5h1v1h-1zM239.2 290.5h1v1h-1zM230.4 292.7h1v1h-1zM225.8 299.3h1v1h-1zM223.9 300.1h1v1h-1zM223.6 302.3h1v1h-1zM238.1 289.3h1v1h-1zM228.3 286.8h1v1h-1zM233.4 295.7h1v1h-1zM227.6 293.5h1v1h-1zM225.1 304.3h1v1h-1zM237.5 296.0h1v1h-1zM238.8 285.4h1v1h-1zM231.7 290.8h1v1h-1zM230.2 294.6h1v1h-1zM230.3 297.0h1v1h-1zM228.5 289.9h1v1h-1zM310.6 293.4h1v1h-1zM287.4 290.5h1v1h-1zM310.6 286.6h1v1h-1zM296.4 281.5h1v1h-1zM303.5 293.6h1v1h-1zM300.9 284.2h1v1h-1zM303.7 285.3h1v1h-1zM292.0 298.2h1v1h-1zM289.5 289.6h1v1h-1zM295.5 290.3h1v1h-1zM298.4 289.7h1v1h-1zM288.5 293.4h1v1h-1zM313.7 293.3h1v1h-1zM309.5 282.2h1v1h-1zM299.7 284.7h1v1h-1zM295.8 292.6h1v1h-1zM301.1 291.0h1v1h-1zM317.3 291.0h1v1h-1zM304.0 300.1h1v1h-1zM303.8 295.6h1v1h-1zM304.6 296.3h1v1h-1zM316.9 296.2h1v1h-1zM312.6 285.3h1v1h-1zM296.0 295.6h1v1h-1zM292.6 285.7h1v1h-1zM317.0 293.1h1v1h-1zM258.5 290.5h1v1h-1zM317.3 285.7h1v1h-1zM263.7 294.5h1v1h-1zM266.9 292.4h1v1h-1zM256.1 294.0h1v1h-1zM273.3 279.7h1v1h-1zM252.5 291.4h1v1h-1zM302.6 299.1h1v1h-1zM276.3 279.6h1v1h-1zM258.9 301.8h1v1h-1zM284.8 289.9h1v1h-1zM254.9 287.4h1v1h-1zM302.0 284.8h1v1h-1zM308.7 293.6h1v1h-1zM259.4 296.1h1v1h-1zM311.0 283.8h1v1h-1zM299.5 289.7h1v1h-1zM282.8 283.4h1v1h-1zM261.8 281.1h1v1h-1zM301.4 298.2h1v1h-1zM268.0 288.2h1v1h-1zM310.9 284.3h1v1h-1zM255.8 292.2h1v1h-1zM288.2 280.2h1v1h-1zM275.2 297.2h1v1h-1zM316.5 300.0h1v1h-1zM258.8 301.5h1v1h-1zM252.2 292.9h1v1h-1zM298.3 302.8h1v1h-1zM312.0 284.7h1v1h-1zM251.5 291.3h1v1h-1zM282.8 293.4h1v1h-1zM273.9 298.0h1v1h-1zM305.5 286.2h1v1h-1zM278.8 280.1h1v1h-1zM312.1 286.3h1v1h-1zM314.1 296.6h1v1h-1zM279.7 299.1h1v1h-1zM243.0 249.8h1v1h-1zM224.3 265.3h1v1h-1zM219.4 254.7h1v1h-1zM243.5 273.0h1v1h-1zM243.0 236.9h1v1h-1zM228.6 244.4h1v1h-1zM238.3 275.1h1v1h-1zM242.6 268.7h1v1h-1zM226.9 254.9h1v1h-1zM221.5 263.5h1v1h-1zM244.4 265.4h1v1h-1zM390.1 290.2h1v1h-1zM391.5 283.4h1v1h-1zM390.8 290.4h1v1h-1zM397.8 296.4h1v1h-1zM389.6 294.7h1v1h-1zM393.2 292.7h1v1h-1zM390.5 296.5h1v1h-1zM376.6 294.6h1v1h-1zM393.7 288.2h1v1h-1zM388.9 297.7h1v1h-1zM388.3 293.2h1v1h-1zM387.1 287.1h1v1h-1zM396.7 297.8h1v1h-1zM394.3 294.6h1v1h-1zM390.1 289.2h1v1h-1zM381.5 284.7h1v1h-1zM391.7 289.3h1v1h-1zM392.7 287.8h1v1h-1zM391.6 286.2h1v1h-1zM389.1 295.8h1v1h-1zM390.1 302.1h1v1h-1zM388.0 291.5h1v1h-1zM396.2 298.6h1v1h-1zM386.0 299.2h1v1h-1zM392.9 293.8h1v1h-1zM382.6 292.8h1v1h-1zM397.3 300.7h1v1h-1zM393.2 294.8h1v1h-1zM388.9 297.9h1v1h-1zM387.7 300.3h1v1h-1zM390.9 290.1h1v1h-1zM389.4 296.3h1v1h-1zM401.0 298.2h1v1h-1zM389.4 296.2h1v1h-1zM379.7 296.2h1v1h-1zM387.0 290.7h1v1h-1zM391.4 289.0h1v1h-1zM396.4 297.4h1v1h-1zM389.5 285.4h1v1h-1zM393.1 302.7h1v1h-1zM392.3 299.0h1v1h-1zM395.8 292.9h1v1h-1zM396.6 298.0h1v1h-1zM394.0 294.6h1v1h-1zM388.1 295.8h1v1h-1zM385.2 295.5h1v1h-1zM390.3 295.3h1v1h-1zM394.2 300.7h1v1h-1zM389.2 304.1h1v1h-1zM394.2 287.0h1v1h-1zM388.6 294.8h1v1h-1zM384.8 297.7h1v1h-1zM391.5 294.0h1v1h-1zM395.7 301.1h1v1h-1zM396.6 296.5h1v1h-1zM392.6 292.2h1v1h-1zM389.1 290.1h1v1h-1zM392.8 290.8h1v1h-1zM383.6 294.2h1v1h-1zM392.7 290.0h1v1h-1zM392.5 295.2h1v1h-1zM383.5 294.0h1v1h-1zM400.3 287.0h1v1h-1zM389.1 303.5h1v1h-1zM395.9 291.9h1v1h-1zM389.7 295.5h1v1h-1zM389.9 288.8h1v1h-1zM387.9 296.6h1v1h-1zM393.9 292.8h1v1h-1zM385.8 292.2h1v1h-1zM392.9 291.6h1v1h-1zM390.1 299.2h1v1h-1zM396.0 292.7h1v1h-1zM398.2 297.3h1v1h-1zM393.3 291.8h1v1h-1zM382.2 295.6h1v1h-1zM389.9 291.7h1v1h-1zM391.7 303.3h1v1h-1zM394.6 296.5h1v1h-1zM382.7 295.8h1v1h-1zM384.1 298.7h1v1h-1zM386.7 296.5h1v1h-1zM389.4 297.8h1v1h-1zM396.7 296.7h1v1h-1zM386.7 288.4h1v1h-1zM390.8 299.6h1v1h-1zM387.3 298.8h1v1h-1zM394.4 289.9h1v1h-1zM395.3 288.9h1v1h-1zM384.3 297.3h1v1h-1zM393.4 303.5h1v1h-1zM396.1 292.3h1v1h-1zM392.2 293.0h1v1h-1zM402.9 305.1h1v1h-1zM379.7 296.5h1v1h-1zM386.9 291.4h1v1h-1zM393.5 298.0h1v1h-1zM398.6 292.4h1v1h-1zM383.8 295.0h1v1h-1zM388.0 289.2h1v1h-1zM392.0 298.1h1v1h-1zM389.0 302.1h1v1h-1zM383.0 294.8h1v1h-1zM393.3 291.5h1v1h-1zM386.8 299.6h1v1h-1zM390.0 296.7h1v1h-1zM394.9 304.7h1v1h-1zM392.8 300.6h1v1h-1zM391.1 296.8h1v1h-1zM392.7 295.9h1v1h-1zM390.6 288.0h1v1h-1zM385.3 299.4h1v1h-1zM381.6 286.8h1v1h-1zM400.4 295.9h1v1h-1zM387.4 298.0h1v1h-1zM392.6 304.3h1v1h-1zM391.9 295.6h1v1h-1zM397.7 280.8h1v1h-1zM391.9 287.5h1v1h-1zM386.7 291.0h1v1h-1zM391.3 294.2h1v1h-1zM386.9 292.9h1v1h-1zM388.7 298.5h1v1h-1zM392.0 289.4h1v1h-1zM396.8 293.5h1v1h-1zM377.1 305.9h1v1h-1zM387.2 297.3h1v1h-1zM389.7 296.2h1v1h-1zM387.2 286.8h1v1h-1zM389.9 285.6h1v1h-1zM387.5 284.0h1v1h-1zM381.1 292.2h1v1h-1zM385.8 293.1h1v1h-1zM393.0 295.6h1v1h-1zM447.4 296.0h1v1h-1zM446.0 290.5h1v1h-1zM464.3 293.9h1v1h-1zM432.5 292.6h1v1h-1zM441.7 292.6h1v1h-1zM446.4 297.9h1v1h-1zM435.6 296.9h1v1h-1zM446.1 292.3h1v1h-1zM447.0 292.5h1v1h-1zM442.8 293.7h1v1h-1zM434.8 289.1h1v1h-1zM456.2 299.1h1v1h-1zM447.0 287.6h1v1h-1zM449.4 290.9h1v1h-1zM452.7 284.3h1v1h-1zM444.3 293.0h1v1h-1zM469.2 299.2h1v1h-1zM457.8 288.6h1v1h-1zM447.3 285.5h1v1h-1zM464.1 286.9h1v1h-1zM462.5 293.4h1v1h-1zM459.3 293.4h1v1h-1zM438.8 292.7h1v1h-1zM436.3 297.1h1v1h-1zM459.0 290.4h1v1h-1zM441.5 296.7h1v1h-1zM459.4 297.1h1v1h-1zM452.3 292.4h1v1h-1zM446.8 303.8h1v1h-1zM472.6 290.4h1v1h-1zM412.9 298.9h1v1h-1zM447.5 299.7h1v1h-1zM451.8 286.5h1v1h-1zM424.0 294.1h1v1h-1zM455.8 297.3h1v1h-1zM435.4 295.6h1v1h-1zM467.4 291.3h1v1h-1zM467.8 299.6h1v1h-1zM415.8 297.4h1v1h-1zM419.5 296.4h1v1h-1zM415.4 300.1h1v1h-1zM422.3 289.2h1v1h-1zM456.9 295.0h1v1h-1zM418.8 299.5h1v1h-1zM463.0 305.1h1v1h-1zM416.1 289.0h1v1h-1zM442.3 296.0h1v1h-1zM420.1 291.5h1v1h-1zM429.2 298.3h1v1h-1zM454.6 304.7h1v1h-1zM453.9 293.4h1v1h-1zM417.9 302.0h1v1h-1zM445.7 290.7h1v1h-1zM428.0 288.1h1v1h-1zM459.7 293.8h1v1h-1zM422.8 296.8h1v1h-1zM440.8 292.6h1v1h-1zM425.4 288.2h1v1h-1zM420.1 298.1h1v1h-1zM428.9 299.2h1v1h-1zM451.7 294.5h1v1h-1zM446.9 306.8h1v1h-1zM417.8 287.2h1v1h-1zM467.1 302.5h1v1h-1zM438.1 293.7h1v1h-1zM438.5 288.9h1v1h-1zM448.3 287.7h1v1h-1zM438.4 299.5h1v1h-1zM423.8 293.1h1v1h-1zM426.4 301.6h1v1h-1zM416.6 290.7h1v1h-1zM469.4 287.6h1v1h-1zM439.0 281.8h1v1h-1zM441.0 290.5h1v1h-1zM415.1 296.6h1v1h-1zM404.2 263.2h1v1h-1zM404.7 247.3h1v1h-1zM391.4 228.5h1v1h-1zM398.2 256.8h1v1h-1zM398.0 245.0h1v1h-1zM403.7 275.3h1v1h-1zM386.1 258.8h1v1h-1zM389.0 261.8h1v1h-1zM390.8 275.5h1v1h-1zM404.1 256.8h1v1h-1zM387.0 237.2h1v1h-1zM387.0 234.5h1v1h-1zM394.8 251.0h1v1h-1zM403.4 261.8h1v1h-1zM402.6 224.5h1v1h-1zM390.9 273.5h1v1h-1zM379.8 270.5h1v1h-1zM393.7 223.5h1v1h-1zM387.7 263.4h1v1h-1zM388.0 231.9h1v1h-1zM393.8 268.7h1v1h-1z"/><path fill="#000" fill-opacity="0.6" d="M59.7 135.2h1v1h-1zM67.3 141.2h1v1h-1zM78.9 143.2h1v1h-1zM68.7 140.6h1v1h-1zM57.1 142.2h1v1h-1zM60.2 137.2h1v1h-1zM65.5 137.1h1v1h-1zM63.3 134.0h1v1h-1zM63.5 142.0h1v1h-1zM57.7 141.5h1v1h-1zM64.3 131.9h1v1h-1zM66.5 132.7h1v1h-1zM67.0 147.9h1v1h-1zM59.5 138.5h1v1h-1zM65.5 140.7h1v1h-1zM66.7 147.6h1v1h-1zM67.9 150.4h1v1h-1zM60.0 143.8h1v1h-1zM57.9 145.8h1v1h-1zM71.4 128.3h1v1h-1zM68.3 142.2h1v1h-1zM63.6 146.4h1v1h-1zM66.1 135.2h1v1h-1zM63.1 145.4h1v1h-1zM61.6 136.8h1v1h-1zM68.6 141.9h1v1h-1zM67.1 143.7h1v1h-1zM57.6 138.2h1v1h-1zM63.1 134.4h1v1h-1zM65.6 151.7h1v1h-1zM63.8 136.1h1v1h-1zM69.4 147.1h1v1h-1zM72.0 147.2h1v1h-1zM76.3 151.2h1v1h-1zM63.1 134.7h1v1h-1zM65.3 136.5h1v1h-1zM67.9 150.3h1v1h-1zM65.6 141.4h1v1h-1zM64.3 134.2h1v1h-1zM59.2 142.2h1v1h-1zM59.2 128.6h1v1h-1zM65.1 139.9h1v1h-1zM73.5 146.4h1v1h-1zM75.6 143.5h1v1h-1zM68.5 149.3h1v1h-1zM53.2 150.4h1v1h-1zM68.3 142.6h1v1h-1zM58.1 140.9h1v1h-1zM66.8 143.0h1v1h-1zM68.7 137.1h1v1h-1zM55.1 141.1h1v1h-1zM75.6 134.6h1v1h-1zM67.9 126.8h1v1h-1zM64.7 131.8h1v1h-1zM61.1 137.6h1v1h-1zM63.3 139.3h1v1h-1zM60.2 138.3h1v1h-1zM62.8 142.0h1v1h-1zM70.6 142.8h1v1h-1zM66.5 135.2h1v1h-1zM66.1 143.6h1v1h-1zM59.3 143.2h1v1h-1zM58.7 138.5h1v1h-1zM68.3 148.3h1v1h-1zM57.1 139.8h1v1h-1zM65.3 142.6h1v1h-1zM57.7 149.3h1v1h-1zM60.1 145.8h1v1h-1zM64.4 130.1h1v1h-1zM64.7 136.1h1v1h-1zM60.2 138.5h1v1h-1zM66.4 138.5h1v1h-1zM72.8 144.1h1v1h-1zM70.3 146.1h1v1h-1zM62.1 141.7h1v1h-1zM77.5 134.7h1v1h-1zM68.0 142.9h1v1h-1zM65.2 141.0h1v1h-1zM58.4 137.3h1v1h-1zM63.5 146.1h1v1h-1zM62.2 132.1h1v1h-1zM64.4 137.4h1v1h-1zM62.3 133.2h1v1h-1zM58.0 152.1h1v1h-1zM62.6 133.8h1v1h-1zM60.7 136.2h1v1h-1zM60.9 150.6h1v1h-1zM68.0 143.2h1v1h-1zM56.4 139.3h1v1h-1zM74.9 138.1h1v1h-1zM60.3 141.5h1v1h-1zM62.2 133.1h1v1h-1zM65.6 147.8h1v1h-1zM59.2 143.5h1v1h-1zM56.8 140.7h1v1h-1zM61.6 133.0h1v1h-1zM60.2 148.2h1v1h-1zM71.1 144.6h1v1h-1zM66.1 145.4h1v1h-1zM68.4 140.1h1v1h-1zM64.9 127.5h1v1h-1zM65.8 143.6h1v1h-1zM61.9 145.5h1v1h-1zM65.2 150.3h1v1h-1zM63.2 146.6h1v1h-1zM61.3 142.2h1v1h-1zM63.9 144.1h1v1h-1zM61.0 138.5h1v1h-1zM60.8 140.1h1v1h-1zM69.1 150.5h1v1h-1zM62.6 137.6h1v1h-1zM63.6 143.9h1v1h-1zM63.7 132.8h1v1h-1zM53.6 134.2h1v1h-1zM66.9 143.8h1v1h-1zM61.8 146.9h1v1h-1zM64.3 144.7h1v1h-1zM66.8 145.4h1v1h-1zM63.8 134.7h1v1h-1zM66.2 139.4h1v1h-1zM59.3 141.6h1v1h-1zM67.9 135.4h1v1h-1zM67.0 149.1h1v1h-1zM70.2 145.2h1v1h-1zM66.1 146.8h1v1h-1zM65.6 143.4h1v1h-1zM68.4 134.3h1v1h-1zM58.8 137.8h1v1h-1zM71.1 141.9h1v1h-1zM63.3 136.0h1v1h-1zM65.1 149.7h1v1h-1zM71.8 138.2h1v1h-1zM66.8 138.4h1v1h-1zM57.5 148.1h1v1h-1zM67.8 143.4h1v1h-1zM58.9 138.5h1v1h-1zM59.0 142.8h1v1h-1zM63.0 136.9h1v1h-1zM67.5 141.5h1v1h-1zM69.8 138.6h1v1h-1zM65.1 150.3h1v1h-1zM63.2 140.2h1v1h-1zM59.7 137.1h1v1h-1zM60.4 136.2h1v1h-1zM67.2 143.5h1v1h-1zM66.1 130.5h1v1h-1zM72.4 144.5h1v1h-1zM61.7 138.2h1v1h-1zM65.8 131.2h1v1h-1zM61.0 146.8h1v1h-1zM67.2 134.4h1v1h-1zM56.3 146.8h1v1h-1zM69.0 131.9h1v1h-1zM59.0 134.7h1v1h-1zM70.2 143.3h1v1h-1zM65.2 144.5h1v1h-1zM60.4 139.7h1v1h-1zM117.3 126.2h1v1h-1zM129.8 131.3h1v1h-1zM108.9 135.3h1v1h-1zM123.5 135.5h1v1h-1zM124.3 136.1h1v1h-1zM112.1 126.5h1v1h-1zM133.2 127.6h1v1h-1zM125.2 133.8h1v1h-1zM128.5 127.2h1v1h-1zM103.0 126.4h1v1h-1zM118.4 135.9h1v1h-1zM116.6 129.9h1v1h-1zM124.6 135.0h1v1h-1zM120.3 133.7h1v1h-1zM95.6 132.2h1v1h-1zM130.4 135.6h1v1h-1zM129.9 128.6h1v1h-1zM94.2 136.9h1v1h-1zM126.7 131.6h1v1h-1zM111.8 131.0h1v1h-1zM120.9 132.1h1v1h-1zM125.2 138.0h1v1h-1zM115.1 138.0h1v1h-1zM108.6 125.2h1v1h-1zM121.2 133.8h1v1h-1zM105.7 147.4h1v1h-1zM123.7 133.3h1v1h-1zM113.8 132.8h1v1h-1zM115.4 131.6h1v1h-1zM129.7 132.8h1v1h-1zM121.1 128.6h1v1h-1zM123.3 126.9h1v1h-1zM121.7 127.6h1v1h-1zM111.6 133.7h1v1h-1zM113.7 133.0h1v1h-1zM126.7 135.5h1v1h-1zM86.2 137.6h1v1h-1zM99.2 133.7h1v1h-1zM129.5 133.8h1v1h-1zM138.8 128.6h1v1h-1zM131.9 133.1h1v1h-1zM106.9 129.9h1v1h-1zM120.7 131.2h1v1h-1zM121.8 144.8h1v1h-1zM92.1 139.5h1v1h-1zM129.7 136.5h1v1h-1zM136.0 132.6h1v1h-1zM99.0 129.4h1v1h-1zM133.8 136.9h1v1h-1zM105.6 135.2h1v1h-1zM96.2 134.0h1v1h-1zM137.9 138.6h1v1h-1zM110.6 132.4h1v1h-1zM115.3 137.4h1v1h-1zM93.3 138.4h1v1h-1zM132.6 129.0h1v1h-1zM139.8 133.4h1v1h-1zM141.3 139.5h1v1h-1zM138.0 133.7h1v1h-1zM121.2 130.9h1v1h-1zM140.4 139.3h1v1h-1zM98.5 134.3h1v1h-1zM124.7 139.5h1v1h-1zM127.1 144.5h1v1h-1zM92.7 136.4h1v1h-1zM104.3 135.6h1v1h-1zM121.3 145.8h1v1h-1zM99.0 131.3h1v1h-1zM123.2 139.5h1v1h-1zM103.1 136.7h1v1h-1zM96.9 144.8h1v1h-1zM138.4 138.3h1v1h-1zM120.2 140.8h1v1h-1zM108.3 138.6h1v1h-1zM113.8 134.9h1v1h-1zM129.7 133.8h1v1h-1zM105.6 124.6h1v1h-1zM125.5 132.7h1v1h-1zM92.4 139.6h1v1h-1zM91.4 134.8h1v1h-1zM116.8 128.8h1v1h-1zM96.5 143.3h1v1h-1zM110.4 145.6h1v1h-1zM126.7 140.7h1v1h-1zM125.7 125.6h1v1h-1zM89.9 130.8h1v1h-1zM100.8 141.0h1v1h-1zM97.0 132.2h1v1h-1zM92.3 126.7h1v1h-1zM88.4 137.6h1v1h-1zM88.9 132.1h1v1h-1zM132.6 126.8h1v1h-1zM126.7 125.9h1v1h-1zM97.0 138.7h1v1h-1zM134.7 132.4h1v1h-1zM103.0 127.9h1v1h-1zM98.5 140.7h1v1h-1zM93.1 136.4h1v1h-1zM67.9 120.9h1v1h-1zM61.7 120.8h1v1h-1zM75.3 91.8h1v1h-1zM227.8 125.8h1v1h-1zM223.0 135.4h1v1h-1zM226.5 136.6h1v1h-1zM232.3 137.6h1v1h-1zM218.7 140.3h1v1h-1zM223.4 144.9h1v1h-1zM225.3 139.9h1v1h-1zM234.3 136.6h1v1h-1zM230.3 137.1h1v1h-1zM228.2 138.5h1v1h-1zM221.3 131.6h1v1h-1zM228.7 139.6h1v1h-1zM223.1 134.9h1v1h-1zM228.6 140.9h1v1h-1zM223.0 128.7h1v1h-1zM223.1 145.0h1v1h-1zM227.3 141.1h1v1h-1zM234.1 135.4h1v1h-1zM228.6 135.1h1v1h-1zM226.7 132.6h1v1h-1zM222.6 141.6h1v1h-1zM239.4 136.6h1v1h-1zM227.8 139.8h1v1h-1zM216.3 133.9h1v1h-1zM229.3 145.8h1v1h-1zM218.6 135.2h1v1h-1zM215.6 129.1h1v1h-1zM224.2 136.5h1v1h-1zM225.8 140.2h1v1h-1zM228.5 130.2h1v1h-1zM227.7 137.4h1v1h-1zM232.0 132.2h1v1h-1zM221.6 125.3h1v1h-1zM227.1 136.3h1v1h-1zM230.6 141.4h1v1h-1zM229.6 144.1h1v1h-1zM225.8 130.9h1v1h-1zM229.9 137.2h1v1h-1zM217.9 129.5h1v1h-1zM231.4 133.3h1v1h-1zM221.5 135.3h1v1h-1zM231.4 134.2h1v1h-1zM225.9 133.1h1v1h-1zM227.0 136.9h1v1h-1zM215.3 129.7h1v1h-1zM220.3 134.6h1v1h-1zM219.2 137.6h1v1h-1zM224.1 126.3h1v1h-1zM219.0 129.0h1v1h-1zM217.0 140.0h1v1h-1zM239.7 133.4h1v1h-1zM238.0 127.2h1v1h-1zM223.6 133.8h1v1h-1zM223.8 136.6h1v1h-1zM233.1 141.2h1v1h-1zM232.9 132.8h1v1h-1zM220.7 137.2h1v1h-1zM235.0 129.5h1v1h-1zM227.5 135.3h1v1h-1zM230.6 133.6h1v1h-1zM234.9 139.8h1v1h-1zM215.2 138.0h1v1h-1zM222.0 132.0h1v1h-1zM230.3 138.3h1v1h-1zM220.1 133.9h1v1h-1zM230.3 134.7h1v1h-1zM217.3 135.0h1v1h-1zM222.3 132.2h1v1h-1zM224.6 136.5h1v1h-1zM224.5 140.6h1v1h-1zM222.6 141.8h1v1h-1zM222.1 129.4h1v1h-1zM228.2 129.9h1v1h-1zM225.0 132.7h1v1h-1zM227.1 137.2h1v1h-1zM231.9 126.2h1v1h-1zM228.0 133.7h1v1h-1zM232.4 140.9h1v1h-1zM220.9 133.8h1v1h-1zM235.9 129.8h1v1h-1zM225.8 128.6h1v1h-1zM230.6 138.0h1v1h-1zM221.9 130.0h1v1h-1zM221.5 135.8h1v1h-1zM224.0 142.9h1v1h-1zM217.7 137.6h1v1h-1zM226.0 140.5h1v1h-1zM218.2 137.3h1v1h-1zM235.8 139.4h1v1h-1zM222.1 130.7h1v1h-1zM228.0 129.1h1v1h-1zM233.7 132.4h1v1h-1zM226.5 136.5h1v1h-1zM220.1 138.7h1v1h-1zM225.4 133.9h1v1h-1zM216.4 135.9h1v1h-1zM215.2 131.6h1v1h-1zM224.9 130.0h1v1h-1zM224.6 131.3h1v1h-1zM222.4 132.5h1v1h-1zM225.5 132.7h1v1h-1zM215.6 132.1h1v1h-1zM215.9 133.5h1v1h-1zM214.6 136.3h1v1h-1zM215.2 130.3h1v1h-1zM230.7 136.8h1v1h-1zM222.6 131.3h1v1h-1zM220.5 130.5h1v1h-1zM226.7 133.4h1v1h-1zM236.7 133.3h1v1h-1zM224.6 129.2h1v1h-1zM221.8 124.9h1v1h-1zM220.3 133.6h1v1h-1zM232.9 138.9h1v1h-1zM226.9 144.2h1v1h-1zM219.6 131.4h1v1h-1zM224.2 127.9h1v1h-1zM222.9 139.7h1v1h-1zM218.5 141.9h1v1h-1zM222.2 146.3h1v1h-1zM226.7 133.8h1v1h-1zM223.5 130.5h1v1h-1zM231.6 136.2h1v1h-1zM232.4 135.3h1v1h-1zM223.1 130.7h1v1h-1zM235.5 140.4h1v1h-1zM223.5 135.7h1v1h-1zM218.3 141.0h1v1h-1zM230.1 126.6h1v1h-1zM221.9 136.9h1v1h-1zM220.9 132.2h1v1h-1zM227.9 137.3h1v1h-1zM226.9 135.3h1v1h-1zM227.2 137.1h1v1h-1zM220.9 129.3h1v1h-1zM224.7 128.6h1v1h-1zM223.8 135.4h1v1h-1zM216.7 136.8h1v1h-1zM221.6 142.3h1v1h-1zM224.5 139.9h1v1h-1zM222.8 125.7h1v1h-1zM216.4 138.4h1v1h-1zM219.5 128.2h1v1h-1zM217.8 136.4h1v1h-1zM222.7 134.2h1v1h-1zM228.3 143.3h1v1h-1zM223.5 148.8h1v1h-1zM216.6 137.2h1v1h-1zM225.5 137.7h1v1h-1zM232.7 139.6h1v1h-1zM218.4 134.7h1v1h-1zM235.4 124.9h1v1h-1zM229.7 140.5h1v1h-1zM223.6 127.6h1v1h-1zM223.9 129.6h1v1h-1zM223.8 138.0h1v1h-1zM233.5 136.5h1v1h-1zM227.2 135.5h1v1h-1zM230.7 138.1h1v1h-1zM225.4 141.3h1v1h-1zM280.9 131.7h1v1h-1zM293.8 132.0h1v1h-1zM277.1 135.2h1v1h-1zM275.8 136.9h1v1h-1zM288.9 124.4h1v1h-1zM292.1 125.8h1v1h-1zM267.2 137.0h1v1h-1zM290.0 129.0h1v1h-1zM279.5 135.4h1v1h-1zM290.8 143.3h1v1h-1zM289.8 128.3h1v1h-1zM264.8 129.5h1v1h-1zM292.0 131.1h1v1h-1zM292.2 134.8h1v1h-1zM284.7 137.9h1v1h-1zM276.0 137.2h1v1h-1zM284.6 135.4h1v1h-1zM275.6 138.4h1v1h-1zM289.1 133.7h1v1h-1zM278.8 139.9h1v1h-1zM282.4 130.5h1v1h-1zM272.9 131.6h1v1h-1zM279.3 131.1h1v1h-1zM276.1 130.0h1v1h-1zM286.7 137.3h1v1h-1zM260.5 138.7h1v1h-1zM283.0 130.7h1v1h-1zM285.5 136.1h1v1h-1zM269.0 139.3h1v1h-1zM287.1 134.0h1v1h-1zM281.1 135.8h1v1h-1zM290.0 133.9h1v1h-1zM271.3 138.7h1v1h-1zM275.6 128.0h1v1h-1zM284.1 127.0h1v1h-1zM298.9 135.0h1v1h-1zM276.7 136.2h1v1h-1zM257.8 133.0h1v1h-1zM298.5 128.4h1v1h-1zM247.8 132.9h1v1h-1zM270.5 133.1h1v1h-1zM256.2 137.0h1v1h-1zM293.6 140.2h1v1h-1zM279.4 132.1h1v1h-1zM280.7 130.4h1v1h-1zM296.4 131.8h1v1h-1zM290.0 127.3h1v1h-1zM273.8 137.9h1v1h-1zM261.2 131.0h1v1h-1zM288.4 136.7h1v1h-1zM298.4 133.8h1v1h-1zM264.9 134.2h1v1h-1zM279.7 138.3h1v1h-1zM285.2 133.0h1v1h-1zM273.8 128.2h1v1h-1zM272.0 143.1h1v1h-1zM266.8 147.9h1v1h-1zM281.6 132.9h1v1h-1zM285.2 134.8h1v1h-1zM255.6 133.6h1v1h-1zM297.3 139.3h1v1h-1zM290.5 135.8h1v1h-1zM274.8 150.8h1v1h-1zM296.4 135.9h1v1h-1zM257.5 136.4h1v1h-1zM248.8 143.4h1v1h-1zM253.9 128.6h1v1h-1zM281.0 125.9h1v1h-1zM268.3 137.0h1v1h-1zM295.1 145.4h1v1h-1zM272.9 130.6h1v1h-1zM298.4 126.1h1v1h-1zM250.5 134.5h1v1h-1zM297.3 137.4h1v1h-1zM279.2 125.5h1v1h-1zM281.6 131.7h1v1h-1zM261.9 136.3h1v1h-1zM273.7 136.2h1v1h-1zM262.9 129.7h1v1h-1zM281.0 128.1h1v1h-1zM268.4 130.5h1v1h-1zM293.8 131.1h1v1h-1zM288.3 139.5h1v1h-1zM254.2 139.0h1v1h-1zM218.9 87.6h1v1h-1zM231.1 115.0h1v1h-1zM235.2 112.2h1v1h-1zM229.9 108.2h1v1h-1zM236.6 102.5h1v1h-1zM235.9 114.5h1v1h-1zM221.4 108.4h1v1h-1zM219.8 99.2h1v1h-1zM222.8 100.5h1v1h-1zM378.1 130.4h1v1h-1zM385.4 128.6h1v1h-1zM383.4 136.0h1v1h-1zM381.2 140.6h1v1h-1zM390.1 135.0h1v1h-1zM386.2 139.9h1v1h-1zM391.1 147.7h1v1h-1zM388.7 138.2h1v1h-1zM393.7 139.8h1v1h-1zM391.0 132.3h1v1h-1zM380.0 145.7h1v1h-1zM386.7 138.2h1v1h-1zM388.0 135.2h1v1h-1zM377.1 137.8h1v1h-1zM381.0 138.0h1v1h-1zM384.7 145.9h1v1h-1zM388.6 145.4h1v1h-1zM384.6 140.0h1v1h-1zM385.5 137.9h1v1h-1zM389.1 135.9h1v1h-1zM383.0 137.5h1v1h-1zM383.9 129.9h1v1h-1zM383.7 138.0h1v1h-1zM377.1 144.8h1v1h-1zM376.5 137.0h1v1h-1zM382.0 132.2h1v1h-1zM389.6 129.8h1v1h-1zM386.6 135.7h1v1h-1zM386.1 136.2h1v1h-1zM386.7 129.8h1v1h-1zM398.8 135.1h1v1h-1zM387.8 144.6h1v1h-1zM393.9 133.2h1v1h-1zM380.8 133.9h1v1h-1zM380.8 140.3h1v1h-1zM384.4 141.6h1v1h-1zM386.7 136.6h1v1h-1zM384.6 138.9h1v1h-1zM379.2 143.1h1v1h-1zM377.2 143.0h1v1h-1zM388.1 136.3h1v1h-1zM385.2 133.8h1v1h-1zM390.3 136.9h1v1h-1zM378.0 144.6h1v1h-1zM388.1 126.3h1v1h-1zM386.7 127.3h1v1h-1zM394.8 137.7h1v1h-1zM389.2 132.1h1v1h-1zM395.2 136.6h1v1h-1zM389.5 132.9h1v1h-1zM380.5 133.4h1v1h-1zM388.3 137.0h1v1h-1zM378.3 133.4h1v1h-1zM384.8 138.6h1v1h-1zM395.4 131.6h1v1h-1zM392.1 133.1h1v1h-1zM380.8 146.5h1v1h-1zM399.3 132.0h1v1h-1zM382.5 127.9h1v1h-1zM384.3 129.9h1v1h-1zM386.4 137.5h1v1h-1zM394.3 137.8h1v1h-1zM378.3 137.9h1v1h-1zM387.8 130.6h1v1h-1zM388.1 131.3h1v1h-1zM386.9 133.2h1v1h-1zM383.2 136.8h1v1h-1zM386.5 139.0h1v1h-1zM390.4 146.1h1v1h-1zM380.6 138.1h1v1h-1zM385.0 138.2h1v1h-1zM386.0 139.1h1v1h-1zM382.5 142.0h1v1h-1zM395.1 125.4h1v1h-1zM389.5 138.5h1v1h-1zM378.0 141.0h1v1h-1zM378.8 137.4h1v1h-1zM387.4 132.1h1v1h-1zM381.1 130.0h1v1h-1zM391.8 133.4h1v1h-1zM393.6 150.0h1v1h-1zM384.1 144.5h1v1h-1zM384.8 139.4h1v1h-1zM389.9 131.8h1v1h-1zM384.6 137.5h1v1h-1zM378.9 139.4h1v1h-1zM392.1 138.9h1v1h-1zM390.9 146.4h1v1h-1zM381.2 136.4h1v1h-1zM381.7 137.6h1v1h-1zM378.9 140.9h1v1h-1zM389.6 145.4h1v1h-1zM384.4 137.6h1v1h-1zM384.6 135.3h1v1h-1zM381.2 140.5h1v1h-1zM376.7 142.5h1v1h-1zM384.2 138.8h1v1h-1zM397.9 139.2h1v1h-1zM387.1 140.3h1v1h-1zM391.6 147.8h1v1h-1zM389.8 141.7h1v1h-1zM391.6 133.4h1v1h-1zM378.8 139.3h1v1h-1zM384.1 135.5h1v1h-1zM386.6 135.7h1v1h-1zM383.7 129.0h1v1h-1zM391.0 129.3h1v1h-1zM389.4 135.6h1v1h-1zM381.4 135.9h1v1h-1zM391.4 127.0h1v1h-1zM381.8 126.5h1v1h-1zM393.4 133.1h1v1h-1zM386.7 131.1h1v1h-1zM388.7 136.4h1v1h-1zM390.7 136.8h1v1h-1zM382.5 128.4h1v1h-1zM395.3 131.6h1v1h-1zM376.2 138.6h1v1h-1zM387.7 133.8h1v1h-1zM392.6 131.6h1v1h-1zM391.5 152.1h1v1h-1zM387.5 127.7h1v1h-1zM393.7 146.2h1v1h-1zM376.7 135.2h1v1h-1zM381.6 139.1h1v1h-1zM388.7 141.3h1v1h-1zM383.8 135.0h1v1h-1zM385.3 140.2h1v1h-1zM379.3 141.6h1v1h-1zM385.6 139.2h1v1h-1zM389.8 126.8h1v1h-1zM389.9 151.4h1v1h-1zM381.8 136.3h1v1h-1zM387.3 140.9h1v1h-1zM463.8 150.3h1v1h-1zM455.5 139.8h1v1h-1zM450.3 126.8h1v1h-1zM459.3 139.1h1v1h-1zM468.1 131.8h1v1h-1zM453.4 128.5h1v1h-1zM464.9 135.6h1v1h-1zM470.3 137.5h1v1h-1zM471.6 142.2h1v1h-1zM467.0 131.8h1v1h-1zM474.5 134.6h1v1h-1zM463.6 138.8h1v1h-1zM477.4 147.2h1v1h-1zM452.6 129.1h1v1h-1zM464.7 139.0h1v1h-1zM467.8 136.7h1v1h-1zM451.6 133.6h1v1h-1zM463.6 137.0h1v1h-1zM452.8 139.1h1v1h-1zM466.1 136.1h1v1h-1zM465.0 137.7h1v1h-1zM453.1 140.6h1v1h-1zM466.2 136.7h1v1h-1zM468.4 139.7h1v1h-1zM454.9 134.1h1v1h-1zM458.7 135.6h1v1h-1zM468.8 137.9h1v1h-1zM453.6 137.5h1v1h-1zM461.3 138.9h1v1h-1zM465.3 132.9h1v1h-1zM470.6 139.3h1v1h-1zM417.6 149.2h1v1h-1zM462.6 128.2h1v1h-1zM469.2 132.7h1v1h-1zM463.0 138.6h1v1h-1zM458.2 142.8h1v1h-1zM425.6 133.7h1v1h-1zM455.7 125.6h1v1h-1zM431.8 131.7h1v1h-1zM455.7 144.3h1v1h-1zM466.1 131.1h1v1h-1zM420.8 135.8h1v1h-1zM426.1 140.1h1v1h-1zM461.8 129.6h1v1h-1zM457.5 136.2h1v1h-1zM444.3 137.8h1v1h-1zM422.5 148.2h1v1h-1zM440.5 141.1h1v1h-1zM438.4 147.1h1v1h-1zM461.4 133.8h1v1h-1zM456.2 128.4h1v1h-1zM457.4 130.5h1v1h-1zM451.2 129.6h1v1h-1zM416.8 138.0h1v1h-1zM415.0 126.0h1v1h-1zM473.8 128.1h1v1h-1zM441.4 150.0h1v1h-1zM443.9 129.0h1v1h-1zM440.5 131.8h1v1h-1zM460.2 141.9h1v1h-1zM431.6 139.8h1v1h-1zM475.8 132.1h1v1h-1zM471.8 140.8h1v1h-1zM423.1 142.6h1v1h-1zM428.5 130.1h1v1h-1zM433.3 127.3h1v1h-1zM449.1 147.3h1v1h-1zM474.4 128.3h1v1h-1zM442.6 150.0h1v1h-1zM416.6 130.9h1v1h-1zM418.4 130.3h1v1h-1zM453.1 137.9h1v1h-1zM459.7 148.7h1v1h-1zM415.6 150.5h1v1h-1zM416.7 129.6h1v1h-1zM424.5 129.9h1v1h-1zM413.2 136.9h1v1h-1zM477.1 140.2h1v1h-1zM427.0 135.3h1v1h-1zM449.2 139.2h1v1h-1zM465.4 132.5h1v1h-1zM439.8 128.5h1v1h-1zM395.8 85.7h1v1h-1zM403.1 79.0h1v1h-1zM385.8 105.5h1v1h-1zM402.1 76.1h1v1h-1zM62.5 304.2h1v1h-1zM59.0 296.4h1v1h-1zM64.0 300.6h1v1h-1zM69.9 293.3h1v1h-1zM73.2 292.7h1v1h-1zM58.2 303.2h1v1h-1zM67.5 296.1h1v1h-1zM57.9 291.9h1v1h-1zM64.9 288.0h1v1h-1zM70.2 290.4h1v1h-1zM64.4 300.2h1v1h-1zM73.9 289.1h1v1h-1zM64.2 300.0h1v1h-1zM61.0 293.5h1v1h-1zM65.8 290.1h1v1h-1zM69.5 297.9h1v1h-1zM72.4 291.6h1v1h-1zM65.4 285.1h1v1h-1zM65.6 293.8h1v1h-1zM67.3 300.1h1v1h-1zM65.1 301.1h1v1h-1zM68.2 295.8h1v1h-1zM60.6 288.8h1v1h-1zM66.6 284.8h1v1h-1zM55.3 291.6h1v1h-1zM66.8 281.8h1v1h-1zM66.4 294.2h1v1h-1zM69.3 292.7h1v1h-1zM74.7 292.3h1v1h-1zM63.7 293.3h1v1h-1zM63.2 301.8h1v1h-1zM70.0 295.2h1v1h-1zM65.0 299.8h1v1h-1zM61.6 301.4h1v1h-1zM61.7 288.4h1v1h-1zM74.2 293.9h1v1h-1zM56.7 288.4h1v1h-1zM64.6 294.4h1v1h-1zM70.6 298.1h1v1h-1zM72.5 295.2h1v1h-1zM74.4 295.8h1v1h-1zM70.2 288.8h1v1h-1zM57.9 292.6h1v1h-1zM60.4 301.9h1v1h-1zM56.3 287.2h1v1h-1zM62.0 290.5h1v1h-1zM65.2 295.9h1v1h-1zM73.6 293.0h1v1h-1zM71.8 291.9h1v1h-1zM68.9 292.7h1v1h-1zM63.1 285.0h1v1h-1zM65.6 287.7h1v1h-1zM72.8 283.4h1v1h-1zM75.5 292.8h1v1h-1zM69.9 294.3h1v1h-1zM62.4 293.8h1v1h-1zM60.8 294.1h1v1h-1zM63.0 291.3h1v1h-1zM72.2 299.1h1v1h-1zM57.6 289.7h1v1h-1zM68.1 291.0h1v1h-1zM59.9 295.6h1v1h-1zM69.6 297.1h1v1h-1zM62.7 292.0h1v1h-1zM69.3 293.5h1v1h-1zM68.6 287.8h1v1h-1zM66.8 299.1h1v1h-1zM64.1 289.1h1v1h-1zM72.8 290.9h1v1h-1zM63.2 294.9h1v1h-1zM70.0 290.9h1v1h-1zM60.2 294.7h1v1h-1zM69.2 288.5h1v1h-1zM56.0 287.4h1v1h-1zM63.5 297.8h1v1h-1zM59.7 302.4h1v1h-1zM73.6 294.4h1v1h-1zM69.7 303.4h1v1h-1zM80.9 296.6h1v1h-1zM58.2 290.6h1v1h-1zM53.8 299.2h1v1h-1zM65.2 291.3h1v1h-1zM70.9 292.0h1v1h-1zM78.3 286.8h1v1h-1zM71.0 288.8h1v1h-1zM57.4 299.4h1v1h-1zM71.7 294.3h1v1h-1zM58.1 289.4h1v1h-1zM69.5 293.3h1v1h-1zM71.1 287.5h1v1h-1zM63.9 293.9h1v1h-1zM69.9 296.7h1v1h-1zM69.3 292.3h1v1h-1zM62.3 296.8h1v1h-1zM72.1 290.5h1v1h-1zM55.8 302.8h1v1h-1zM75.3 295.5h1v1h-1zM60.8 287.0h1v1h-1zM68.1 293.2h1v1h-1zM65.2 287.6h1v1h-1zM69.0 299.8h1v1h-1zM72.5 290.8h1v1h-1zM73.1 293.2h1v1h-1zM63.6 291.0h1v1h-1zM60.8 291.6h1v1h-1zM70.7 294.0h1v1h-1zM66.2 295.5h1v1h-1zM77.2 298.0h1v1h-1zM69.9 291.7h1v1h-1zM56.0 304.0h1v1h-1zM72.1 292.7h1v1h-1zM54.9 298.6h1v1h-1zM71.9 295.3h1v1h-1zM68.0 285.5h1v1h-1zM61.6 293.5h1v1h-1zM71.3 306.3h1v1h-1zM61.1 282.1h1v1h-1zM72.4 295.9h1v1h-1zM69.4 294.8h1v1h-1zM66.7 300.4h1v1h-1zM65.1 296.2h1v1h-1zM71.7 298.9h1v1h-1zM65.1 300.0h1v1h-1zM64.3 298.3h1v1h-1zM70.2 294.9h1v1h-1zM69.6 297.0h1v1h-1zM146.6 294.8h1v1h-1zM121.9 297.7h1v1h-1zM101.5 290.0h1v1h-1zM117.3 297.7h1v1h-1zM140.1 293.2h1v1h-1zM118.0 295.3h1v1h-1zM142.6 292.7h1v1h-1zM128.7 290.1h1v1h-1zM118.0 294.7h1v1h-1zM119.2 295.1h1v1h-1zM144.5 285.1h1v1h-1zM127.7 293.5h1v1h-1zM122.5 287.6h1v1h-1zM124.8 291.6h1v1h-1zM146.2 287.8h1v1h-1zM133.7 291.8h1v1h-1zM145.3 296.2h1v1h-1zM117.9 294.2h1v1h-1zM102.0 294.6h1v1h-1zM101.7 296.2h1v1h-1zM110.6 293.1h1v1h-1zM124.1 288.2h1v1h-1zM144.6 285.9h1v1h-1zM115.2 305.9h1v1h-1zM120.1 291.0h1v1h-1zM125.9 291.4h1v1h-1zM145.7 295.9h1v1h-1zM96.3 290.0h1v1h-1zM94.8 283.3h1v1h-1zM108.4 282.3h1v1h-1zM132.8 295.5h1v1h-1zM122.4 289.1h1v1h-1zM106.3 288.4h1v1h-1zM95.7 283.8h1v1h-1zM92.4 288.9h1v1h-1zM102.3 290.8h1v1h-1zM143.9 289.2h1v1h-1zM121.5 286.3h1v1h-1zM141.8 289.6h1v1h-1zM118.5 296.2h1v1h-1zM106.3 291.5h1v1h-1zM129.0 286.4h1v1h-1zM105.0 293.2h1v1h-1zM129.5 299.4h1v1h-1zM127.8 304.1h1v1h-1zM107.9 293.5h1v1h-1zM114.1 284.8h1v1h-1zM101.0 299.4h1v1h-1zM126.3 292.0h1v1h-1zM89.4 280.4h1v1h-1zM144.4 287.8h1v1h-1zM138.1 288.8h1v1h-1zM124.0 290.4h1v1h-1zM114.2 284.8h1v1h-1zM130.6 282.9h1v1h-1zM136.3 283.5h1v1h-1zM105.7 289.5h1v1h-1zM90.0 286.5h1v1h-1zM124.7 288.8h1v1h-1zM106.2 284.2h1v1h-1zM140.2 295.4h1v1h-1zM92.8 280.4h1v1h-1zM97.4 294.0h1v1h-1zM123.4 280.6h1v1h-1zM117.0 284.9h1v1h-1zM127.6 283.4h1v1h-1zM128.1 300.3h1v1h-1zM110.3 286.8h1v1h-1zM120.7 289.3h1v1h-1zM139.9 295.6h1v1h-1zM75.8 273.4h1v1h-1zM235.4 292.7h1v1h-1zM235.3 293.6h1v1h-1zM231.9 300.6h1v1h-1zM220.1 298.7h1v1h-1zM227.4 297.6h1v1h-1zM228.8 296.0h1v1h-1zM231.5 290.6h1v1h-1zM226.7 304.7h1v1h-1zM231.0 298.0h1v1h-1zM224.3 295.2h1v1h-1zM233.2 290.6h1v1h-1zM226.7 296.4h1v1h-1zM229.3 298.0h1v1h-1zM225.5 289.6h1v1h-1zM234.3 300.7h1v1h-1zM230.6 291.5h1v1h-1zM235.4 295.6h1v1h-1zM230.3 287.8h1v1h-1zM238.1 295.3h1v1h-1zM231.4 293.4h1v1h-1zM230.5 283.6h1v1h-1zM221.2 295.8h1v1h-1zM220.9 286.9h1v1h-1zM231.3 300.9h1v1h-1zM231.7 294.6h1v1h-1zM234.5 293.3h1v1h-1zM235.5 301.5h1v1h-1zM231.5 291.1h1v1h-1zM236.3 300.3h1v1h-1zM230.5 286.1h1v1h-1zM225.3 296.3h1v1h-1zM222.0 288.6h1v1h-1zM229.9 290.2h1v1h-1zM229.2 294.8h1v1h-1zM228.9 296.2h1v1h-1zM227.1 305.2h1v1h-1zM234.4 296.7h1v1h-1zM238.5 296.2h1v1h-1zM240.8 292.0h1v1h-1zM235.3 297.0h1v1h-1zM239.8 286.2h1v1h-1zM238.3 293.1h1v1h-1zM224.8 308.0h1v1h-1zM231.4 297.6h1v1h-1zM236.0 288.1h1v1h-1zM240.0 298.2h1v1h-1zM234.0 300.4h1v1h-1zM230.7 290.2h1v1h-1zM237.9 288.5h1v1h-1zM230.4 295.0h1v1h-1zM228.5 293.9h1v1h-1zM235.5 297.8h1v1h-1zM220.9 292.4h1v1h-1zM223.6 292.1h1v1h-1zM227.4 295.4h1v1h-1zM222.1 294.6h1v1h-1zM237.1 287.3h1v1h-1zM233.3 295.4h1v1h-1zM231.0 288.1h1v1h-1zM234.0 306.9h1v1h-1zM230.5 301.1h1v1h-1zM234.7 300.9h1v1h-1zM231.8 301.2h1v1h-1zM242.5 287.7h1v1h-1zM225.2 296.7h1v1h-1zM229.2 287.9h1v1h-1zM235.4 301.3h1v1h-1zM230.8 286.3h1v1h-1zM242.9 296.1h1v1h-1zM227.4 300.9h1v1h-1zM232.9 288.2h1v1h-1zM235.7 295.9h1v1h-1zM235.9 292.5h1v1h-1zM232.6 302.5h1v1h-1zM233.7 296.1h1v1h-1zM238.1 297.1h1v1h-1zM231.8 301.3h1v1h-1zM226.2 291.5h1v1h-1zM225.2 293.8h1v1h-1zM233.9 286.0h1v1h-1zM232.2 291.0h1v1h-1zM233.1 289.0h1v1h-1zM228.9 291.5h1v1h-1zM228.5 290.5h1v1h-1zM225.9 298.2h1v1h-1zM234.7 297.4h1v1h-1zM228.7 286.8h1v1h-1zM228.5 289.9h1v1h-1zM239.7 291.3h1v1h-1zM232.7 288.7h1v1h-1zM238.4 295.3h1v1h-1zM234.9 297.0h1v1h-1zM218.1 295.7h1v1h-1zM232.5 294.5h1v1h-1zM241.3 298.7h1v1h-1zM235.3 302.1h1v1h-1zM232.4 292.6h1v1h-1zM241.3 308.0h1v1h-1zM218.9 295.8h1v1h-1zM228.1 304.7h1v1h-1zM241.8 292.0h1v1h-1zM230.6 301.3h1v1h-1zM228.4 295.8h1v1h-1zM238.0 296.0h1v1h-1zM225.8 293.8h1v1h-1zM236.4 294.5h1v1h-1zM229.5 292.1h1v1h-1zM240.6 290.9h1v1h-1zM228.8 303.5h1v1h-1zM220.6 290.6h1v1h-1zM227.7 291.0h1v1h-1zM221.5 301.2h1v1h-1zM228.8 291.7h1v1h-1zM219.5 300.3h1v1h-1zM220.6 295.3h1v1h-1zM227.8 293.7h1v1h-1zM224.8 301.3h1v1h-1zM227.8 286.8h1v1h-1zM237.1 297.2h1v1h-1zM224.2 300.6h1v1h-1zM228.9 295.7h1v1h-1zM235.7 293.2h1v1h-1zM232.5 294.5h1v1h-1zM228.8 289.0h1v1h-1zM233.1 297.4h1v1h-1zM227.7 297.4h1v1h-1zM236.9 291.9h1v1h-1zM225.4 299.5h1v1h-1zM230.8 304.4h1v1h-1zM227.9 295.4h1v1h-1zM232.7 294.6h1v1h-1zM226.7 297.9h1v1h-1zM239.4 294.6h1v1h-1zM228.1 283.5h1v1h-1zM232.6 295.7h1v1h-1zM238.2 296.0h1v1h-1zM233.9 302.9h1v1h-1zM237.6 306.0h1v1h-1zM237.1 294.1h1v1h-1zM229.0 294.3h1v1h-1zM232.3 296.5h1v1h-1zM225.7 294.3h1v1h-1zM233.0 297.8h1v1h-1zM237.6 290.1h1v1h-1zM222.7 292.0h1v1h-1zM237.0 298.6h1v1h-1zM224.8 294.5h1v1h-1zM225.0 297.4h1v1h-1zM226.2 307.1h1v1h-1zM234.6 300.2h1v1h-1zM243.0 293.5h1v1h-1zM227.2 291.2h1v1h-1zM296.4 290.6h1v1h-1zM288.4 290.6h1v1h-1zM316.5 298.5h1v1h-1zM292.6 297.1h1v1h-1zM299.6 285.9h1v1h-1zM311.1 287.0h1v1h-1zM304.7 294.6h1v1h-1zM295.9 299.9h1v1h-1zM301.3 286.3h1v1h-1zM294.1 296.8h1v1h-1zM307.8 291.4h1v1h-1zM303.5 288.6h1v1h-1zM288.0 300.0h1v1h-1zM275.6 294.1h1v1h-1zM304.2 298.9h1v1h-1zM281.4 283.5h1v1h-1zM299.0 290.6h1v1h-1zM311.1 286.6h1v1h-1zM293.7 283.4h1v1h-1zM315.7 290.4h1v1h-1zM294.5 302.8h1v1h-1zM301.7 290.9h1v1h-1zM303.6 298.0h1v1h-1zM291.9 287.1h1v1h-1zM303.4 292.1h1v1h-1zM311.4 292.5h1v1h-1zM305.0 292.6h1v1h-1zM302.4 291.8h1v1h-1zM302.5 283.9h1v1h-1zM296.0 289.1h1v1h-1zM308.4 286.1h1v1h-1zM282.7 290.3h1v1h-1zM298.1 285.8h1v1h-1zM310.2 283.4h1v1h-1zM251.1 293.4h1v1h-1zM272.8 294.9h1v1h-1zM284.9 284.6h1v1h-1zM253.2 288.7h1v1h-1zM262.0 295.1h1v1h-1zM259.2 282.6h1v1h-1zM282.4 296.8h1v1h-1zM313.0 288.6h1v1h-1zM280.8 291.4h1v1h-1zM313.4 299.3h1v1h-1zM256.9 290.6h1v1h-1zM291.9 299.5h1v1h-1zM295.0 307.2h1v1h-1zM298.2 290.3h1v1h-1zM294.1 290.5h1v1h-1zM297.7 291.5h1v1h-1zM249.2 280.0h1v1h-1zM256.0 286.2h1v1h-1zM283.1 288.1h1v1h-1zM294.1 291.4h1v1h-1zM253.2 293.4h1v1h-1zM317.8 287.7h1v1h-1zM270.2 293.3h1v1h-1zM280.3 290.4h1v1h-1zM253.9 287.9h1v1h-1zM314.9 300.6h1v1h-1zM266.4 292.0h1v1h-1zM315.3 294.7h1v1h-1zM284.9 286.6h1v1h-1zM297.1 290.3h1v1h-1zM280.5 292.1h1v1h-1zM280.1 300.7h1v1h-1zM297.0 281.5h1v1h-1zM277.1 285.2h1v1h-1zM301.3 293.3h1v1h-1zM302.9 289.8h1v1h-1zM268.1 297.9h1v1h-1zM265.0 302.0h1v1h-1zM266.6 294.3h1v1h-1zM267.4 300.3h1v1h-1zM308.0 282.3h1v1h-1zM308.9 279.2h1v1h-1zM252.9 289.4h1v1h-1zM235.3 233.2h1v1h-1zM236.9 263.9h1v1h-1zM234.0 259.6h1v1h-1zM243.3 251.6h1v1h-1zM225.2 260.3h1v1h-1zM228.8 235.0h1v1h-1zM244.9 271.4h1v1h-1zM217.3 275.9h1v1h-1zM388.8 286.3h1v1h-1zM392.6 292.6h1v1h-1zM389.4 296.2h1v1h-1zM394.0 288.6h1v1h-1zM394.0 294.9h1v1h-1zM390.1 307.2h1v1h-1zM390.8 300.5h1v1h-1zM389.7 293.4h1v1h-1zM390.9 290.7h1v1h-1zM392.3 292.5h1v1h-1zM394.4 294.4h1v1h-1zM387.6 299.6h1v1h-1zM400.1 303.6h1v1h-1zM391.7 299.7h1v1h-1zM386.2 293.1h1v1h-1zM388.7 294.9h1v1h-1zM385.3 296.8h1v1h-1zM391.3 295.7h1v1h-1zM383.7 294.2h1v1h-1zM393.8 296.1h1v1h-1zM390.0 294.5h1v1h-1zM382.7 300.6h1v1h-1zM384.4 293.1h1v1h-1zM392.5 290.3h1v1h-1zM389.2 296.0h1v1h-1zM391.7 290.4h1v1h-1zM399.4 294.0h1v1h-1zM388.3 305.0h1v1h-1zM387.2 301.3h1v1h-1zM396.3 296.4h1v1h-1zM380.7 295.7h1v1h-1zM385.4 292.3h1v1h-1zM387.4 292.8h1v1h-1zM394.3 305.0h1v1h-1zM382.3 289.8h1v1h-1zM390.9 302.8h1v1h-1zM392.5 302.9h1v1h-1zM392.3 293.2h1v1h-1zM391.4 307.6h1v1h-1zM393.0 289.2h1v1h-1zM387.3 301.2h1v1h-1zM394.1 302.2h1v1h-1zM389.3 301.4h1v1h-1zM385.8 293.7h1v1h-1zM387.8 296.8h1v1h-1zM391.7 292.8h1v1h-1zM393.3 286.7h1v1h-1zM391.8 286.2h1v1h-1zM395.8 306.0h1v1h-1zM381.5 301.6h1v1h-1zM399.7 292.3h1v1h-1zM397.1 289.6h1v1h-1zM393.6 294.7h1v1h-1zM389.2 299.9h1v1h-1zM391.2 295.8h1v1h-1zM394.2 302.0h1v1h-1zM395.3 292.1h1v1h-1zM397.0 301.7h1v1h-1zM395.8 304.4h1v1h-1zM402.1 300.2h1v1h-1zM393.2 286.4h1v1h-1zM400.7 290.3h1v1h-1zM400.8 293.1h1v1h-1zM394.5 297.6h1v1h-1zM393.1 290.3h1v1h-1zM399.1 296.6h1v1h-1zM386.4 293.0h1v1h-1zM389.1 299.5h1v1h-1zM392.3 305.7h1v1h-1zM395.4 294.2h1v1h-1zM387.5 293.9h1v1h-1zM394.6 296.9h1v1h-1zM398.4 303.1h1v1h-1zM385.9 296.1h1v1h-1zM387.1 297.1h1v1h-1zM389.4 301.7h1v1h-1zM396.2 292.5h1v1h-1zM380.0 294.5h1v1h-1zM384.0 288.2h1v1h-1zM393.1 297.1h1v1h-1zM389.4 293.6h1v1h-1zM387.7 296.6h1v1h-1zM391.8 300.5h1v1h-1zM391.1 304.8h1v1h-1zM392.9 294.1h1v1h-1zM395.3 299.7h1v1h-1zM388.1 291.3h1v1h-1zM389.0 290.1h1v1h-1zM392.5 300.8h1v1h-1zM394.6 291.3h1v1h-1zM395.7 300.7h1v1h-1zM395.8 286.1h1v1h-1zM396.0 293.7h1v1h-1zM390.0 295.1h1v1h-1zM389.1 302.9h1v1h-1zM387.0 292.0h1v1h-1zM393.5 288.0h1v1h-1zM388.6 297.3h1v1h-1zM390.6 301.0h1v1h-1zM391.7 298.7h1v1h-1zM385.9 283.7h1v1h-1zM395.7 293.7h1v1h-1zM380.5 301.9h1v1h-1zM393.1 301.3h1v1h-1zM386.6 284.0h1v1h-1zM392.5 301.7h1v1h-1zM388.0 290.8h1v1h-1zM396.6 295.4h1v1h-1zM393.7 296.6h1v1h-1zM391.1 293.7h1v1h-1zM384.7 293.8h1v1h-1zM388.5 289.7h1v1h-1zM381.5 297.3h1v1h-1zM384.8 296.8h1v1h-1zM394.4 295.9h1v1h-1zM387.1 286.4h1v1h-1zM398.0 291.9h1v1h-1zM404.8 285.8h1v1h-1zM392.4 297.6h1v1h-1zM385.1 289.4h1v1h-1zM393.2 298.6h1v1h-1zM391.7 297.3h1v1h-1zM397.2 299.1h1v1h-1zM394.5 294.3h1v1h-1zM390.6 300.0h1v1h-1zM391.3 293.3h1v1h-1zM447.7 290.2h1v1h-1zM459.1 297.3h1v1h-1zM442.9 294.7h1v1h-1zM447.6 302.9h1v1h-1zM456.8 302.8h1v1h-1zM447.6 294.9h1v1h-1zM445.9 294.3h1v1h-1zM455.0 293.9h1v1h-1zM444.0 304.2h1v1h-1zM450.9 301.6h1v1h-1zM445.1 291.4h1v1h-1zM456.1 294.9h1v1h-1zM455.8 289.0h1v1h-1zM452.3 289.8h1v1h-1zM447.3 300.8h1v1h-1zM444.1 291.0h1v1h-1zM444.6 297.2h1v1h-1zM455.5 300.2h1v1h-1zM460.9 295.6h1v1h-1zM452.2 301.0h1v1h-1zM445.1 286.1h1v1h-1zM436.1 287.8h1v1h-1zM447.8 293.2h1v1h-1zM454.5 299.7h1v1h-1zM459.2 292.0h1v1h-1zM437.0 305.0h1v1h-1zM446.9 290.8h1v1h-1zM437.7 291.0h1v1h-1zM444.7 297.5h1v1h-1zM444.9 298.5h1v1h-1zM456.8 301.3h1v1h-1zM425.7 293.3h1v1h-1zM458.3 290.2h1v1h-1zM449.2 293.4h1v1h-1zM428.7 305.4h1v1h-1zM431.6 299.9h1v1h-1zM429.5 283.0h1v1h-1zM469.6 281.5h1v1h-1zM473.0 293.9h1v1h-1zM439.4 289.7h1v1h-1zM440.9 295.5h1v1h-1zM459.2 294.6h1v1h-1zM455.2 287.6h1v1h-1zM450.6 286.6h1v1h-1zM440.0 287.7h1v1h-1zM468.3 293.9h1v1h-1zM460.4 302.4h1v1h-1zM414.8 295.9h1v1h-1zM427.9 293.0h1v1h-1zM414.3 291.4h1v1h-1zM431.4 285.1h1v1h-1zM456.9 296.0h1v1h-1zM443.8 289.3h1v1h-1zM466.4 286.8h1v1h-1zM422.8 299.1h1v1h-1zM417.2 293.9h1v1h-1zM431.0 307.0h1v1h-1zM444.6 288.4h1v1h-1zM422.1 293.2h1v1h-1zM462.5 286.3h1v1h-1zM465.9 287.7h1v1h-1zM469.7 298.1h1v1h-1zM438.3 289.2h1v1h-1zM427.3 284.8h1v1h-1zM436.1 298.2h1v1h-1zM441.2 298.8h1v1h-1zM418.9 299.8h1v1h-1zM466.1 281.0h1v1h-1zM452.8 301.0h1v1h-1zM448.1 295.3h1v1h-1zM453.2 302.6h1v1h-1zM470.8 284.5h1v1h-1zM457.6 297.6h1v1h-1zM466.3 305.7h1v1h-1zM437.8 298.4h1v1h-1zM415.5 289.3h1v1h-1zM463.4 294.1h1v1h-1zM443.8 297.5h1v1h-1zM423.1 294.5h1v1h-1zM380.2 253.6h1v1h-1zM387.1 266.6h1v1h-1zM396.5 275.2h1v1h-1zM398.8 271.9h1v1h-1zM396.5 273.6h1v1h-1zM383.9 254.9h1v1h-1zM386.1 260.4h1v1h-1zM395.1 270.8h1v1h-1z"/><path fill="#000" fill-opacity="0.7" d="M67.7 139.0h1v1h-1zM71.5 147.8h1v1h-1zM63.1 138.8h1v1h-1zM68.4 138.3h1v1h-1zM57.0 139.1h1v1h-1zM61.6 141.3h1v1h-1zM59.1 140.1h1v1h-1zM67.7 139.4h1v1h-1zM57.8 140.8h1v1h-1zM64.0 143.7h1v1h-1zM73.2 135.4h1v1h-1zM66.2 138.5h1v1h-1zM68.7 137.5h1v1h-1zM62.4 138.9h1v1h-1zM65.2 132.9h1v1h-1zM74.8 136.9h1v1h-1zM60.3 150.5h1v1h-1zM63.9 146.5h1v1h-1zM70.6 140.7h1v1h-1zM73.2 135.6h1v1h-1zM68.8 144.1h1v1h-1zM65.0 144.8h1v1h-1zM65.3 146.3h1v1h-1zM64.3 147.6h1v1h-1zM64.4 135.2h1v1h-1zM59.9 132.2h1v1h-1zM65.6 149.1h1v1h-1zM58.5 139.6h1v1h-1zM60.2 131.5h1v1h-1zM72.9 137.8h1v1h-1zM57.1 143.4h1v1h-1zM65.7 136.2h1v1h-1zM61.9 134.7h1v1h-1zM67.6 137.9h1v1h-1zM58.8 146.7h1v1h-1zM65.1 138.2h1v1h-1zM58.2 148.5h1v1h-1zM68.8 141.5h1v1h-1zM59.4 143.2h1v1h-1zM60.4 141.6h1v1h-1zM56.0 136.6h1v1h-1zM61.8 140.1h1v1h-1zM54.7 135.9h1v1h-1zM65.9 133.4h1v1h-1zM68.7 147.7h1v1h-1zM75.3 145.7h1v1h-1zM56.9 142.5h1v1h-1zM62.2 136.8h1v1h-1zM69.8 137.6h1v1h-1zM66.0 139.5h1v1h-1zM54.7 150.0h1v1h-1zM69.6 141.4h1v1h-1zM58.2 150.1h1v1h-1zM58.0 151.1h1v1h-1zM55.4 138.8h1v1h-1zM69.0 137.0h1v1h-1zM74.1 144.9h1v1h-1zM60.2 139.1h1v1h-1zM63.9 134.9h1v1h-1zM69.2 142.2h1v1h-1zM66.2 133.8h1v1h-1zM61.9 140.7h1v1h-1zM63.6 144.8h1v1h-1zM53.7 144.6h1v1h-1zM72.6 135.2h1v1h-1zM59.9 146.0h1v1h-1zM61.9 135.2h1v1h-1zM59.3 145.5h1v1h-1zM57.3 133.4h1v1h-1zM58.4 143.8h1v1h-1zM63.3 136.0h1v1h-1zM61.8 136.8h1v1h-1zM58.6 138.4h1v1h-1zM65.9 149.7h1v1h-1zM63.9 138.6h1v1h-1zM63.4 133.5h1v1h-1zM65.6 130.5h1v1h-1zM53.3 134.2h1v1h-1zM65.1 141.3h1v1h-1zM68.8 145.1h1v1h-1zM63.6 138.5h1v1h-1zM54.0 146.4h1v1h-1zM68.6 138.2h1v1h-1zM70.7 140.0h1v1h-1zM61.6 143.7h1v1h-1zM61.6 138.8h1v1h-1zM59.6 140.0h1v1h-1zM64.9 142.9h1v1h-1zM73.0 134.0h1v1h-1zM63.6 144.1h1v1h-1zM64.1 139.3h1v1h-1zM57.9 138.3h1v1h-1zM62.1 144.2h1v1h-1zM56.3 140.4h1v1h-1zM61.0 144.8h1v1h-1zM64.2 135.3h1v1h-1zM70.6 144.2h1v1h-1zM64.8 144.0h1v1h-1zM65.9 139.1h1v1h-1zM55.3 145.8h1v1h-1zM61.3 131.2h1v1h-1zM66.4 142.3h1v1h-1zM68.6 139.2h1v1h-1zM67.3 141.2h1v1h-1zM68.6 143.9h1v1h-1zM63.0 144.6h1v1h-1zM74.0 138.0h1v1h-1zM69.8 145.6h1v1h-1zM67.7 143.5h1v1h-1zM68.3 137.9h1v1h-1zM62.0 142.3h1v1h-1zM62.4 132.0h1v1h-1zM60.2 136.0h1v1h-1zM70.8 136.2h1v1h-1zM63.3 139.5h1v1h-1zM68.2 143.9h1v1h-1zM60.9 145.1h1v1h-1zM68.0 146.4h1v1h-1zM71.7 133.0h1v1h-1zM64.6 140.3h1v1h-1zM62.9 137.2h1v1h-1zM62.5 146.1h1v1h-1zM61.0 139.0h1v1h-1zM64.4 139.5h1v1h-1zM63.5 140.6h1v1h-1zM62.4 135.7h1v1h-1zM67.3 139.9h1v1h-1zM66.3 132.3h1v1h-1zM61.5 134.5h1v1h-1zM65.3 140.5h1v1h-1zM60.8 138.1h1v1h-1zM68.0 127.9h1v1h-1zM63.7 138.9h1v1h-1zM53.5 136.9h1v1h-1zM75.9 144.7h1v1h-1zM65.8 148.3h1v1h-1zM66.5 138.9h1v1h-1zM71.7 134.3h1v1h-1zM57.4 138.6h1v1h-1zM67.4 143.0h1v1h-1zM67.5 140.0h1v1h-1zM60.9 140.9h1v1h-1zM70.6 136.1h1v1h-1zM73.8 143.0h1v1h-1zM70.7 140.4h1v1h-1zM68.8 142.5h1v1h-1zM60.3 142.3h1v1h-1zM66.6 146.0h1v1h-1zM63.3 149.2h1v1h-1zM62.8 144.9h1v1h-1zM56.4 132.6h1v1h-1zM56.6 141.4h1v1h-1zM54.8 127.7h1v1h-1zM61.9 136.0h1v1h-1zM65.0 138.9h1v1h-1zM63.5 135.6h1v1h-1zM68.7 143.0h1v1h-1zM128.5 135.9h1v1h-1zM119.8 136.8h1v1h-1zM126.6 133.5h1v1h-1zM107.9 134.3h1v1h-1zM120.6 127.1h1v1h-1zM128.4 137.3h1v1h-1zM119.8 128.2h1v1h-1zM113.3 136.7h1v1h-1zM126.2 139.3h1v1h-1zM106.9 123.3h1v1h-1zM112.4 132.5h1v1h-1zM118.2 135.2h1v1h-1zM132.5 134.7h1v1h-1zM130.2 140.1h1v1h-1zM139.9 125.7h1v1h-1zM124.7 133.7h1v1h-1zM123.9 135.8h1v1h-1zM117.3 137.9h1v1h-1zM123.5 134.9h1v1h-1zM137.2 129.4h1v1h-1zM130.1 140.3h1v1h-1zM124.3 139.5h1v1h-1zM118.8 131.6h1v1h-1zM110.9 133.2h1v1h-1zM113.7 138.2h1v1h-1zM108.7 131.5h1v1h-1zM130.0 137.5h1v1h-1zM129.7 138.6h1v1h-1zM113.9 137.0h1v1h-1zM114.4 134.5h1v1h-1zM118.1 137.9h1v1h-1zM135.8 132.9h1v1h-1zM121.8 139.8h1v1h-1zM215.1 141.3h1v1h-1zM225.7 141.6h1v1h-1zM225.7 148.4h1v1h-1zM238.9 136.7h1v1h-1zM228.8 135.0h1v1h-1zM229.2 130.0h1v1h-1zM231.4 134.0h1v1h-1zM221.7 128.5h1v1h-1zM221.1 130.2h1v1h-1zM219.9 136.0h1v1h-1zM230.1 130.8h1v1h-1zM219.4 129.0h1v1h-1zM232.6 146.6h1v1h-1zM228.1 139.2h1v1h-1zM220.2 130.2h1v1h-1zM221.7 137.4h1v1h-1zM225.7 137.3h1v1h-1zM220.8 145.3h1v1h-1zM216.5 133.4h1v1h-1zM223.5 137.6h1v1h-1zM229.4 136.7h1v1h-1zM223.4 133.1h1v1h-1zM218.5 134.6h1v1h-1zM217.3 131.7h1v1h-1zM225.6 130.0h1v1h-1zM220.1 147.3h1v1h-1zM232.8 128.5h1v1h-1zM227.5 140.7h1v1h-1zM229.2 136.0h1v1h-1zM217.1 134.9h1v1h-1zM227.2 125.7h1v1h-1zM223.9 136.6h1v1h-1zM233.0 132.4h1v1h-1zM231.3 125.8h1v1h-1zM226.0 124.4h1v1h-1zM219.6 137.5h1v1h-1zM223.6 132.4h1v1h-1zM224.1 134.3h1v1h-1zM227.6 128.5h1v1h-1zM218.1 125.0h1v1h-1zM234.9 135.6h1v1h-1zM234.5 134.6h1v1h-1zM225.4 131.7h1v1h-1zM218.0 128.6h1v1h-1zM224.6 131.3h1v1h-1zM220.9 136.8h1v1h-1zM220.2 140.0h1v1h-1zM227.5 132.9h1v1h-1zM231.3 133.5h1v1h-1zM229.0 126.8h1v1h-1zM216.4 134.8h1v1h-1zM223.6 137.7h1v1h-1zM223.5 125.7h1v1h-1zM224.7 128.9h1v1h-1zM221.6 137.9h1v1h-1zM226.7 131.6h1v1h-1zM219.9 135.4h1v1h-1zM228.4 139.8h1v1h-1zM234.0 142.5h1v1h-1zM226.4 136.8h1v1h-1zM228.1 134.1h1v1h-1zM226.1 135.8h1v1h-1zM226.7 134.9h1v1h-1zM229.3 133.2h1v1h-1zM224.9 139.6h1v1h-1zM223.6 128.9h1v1h-1zM219.4 138.0h1v1h-1zM219.7 130.4h1v1h-1zM228.2 129.7h1v1h-1zM222.8 131.9h1v1h-1zM218.2 132.0h1v1h-1zM226.2 139.7h1v1h-1zM229.3 136.6h1v1h-1zM224.1 133.0h1v1h-1zM214.8 131.7h1v1h-1zM218.9 144.8h1v1h-1zM216.3 132.6h1v1h-1zM224.8 127.8h1v1h-1zM224.4 132.4h1v1h-1zM222.7 132.1h1v1h-1zM226.4 130.0h1v1h-1zM233.8 139.9h1v1h-1zM230.3 132.1h1v1h-1zM232.0 126.9h1v1h-1zM220.0 140.2h1v1h-1zM219.0 127.6h1v1h-1zM222.5 126.2h1v1h-1zM235.4 141.6h1v1h-1zM226.3 128.2h1v1h-1zM236.1 133.6h1v1h-1zM220.7 130.1h1v1h-1zM230.7 129.6h1v1h-1zM222.9 144.2h1v1h-1zM217.6 130.6h1v1h-1zM219.5 139.5h1v1h-1zM221.0 132.8h1v1h-1zM218.1 130.9h1v1h-1zM223.0 130.2h1v1h-1zM217.0 126.7h1v1h-1zM216.1 126.5h1v1h-1zM218.5 133.2h1v1h-1zM225.9 142.2h1v1h-1zM224.9 131.9h1v1h-1zM230.9 138.4h1v1h-1zM214.6 133.3h1v1h-1zM230.8 132.3h1v1h-1zM222.5 139.3h1v1h-1zM221.8 140.0h1v1h-1zM227.4 130.6h1v1h-1zM231.1 125.9h1v1h-1zM229.2 145.0h1v1h-1zM226.4 133.8h1v1h-1zM228.6 136.9h1v1h-1zM222.3 132.4h1v1h-1zM234.4 129.5h1v1h-1zM231.8 139.4h1v1h-1zM226.8 132.5h1v1h-1zM231.3 137.6h1v1h-1zM225.9 133.8h1v1h-1zM235.4 133.3h1v1h-1zM225.3 132.7h1v1h-1zM225.6 125.5h1v1h-1zM225.7 139.0h1v1h-1zM230.8 142.4h1v1h-1zM223.8 139.8h1v1h-1zM229.4 127.1h1v1h-1zM219.3 140.7h1v1h-1zM225.3 137.6h1v1h-1zM218.8 131.5h1v1h-1zM224.2 124.6h1v1h-1zM226.5 133.9h1v1h-1zM232.0 128.2h1v1h-1zM227.5 132.5h1v1h-1zM220.8 128.9h1v1h-1zM220.7 137.2h1v1h-1zM231.8 129.9h1v1h-1zM226.2 128.7h1v1h-1zM225.1 130.0h1v1h-1zM237.8 125.9h1v1h-1zM222.7 129.6h1v1h-1zM230.9 137.4h1v1h-1zM229.4 128.1h1v1h-1zM228.5 130.8h1v1h-1zM233.6 129.1h1v1h-1zM219.8 138.7h1v1h-1zM223.9 140.3h1v1h-1zM229.5 130.1h1v1h-1zM233.1 132.6h1v1h-1zM228.4 136.3h1v1h-1zM220.4 139.5h1v1h-1zM224.8 135.8h1v1h-1zM225.2 133.4h1v1h-1zM216.8 136.7h1v1h-1zM219.5 142.8h1v1h-1zM217.7 139.2h1v1h-1zM291.6 133.3h1v1h-1zM289.1 134.5h1v1h-1zM291.0 131.8h1v1h-1zM287.8 145.2h1v1h-1zM271.2 128.4h1v1h-1zM279.1 132.7h1v1h-1zM297.3 130.2h1v1h-1zM258.0 139.4h1v1h-1zM296.7 136.8h1v1h-1zM286.6 129.3h1v1h-1zM283.6 134.7h1v1h-1zM290.4 134.2h1v1h-1zM280.9 131.0h1v1h-1zM289.0 140.2h1v1h-1zM276.2 133.2h1v1h-1zM277.6 138.1h1v1h-1zM285.5 131.4h1v1h-1zM298.2 132.6h1v1h-1zM285.9 144.2h1v1h-1zM291.4 131.5h1v1h-1zM279.8 130.4h1v1h-1zM282.4 134.0h1v1h-1zM382.2 137.7h1v1h-1zM396.8 138.1h1v1h-1zM390.2 140.3h1v1h-1zM381.6 125.9h1v1h-1zM397.7 130.2h1v1h-1zM389.5 142.5h1v1h-1zM379.4 144.7h1v1h-1zM385.0 138.5h1v1h-1zM381.2 147.7h1v1h-1zM385.9 137.9h1v1h-1zM387.7 133.2h1v1h-1zM383.0 141.1h1v1h-1zM392.0 141.6h1v1h-1zM380.9 152.1h1v1h-1zM388.7 145.9h1v1h-1zM392.0 135.4h1v1h-1zM393.9 145.6h1v1h-1zM387.6 142.5h1v1h-1zM388.6 126.1h1v1h-1zM393.4 139.9h1v1h-1zM388.8 136.1h1v1h-1zM391.3 147.1h1v1h-1zM382.0 142.7h1v1h-1zM388.6 139.7h1v1h-1zM379.1 147.2h1v1h-1zM399.6 142.8h1v1h-1zM390.4 134.3h1v1h-1zM385.5 138.6h1v1h-1zM383.3 140.3h1v1h-1zM377.0 142.1h1v1h-1zM382.0 144.6h1v1h-1zM384.2 137.6h1v1h-1zM384.6 137.2h1v1h-1zM385.6 137.8h1v1h-1zM386.7 129.7h1v1h-1zM381.7 139.7h1v1h-1zM382.9 151.6h1v1h-1zM395.0 134.0h1v1h-1zM386.2 137.8h1v1h-1zM395.3 128.1h1v1h-1zM399.6 144.7h1v1h-1zM394.6 144.7h1v1h-1zM383.9 142.1h1v1h-1zM381.1 140.1h1v1h-1zM385.7 134.9h1v1h-1zM387.1 140.4h1v1h-1zM387.6 139.4h1v1h-1zM382.0 138.2h1v1h-1zM379.3 135.2h1v1h-1zM391.0 133.5h1v1h-1zM386.4 149.6h1v1h-1zM380.4 135.3h1v1h-1zM378.9 140.0h1v1h-1zM388.8 129.0h1v1h-1zM386.9 132.4h1v1h-1zM388.3 137.3h1v1h-1zM385.3 138.1h1v1h-1zM379.8 148.7h1v1h-1zM386.7 132.7h1v1h-1zM377.7 145.5h1v1h-1zM387.1 132.0h1v1h-1zM384.7 129.5h1v1h-1zM393.7 130.5h1v1h-1zM382.8 146.8h1v1h-1zM384.4 143.4h1v1h-1zM381.2 125.9h1v1h-1zM379.8 135.0h1v1h-1zM388.7 134.5h1v1h-1zM392.5 143.8h1v1h-1zM381.9 147.8h1v1h-1zM393.3 135.6h1v1h-1zM382.4 140.7h1v1h-1zM377.1 136.3h1v1h-1zM389.3 145.9h1v1h-1zM386.1 139.1h1v1h-1zM377.2 144.0h1v1h-1zM380.2 138.9h1v1h-1zM379.7 142.7h1v1h-1zM395.6 151.9h1v1h-1zM382.6 139.6h1v1h-1zM387.2 149.1h1v1h-1zM384.0 144.1h1v1h-1zM386.9 144.3h1v1h-1zM388.2 144.7h1v1h-1zM378.9 137.1h1v1h-1zM387.5 134.8h1v1h-1zM393.3 133.7h1v1h-1zM388.9 142.6h1v1h-1zM387.5 131.7h1v1h-1zM392.8 147.3h1v1h-1zM386.5 139.4h1v1h-1zM387.0 139.9h1v1h-1zM381.5 136.8h1v1h-1zM392.1 138.4h1v1h-1zM381.0 143.2h1v1h-1zM383.5 133.5h1v1h-1zM390.9 138.6h1v1h-1zM383.4 125.9h1v1h-1zM389.4 134.3h1v1h-1zM388.4 136.3h1v1h-1zM384.2 140.2h1v1h-1zM384.0 133.1h1v1h-1zM385.9 145.9h1v1h-1zM391.3 135.4h1v1h-1zM385.2 147.8h1v1h-1zM385.5 142.0h1v1h-1zM400.4 141.0h1v1h-1zM384.8 131.3h1v1h-1zM389.4 149.2h1v1h-1zM381.7 139.3h1v1h-1zM394.1 134.4h1v1h-1zM382.3 141.9h1v1h-1zM377.5 136.7h1v1h-1zM385.9 149.9h1v1h-1zM379.4 138.3h1v1h-1zM392.2 134.2h1v1h-1zM389.6 144.5h1v1h-1zM392.4 134.6h1v1h-1zM376.3 142.9h1v1h-1zM378.0 128.3h1v1h-1zM389.5 146.9h1v1h-1zM382.0 138.0h1v1h-1zM382.6 139.5h1v1h-1zM386.4 137.5h1v1h-1zM385.6 126.0h1v1h-1zM388.8 147.9h1v1h-1zM384.6 133.7h1v1h-1zM384.8 135.8h1v1h-1zM380.4 134.7h1v1h-1zM390.8 139.7h1v1h-1zM393.9 135.9h1v1h-1zM386.9 136.5h1v1h-1zM390.0 143.3h1v1h-1zM380.0 136.1h1v1h-1zM379.2 136.7h1v1h-1zM393.0 135.1h1v1h-1zM380.2 137.7h1v1h-1zM394.2 135.2h1v1h-1zM396.0 131.6h1v1h-1zM377.9 128.2h1v1h-1zM379.9 145.4h1v1h-1zM388.8 143.7h1v1h-1zM399.0 133.6h1v1h-1zM390.8 139.0h1v1h-1zM378.5 137.5h1v1h-1zM389.5 141.4h1v1h-1zM379.5 136.1h1v1h-1zM388.9 140.0h1v1h-1zM384.9 137.7h1v1h-1zM390.8 141.9h1v1h-1zM382.8 133.9h1v1h-1zM447.2 131.9h1v1h-1zM463.4 134.5h1v1h-1zM459.5 139.6h1v1h-1zM466.7 136.1h1v1h-1zM456.4 146.4h1v1h-1zM462.1 136.1h1v1h-1zM459.1 137.8h1v1h-1zM468.7 135.2h1v1h-1zM457.4 134.7h1v1h-1zM467.9 128.1h1v1h-1zM462.3 143.6h1v1h-1zM464.0 130.4h1v1h-1zM472.1 133.6h1v1h-1zM469.0 143.0h1v1h-1zM467.1 131.7h1v1h-1zM471.0 146.8h1v1h-1zM459.0 140.0h1v1h-1zM451.9 142.8h1v1h-1zM455.4 140.3h1v1h-1zM462.1 131.0h1v1h-1zM459.8 142.8h1v1h-1zM465.3 128.4h1v1h-1zM449.9 135.1h1v1h-1zM469.8 134.3h1v1h-1zM457.8 134.5h1v1h-1zM79.6 289.7h1v1h-1zM67.3 294.5h1v1h-1zM61.1 290.2h1v1h-1zM61.0 296.0h1v1h-1zM74.1 300.5h1v1h-1zM66.2 288.8h1v1h-1zM56.5 296.5h1v1h-1zM64.2 293.1h1v1h-1zM71.4 299.7h1v1h-1zM72.7 298.1h1v1h-1zM64.6 296.0h1v1h-1zM67.3 295.4h1v1h-1zM69.4 295.4h1v1h-1zM63.7 288.5h1v1h-1zM68.9 295.4h1v1h-1zM62.3 295.3h1v1h-1zM72.4 287.9h1v1h-1zM61.2 294.0h1v1h-1zM56.0 297.9h1v1h-1zM54.8 283.6h1v1h-1zM63.3 288.9h1v1h-1zM64.3 289.6h1v1h-1zM66.0 300.8h1v1h-1zM68.2 289.5h1v1h-1zM66.0 298.1h1v1h-1zM72.9 290.6h1v1h-1zM72.0 291.4h1v1h-1zM67.6 287.3h1v1h-1zM77.9 289.3h1v1h-1zM73.6 296.6h1v1h-1zM66.4 298.4h1v1h-1zM58.2 298.2h1v1h-1zM69.2 303.8h1v1h-1zM71.6 294.0h1v1h-1zM73.6 289.7h1v1h-1zM73.0 305.8h1v1h-1zM65.5 296.8h1v1h-1zM54.9 299.6h1v1h-1zM57.9 289.9h1v1h-1zM67.2 294.3h1v1h-1zM60.1 292.4h1v1h-1zM56.4 292.0h1v1h-1zM65.2 298.1h1v1h-1zM68.0 285.4h1v1h-1zM72.9 285.9h1v1h-1zM72.0 301.3h1v1h-1zM61.5 300.3h1v1h-1zM69.6 298.8h1v1h-1zM60.1 299.9h1v1h-1zM66.7 295.4h1v1h-1zM79.2 295.3h1v1h-1zM71.4 283.7h1v1h-1zM74.9 307.2h1v1h-1zM62.3 289.9h1v1h-1zM61.5 294.8h1v1h-1zM68.8 291.8h1v1h-1zM59.8 299.1h1v1h-1zM75.1 287.2h1v1h-1zM66.0 299.8h1v1h-1zM73.9 292.8h1v1h-1zM56.9 293.4h1v1h-1zM74.4 290.4h1v1h-1zM69.3 291.0h1v1h-1zM69.8 303.7h1v1h-1zM63.9 296.3h1v1h-1zM65.3 296.3h1v1h-1zM58.0 298.6h1v1h-1zM70.3 295.5h1v1h-1zM66.7 287.1h1v1h-1zM73.7 297.6h1v1h-1zM62.1 292.9h1v1h-1zM65.3 288.3h1v1h-1zM64.7 298.1h1v1h-1zM64.1 293.7h1v1h-1zM56.1 293.4h1v1h-1zM60.4 300.8h1v1h-1zM65.5 291.5h1v1h-1zM68.6 297.9h1v1h-1zM74.1 292.1h1v1h-1zM70.3 289.6h1v1h-1zM74.6 291.1h1v1h-1zM69.0 289.8h1v1h-1zM66.1 290.3h1v1h-1zM63.7 288.9h1v1h-1zM69.8 297.4h1v1h-1zM69.8 288.9h1v1h-1zM67.5 299.1h1v1h-1zM72.1 286.2h1v1h-1zM62.7 290.5h1v1h-1zM65.1 292.5h1v1h-1zM65.3 288.5h1v1h-1zM67.0 284.7h1v1h-1zM73.1 307.8h1v1h-1zM63.2 293.5h1v1h-1zM68.0 299.8h1v1h-1zM65.2 294.9h1v1h-1zM68.7 283.8h1v1h-1zM73.5 298.4h1v1h-1zM59.3 304.6h1v1h-1zM69.8 303.7h1v1h-1zM58.3 299.2h1v1h-1zM67.0 295.1h1v1h-1zM67.3 287.7h1v1h-1zM71.9 295.8h1v1h-1zM77.1 295.2h1v1h-1zM73.8 298.3h1v1h-1zM70.0 290.3h1v1h-1zM59.6 286.7h1v1h-1zM63.8 295.4h1v1h-1zM81.0 290.8h1v1h-1zM71.5 293.7h1v1h-1zM75.8 290.7h1v1h-1zM64.3 296.3h1v1h-1zM65.4 298.2h1v1h-1zM72.0 286.8h1v1h-1zM69.1 293.3h1v1h-1zM72.8 295.6h1v1h-1zM79.1 294.8h1v1h-1zM68.0 287.6h1v1h-1zM69.8 293.0h1v1h-1zM73.1 294.2h1v1h-1zM61.6 295.9h1v1h-1zM64.4 293.2h1v1h-1zM65.7 292.6h1v1h-1zM69.8 291.4h1v1h-1zM71.2 295.4h1v1h-1zM61.8 296.1h1v1h-1zM67.6 286.6h1v1h-1zM63.4 289.9h1v1h-1zM75.8 294.8h1v1h-1zM81.0 293.2h1v1h-1zM67.7 295.3h1v1h-1zM68.1 295.4h1v1h-1zM68.6 292.5h1v1h-1zM76.7 298.5h1v1h-1zM71.9 293.7h1v1h-1zM71.4 288.0h1v1h-1zM63.1 295.1h1v1h-1zM58.7 305.1h1v1h-1zM60.7 292.4h1v1h-1zM74.4 286.7h1v1h-1zM68.3 286.8h1v1h-1zM60.8 295.0h1v1h-1zM69.2 293.2h1v1h-1zM75.9 292.7h1v1h-1zM64.3 294.5h1v1h-1zM64.6 288.4h1v1h-1zM78.6 287.0h1v1h-1zM66.9 299.1h1v1h-1zM56.6 290.3h1v1h-1zM68.0 298.5h1v1h-1zM66.3 296.6h1v1h-1zM57.1 292.8h1v1h-1zM62.5 293.2h1v1h-1zM71.8 293.8h1v1h-1zM72.8 290.6h1v1h-1zM64.7 292.8h1v1h-1zM67.2 301.3h1v1h-1zM67.3 288.5h1v1h-1zM75.7 304.6h1v1h-1zM68.3 293.2h1v1h-1zM75.2 306.1h1v1h-1zM59.4 301.4h1v1h-1zM68.3 292.8h1v1h-1zM68.5 296.2h1v1h-1zM67.9 287.5h1v1h-1zM72.5 284.3h1v1h-1zM61.0 284.5h1v1h-1zM67.7 290.2h1v1h-1zM124.8 289.6h1v1h-1zM131.9 291.3h1v1h-1zM126.6 293.5h1v1h-1zM105.1 286.8h1v1h-1zM119.3 294.0h1v1h-1zM125.1 293.6h1v1h-1zM130.5 284.7h1v1h-1zM121.1 281.6h1v1h-1zM122.1 294.0h1v1h-1zM132.0 289.3h1v1h-1zM135.0 290.8h1v1h-1zM139.4 297.2h1v1h-1zM110.6 286.5h1v1h-1zM137.9 286.0h1v1h-1zM108.3 296.2h1v1h-1zM147.8 291.6h1v1h-1zM112.1 290.1h1v1h-1zM129.3 302.2h1v1h-1zM138.1 290.6h1v1h-1zM126.0 290.8h1v1h-1zM121.4 287.6h1v1h-1zM127.6 289.8h1v1h-1zM126.8 285.5h1v1h-1zM130.6 289.9h1v1h-1zM107.6 293.2h1v1h-1zM132.5 290.0h1v1h-1zM119.9 294.1h1v1h-1zM106.6 288.1h1v1h-1zM128.5 289.1h1v1h-1zM135.6 287.7h1v1h-1zM122.3 288.4h1v1h-1zM123.7 295.0h1v1h-1zM224.4 302.2h1v1h-1zM236.8 291.3h1v1h-1zM235.4 286.1h1v1h-1zM221.9 289.1h1v1h-1zM222.4 297.3h1v1h-1zM242.9 289.7h1v1h-1zM233.4 300.8h1v1h-1zM223.6 289.2h1v1h-1zM229.5 290.6h1v1h-1zM240.9 294.5h1v1h-1zM227.3 287.6h1v1h-1zM226.8 288.4h1v1h-1zM231.1 295.8h1v1h-1zM239.8 282.5h1v1h-1zM242.4 301.1h1v1h-1zM230.5 297.3h1v1h-1zM228.7 299.4h1v1h-1zM241.3 302.8h1v1h-1zM229.8 307.1h1v1h-1zM226.4 290.6h1v1h-1zM232.6 291.2h1v1h-1zM229.9 289.0h1v1h-1zM235.8 296.8h1v1h-1zM230.2 291.3h1v1h-1zM235.0 279.3h1v1h-1zM224.6 290.6h1v1h-1zM221.8 298.7h1v1h-1zM234.2 285.5h1v1h-1zM227.7 297.1h1v1h-1zM236.3 295.3h1v1h-1zM233.2 298.1h1v1h-1zM229.0 292.9h1v1h-1zM232.3 287.1h1v1h-1zM224.1 290.0h1v1h-1zM227.5 299.6h1v1h-1zM237.3 303.4h1v1h-1zM228.2 296.2h1v1h-1zM226.8 296.2h1v1h-1zM227.8 303.4h1v1h-1zM233.5 289.0h1v1h-1zM228.3 287.0h1v1h-1zM230.6 298.2h1v1h-1zM229.4 298.1h1v1h-1zM227.9 301.0h1v1h-1zM230.7 291.5h1v1h-1zM238.2 298.9h1v1h-1zM226.6 292.0h1v1h-1zM218.6 291.7h1v1h-1zM233.5 295.8h1v1h-1zM230.5 295.3h1v1h-1zM230.7 299.2h1v1h-1zM233.9 305.3h1v1h-1zM237.8 289.3h1v1h-1zM227.3 289.1h1v1h-1zM234.9 302.5h1v1h-1zM217.5 292.1h1v1h-1zM218.7 292.6h1v1h-1zM231.7 291.1h1v1h-1zM227.7 286.0h1v1h-1zM220.9 291.8h1v1h-1zM238.8 294.8h1v1h-1zM238.2 294.1h1v1h-1zM228.3 291.4h1v1h-1zM226.3 292.9h1v1h-1zM243.7 297.2h1v1h-1zM234.0 296.5h1v1h-1zM232.4 287.3h1v1h-1zM240.0 301.8h1v1h-1zM224.6 291.1h1v1h-1zM235.2 294.1h1v1h-1zM225.2 295.6h1v1h-1zM223.8 293.8h1v1h-1zM229.1 287.6h1v1h-1zM229.1 291.5h1v1h-1zM227.0 294.1h1v1h-1zM244.6 291.8h1v1h-1zM235.4 295.1h1v1h-1zM237.1 293.4h1v1h-1zM230.1 295.6h1v1h-1zM224.6 289.3h1v1h-1zM237.8 282.8h1v1h-1zM223.1 293.6h1v1h-1zM224.2 282.8h1v1h-1zM227.1 289.3h1v1h-1zM225.3 298.1h1v1h-1zM242.7 292.7h1v1h-1zM233.1 286.6h1v1h-1zM227.8 299.5h1v1h-1zM235.6 294.9h1v1h-1zM228.1 301.3h1v1h-1zM230.7 305.1h1v1h-1zM233.2 296.4h1v1h-1zM238.8 290.1h1v1h-1zM220.6 300.6h1v1h-1zM237.0 286.9h1v1h-1zM216.4 303.9h1v1h-1zM235.8 289.3h1v1h-1zM229.2 307.7h1v1h-1zM232.7 294.0h1v1h-1zM230.9 293.8h1v1h-1zM231.7 300.0h1v1h-1zM228.9 286.2h1v1h-1zM236.9 303.9h1v1h-1zM233.3 296.9h1v1h-1zM232.1 287.9h1v1h-1zM228.4 293.5h1v1h-1zM231.8 289.4h1v1h-1zM227.4 285.3h1v1h-1zM220.5 293.5h1v1h-1zM228.4 298.8h1v1h-1zM234.3 298.1h1v1h-1zM235.1 288.5h1v1h-1zM235.9 292.7h1v1h-1zM228.2 295.7h1v1h-1zM223.9 298.4h1v1h-1zM230.3 290.7h1v1h-1zM225.2 296.8h1v1h-1zM232.3 290.6h1v1h-1zM228.2 297.8h1v1h-1zM222.1 293.6h1v1h-1zM229.4 299.8h1v1h-1zM235.5 304.4h1v1h-1zM244.2 290.8h1v1h-1zM227.4 293.1h1v1h-1zM234.5 284.6h1v1h-1zM231.7 292.4h1v1h-1zM232.2 293.7h1v1h-1zM232.1 288.9h1v1h-1zM224.3 289.0h1v1h-1zM229.4 294.0h1v1h-1zM228.0 290.9h1v1h-1zM229.6 288.2h1v1h-1zM233.0 291.9h1v1h-1zM222.7 285.6h1v1h-1zM238.4 288.8h1v1h-1zM240.0 283.1h1v1h-1zM234.4 294.1h1v1h-1zM236.1 295.8h1v1h-1zM223.9 291.5h1v1h-1zM228.7 294.7h1v1h-1zM306.9 301.4h1v1h-1zM309.9 279.6h1v1h-1zM303.1 294.6h1v1h-1zM299.9 287.0h1v1h-1zM287.1 291.6h1v1h-1zM304.0 283.0h1v1h-1zM302.5 296.5h1v1h-1zM304.1 287.3h1v1h-1zM296.4 289.7h1v1h-1zM287.2 296.1h1v1h-1zM295.4 297.8h1v1h-1zM314.5 290.1h1v1h-1zM306.8 285.9h1v1h-1zM307.4 284.0h1v1h-1zM314.8 292.7h1v1h-1zM302.9 293.0h1v1h-1zM282.5 295.3h1v1h-1zM292.6 286.3h1v1h-1zM312.5 301.2h1v1h-1zM297.7 296.2h1v1h-1zM302.7 290.3h1v1h-1zM316.8 295.8h1v1h-1zM295.5 296.9h1v1h-1zM302.2 294.8h1v1h-1zM300.5 290.7h1v1h-1zM294.6 288.7h1v1h-1zM305.6 299.4h1v1h-1zM292.0 288.4h1v1h-1zM295.6 295.6h1v1h-1zM311.9 290.4h1v1h-1zM307.5 286.1h1v1h-1zM301.3 294.0h1v1h-1zM299.5 284.5h1v1h-1zM296.5 281.9h1v1h-1zM312.6 287.9h1v1h-1zM310.9 285.6h1v1h-1zM402.7 291.9h1v1h-1zM404.2 305.4h1v1h-1zM395.5 295.4h1v1h-1zM387.9 289.4h1v1h-1zM384.5 301.7h1v1h-1zM395.5 291.9h1v1h-1zM389.8 299.0h1v1h-1zM389.4 295.7h1v1h-1zM391.2 286.3h1v1h-1zM390.4 299.9h1v1h-1zM394.9 289.1h1v1h-1zM397.0 288.1h1v1h-1zM399.5 294.5h1v1h-1zM393.8 293.4h1v1h-1zM396.5 297.0h1v1h-1zM387.8 287.1h1v1h-1zM396.3 290.6h1v1h-1zM393.9 294.2h1v1h-1zM393.9 305.7h1v1h-1zM401.7 295.4h1v1h-1zM394.3 292.8h1v1h-1zM395.7 289.5h1v1h-1zM389.9 287.3h1v1h-1zM390.6 293.3h1v1h-1zM388.1 300.2h1v1h-1zM389.2 294.5h1v1h-1zM394.9 289.1h1v1h-1zM379.4 292.1h1v1h-1zM388.5 300.5h1v1h-1zM388.4 297.8h1v1h-1zM395.0 290.6h1v1h-1zM400.0 286.5h1v1h-1zM378.2 300.6h1v1h-1zM386.9 299.9h1v1h-1zM388.7 297.2h1v1h-1zM388.5 298.3h1v1h-1zM395.9 306.8h1v1h-1zM378.5 294.3h1v1h-1zM396.4 291.8h1v1h-1zM386.3 301.8h1v1h-1zM391.2 301.7h1v1h-1zM386.8 300.4h1v1h-1zM403.4 298.4h1v1h-1zM393.0 295.6h1v1h-1zM384.6 288.5h1v1h-1zM392.1 290.9h1v1h-1zM398.0 297.6h1v1h-1zM392.3 296.0h1v1h-1zM394.8 294.7h1v1h-1zM396.3 294.8h1v1h-1zM392.8 285.4h1v1h-1zM392.2 297.1h1v1h-1zM383.5 298.1h1v1h-1zM400.9 292.8h1v1h-1zM387.4 295.5h1v1h-1zM398.5 287.1h1v1h-1zM398.1 307.2h1v1h-1zM399.7 295.1h1v1h-1zM393.5 299.8h1v1h-1zM392.4 296.9h1v1h-1zM384.9 285.9h1v1h-1zM386.0 304.3h1v1h-1zM381.6 290.9h1v1h-1zM393.9 282.4h1v1h-1zM378.9 300.6h1v1h-1zM384.6 299.8h1v1h-1zM390.2 304.4h1v1h-1zM389.9 296.6h1v1h-1zM387.2 295.4h1v1h-1zM396.0 289.3h1v1h-1zM397.0 293.5h1v1h-1zM396.6 295.9h1v1h-1zM390.7 287.0h1v1h-1zM381.5 296.7h1v1h-1zM381.3 302.5h1v1h-1zM388.7 297.4h1v1h-1zM391.3 302.0h1v1h-1zM394.1 295.4h1v1h-1zM391.9 294.6h1v1h-1zM402.6 294.1h1v1h-1zM382.5 288.1h1v1h-1zM400.0 296.8h1v1h-1zM382.7 299.6h1v1h-1zM390.0 297.3h1v1h-1zM379.5 296.8h1v1h-1zM391.0 287.3h1v1h-1zM389.4 300.9h1v1h-1zM384.2 291.2h1v1h-1zM388.6 284.6h1v1h-1zM387.8 296.5h1v1h-1zM390.7 289.1h1v1h-1zM388.4 290.3h1v1h-1zM399.9 286.8h1v1h-1zM399.1 285.8h1v1h-1zM397.3 299.5h1v1h-1zM395.4 297.4h1v1h-1zM381.4 286.6h1v1h-1zM387.2 290.6h1v1h-1zM392.9 298.5h1v1h-1zM395.8 305.7h1v1h-1zM393.1 290.6h1v1h-1zM387.4 290.8h1v1h-1zM392.1 288.9h1v1h-1zM389.2 296.5h1v1h-1zM385.6 302.3h1v1h-1zM391.2 289.0h1v1h-1zM396.5 299.2h1v1h-1zM386.3 295.5h1v1h-1zM399.2 296.3h1v1h-1zM385.0 301.8h1v1h-1zM388.1 296.0h1v1h-1zM385.8 283.8h1v1h-1zM397.0 293.4h1v1h-1zM388.4 293.7h1v1h-1zM393.2 293.0h1v1h-1zM396.1 295.4h1v1h-1zM382.5 290.9h1v1h-1zM388.5 299.3h1v1h-1zM386.1 288.9h1v1h-1zM388.1 301.7h1v1h-1zM388.7 292.5h1v1h-1zM386.4 298.5h1v1h-1zM432.3 290.8h1v1h-1zM440.5 291.1h1v1h-1zM445.7 297.3h1v1h-1zM459.2 292.9h1v1h-1zM456.3 289.4h1v1h-1zM432.1 297.0h1v1h-1zM440.4 286.4h1v1h-1zM451.5 294.4h1v1h-1zM455.2 298.2h1v1h-1zM443.8 291.2h1v1h-1zM455.1 287.8h1v1h-1zM469.0 301.7h1v1h-1zM444.3 295.3h1v1h-1zM449.7 290.7h1v1h-1zM452.1 296.0h1v1h-1zM447.5 301.9h1v1h-1zM446.1 289.6h1v1h-1zM431.0 292.7h1v1h-1zM458.4 296.4h1v1h-1zM450.4 293.4h1v1h-1zM446.0 296.3h1v1h-1zM460.9 289.2h1v1h-1zM471.0 294.0h1v1h-1zM426.6 294.1h1v1h-1zM439.6 288.1h1v1h-1zM445.1 287.3h1v1h-1zM445.6 295.2h1v1h-1zM443.3 291.8h1v1h-1zM435.0 295.3h1v1h-1zM449.0 293.5h1v1h-1zM461.6 290.5h1v1h-1zM456.7 299.0h1v1h-1zM454.4 297.2h1v1h-1zM472.6 290.5h1v1h-1zM456.3 294.7h1v1h-1z"/><path fill="#000" fill-opacity="0.8" d="M63.6 137.0h1v1h-1zM56.2 132.3h1v1h-1zM61.3 141.6h1v1h-1zM63.7 145.9h1v1h-1zM68.5 139.5h1v1h-1zM54.8 133.3h1v1h-1zM66.6 145.3h1v1h-1zM67.1 141.8h1v1h-1zM68.3 139.5h1v1h-1zM63.6 143.0h1v1h-1zM63.4 130.2h1v1h-1zM66.7 137.7h1v1h-1zM59.7 145.0h1v1h-1zM64.5 140.5h1v1h-1zM59.4 148.5h1v1h-1zM55.2 147.3h1v1h-1zM60.4 144.9h1v1h-1zM68.5 137.6h1v1h-1zM58.1 142.0h1v1h-1zM63.6 137.1h1v1h-1zM66.3 141.0h1v1h-1zM63.7 145.3h1v1h-1zM66.2 149.0h1v1h-1zM57.8 142.0h1v1h-1zM60.6 145.3h1v1h-1zM70.9 135.8h1v1h-1zM56.9 145.2h1v1h-1zM66.0 141.2h1v1h-1zM57.3 145.7h1v1h-1zM59.3 132.8h1v1h-1zM64.1 134.1h1v1h-1zM60.8 138.0h1v1h-1zM72.1 148.9h1v1h-1zM67.1 143.3h1v1h-1zM56.6 146.1h1v1h-1zM62.5 140.9h1v1h-1zM61.1 142.5h1v1h-1zM63.3 139.9h1v1h-1zM65.1 141.9h1v1h-1zM60.8 143.4h1v1h-1zM55.7 142.8h1v1h-1zM61.7 142.0h1v1h-1zM59.2 138.3h1v1h-1zM62.7 137.6h1v1h-1zM73.1 139.5h1v1h-1zM59.6 133.4h1v1h-1zM74.9 132.4h1v1h-1zM70.7 141.7h1v1h-1zM67.0 141.0h1v1h-1zM65.4 139.5h1v1h-1zM60.0 140.0h1v1h-1zM58.2 126.8h1v1h-1zM67.9 138.1h1v1h-1zM59.1 131.1h1v1h-1zM58.6 141.4h1v1h-1zM66.6 135.7h1v1h-1zM69.3 138.4h1v1h-1zM62.3 135.5h1v1h-1zM71.0 149.0h1v1h-1zM57.3 133.5h1v1h-1zM66.3 149.6h1v1h-1zM72.9 144.4h1v1h-1zM53.3 135.9h1v1h-1zM65.2 138.0h1v1h-1zM66.5 126.7h1v1h-1zM62.5 139.4h1v1h-1zM71.9 144.7h1v1h-1zM59.2 136.3h1v1h-1zM76.2 145.6h1v1h-1zM58.7 142.0h1v1h-1zM63.4 140.9h1v1h-1zM60.2 136.8h1v1h-1zM59.0 131.3h1v1h-1zM56.9 132.8h1v1h-1zM63.9 137.7h1v1h-1zM54.1 139.9h1v1h-1zM56.4 145.8h1v1h-1zM57.7 139.3h1v1h-1zM59.7 138.5h1v1h-1zM62.4 134.1h1v1h-1zM69.2 136.6h1v1h-1zM57.5 136.9h1v1h-1zM70.9 141.1h1v1h-1zM71.1 138.5h1v1h-1zM74.1 141.6h1v1h-1zM71.2 129.3h1v1h-1zM60.6 142.0h1v1h-1zM72.2 146.8h1v1h-1zM63.8 144.8h1v1h-1zM67.7 149.2h1v1h-1zM64.2 137.7h1v1h-1zM67.9 139.2h1v1h-1zM66.3 143.1h1v1h-1zM61.6 142.2h1v1h-1zM69.4 141.2h1v1h-1zM74.5 143.1h1v1h-1zM62.3 129.1h1v1h-1zM60.4 136.3h1v1h-1zM54.8 138.4h1v1h-1zM67.3 133.5h1v1h-1zM69.2 142.8h1v1h-1zM66.3 139.8h1v1h-1zM70.2 134.1h1v1h-1zM61.7 145.2h1v1h-1zM60.0 146.0h1v1h-1zM69.0 137.0h1v1h-1zM63.2 140.7h1v1h-1zM62.9 143.3h1v1h-1zM71.5 143.9h1v1h-1zM75.3 141.8h1v1h-1zM74.6 134.6h1v1h-1zM63.6 148.0h1v1h-1zM57.4 135.7h1v1h-1zM76.6 132.1h1v1h-1zM61.5 143.7h1v1h-1zM73.5 148.0h1v1h-1zM62.0 141.0h1v1h-1zM63.1 147.5h1v1h-1zM62.9 135.2h1v1h-1zM65.4 144.9h1v1h-1zM59.5 148.1h1v1h-1zM60.8 134.9h1v1h-1zM60.8 133.6h1v1h-1zM62.5 142.4h1v1h-1zM55.9 134.8h1v1h-1zM74.7 137.4h1v1h-1zM63.8 146.7h1v1h-1zM75.2 132.3h1v1h-1zM64.4 144.2h1v1h-1zM59.5 146.0h1v1h-1zM69.2 132.6h1v1h-1zM67.0 130.5h1v1h-1zM64.5 143.7h1v1h-1zM67.4 143.6h1v1h-1zM60.9 130.7h1v1h-1zM222.5 130.4h1v1h-1zM227.5 130.8h1v1h-1zM227.9 126.7h1v1h-1zM223.0 139.0h1v1h-1zM226.9 142.1h1v1h-1zM230.6 137.1h1v1h-1zM230.4 139.8h1v1h-1zM227.0 130.3h1v1h-1zM218.9 134.0h1v1h-1zM224.3 137.4h1v1h-1zM220.4 127.3h1v1h-1zM232.4 133.7h1v1h-1zM227.8 137.7h1v1h-1zM230.2 126.8h1v1h-1zM223.2 137.0h1v1h-1zM221.3 138.4h1v1h-1zM219.2 132.1h1v1h-1zM232.8 141.5h1v1h-1zM231.8 135.4h1v1h-1zM225.4 137.8h1v1h-1zM220.3 125.9h1v1h-1zM230.7 131.0h1v1h-1zM221.4 139.1h1v1h-1zM231.1 128.4h1v1h-1zM227.5 124.2h1v1h-1zM216.7 137.8h1v1h-1zM230.4 133.8h1v1h-1zM216.7 136.0h1v1h-1zM216.2 131.9h1v1h-1zM225.9 128.3h1v1h-1zM226.6 131.0h1v1h-1zM214.3 140.6h1v1h-1zM222.3 146.0h1v1h-1zM227.5 136.2h1v1h-1zM218.1 131.5h1v1h-1zM224.4 134.7h1v1h-1zM228.6 131.5h1v1h-1zM214.7 135.7h1v1h-1zM230.5 126.7h1v1h-1zM222.2 142.9h1v1h-1zM229.6 138.2h1v1h-1zM223.0 128.5h1v1h-1zM228.2 133.0h1v1h-1zM229.0 136.7h1v1h-1zM217.3 136.1h1v1h-1zM226.7 131.1h1v1h-1zM228.3 128.9h1v1h-1zM228.7 125.1h1v1h-1zM218.1 133.2h1v1h-1zM228.9 139.4h1v1h-1zM228.3 128.6h1v1h-1zM232.1 125.7h1v1h-1zM216.6 136.5h1v1h-1zM221.4 126.7h1v1h-1zM230.3 133.5h1v1h-1zM225.7 132.6h1v1h-1zM225.9 135.3h1v1h-1zM221.4 129.3h1v1h-1zM216.9 130.4h1v1h-1zM224.1 142.6h1v1h-1zM227.7 131.1h1v1h-1zM222.9 141.8h1v1h-1zM222.0 140.2h1v1h-1zM224.3 128.3h1v1h-1zM226.5 140.5h1v1h-1zM224.9 136.4h1v1h-1zM225.0 131.2h1v1h-1zM222.2 131.3h1v1h-1zM226.1 146.6h1v1h-1zM223.9 133.7h1v1h-1zM233.3 141.1h1v1h-1zM221.6 140.1h1v1h-1zM227.1 133.8h1v1h-1zM222.8 137.2h1v1h-1zM228.8 140.3h1v1h-1zM220.7 136.9h1v1h-1zM225.1 125.2h1v1h-1zM235.4 137.3h1v1h-1zM224.3 139.8h1v1h-1zM218.2 136.5h1v1h-1zM227.9 135.6h1v1h-1zM224.8 134.3h1v1h-1zM230.3 132.3h1v1h-1zM235.6 135.4h1v1h-1zM225.0 128.7h1v1h-1zM227.2 126.7h1v1h-1zM220.3 134.7h1v1h-1zM221.3 138.4h1v1h-1zM215.8 136.0h1v1h-1zM229.7 136.9h1v1h-1zM223.7 138.7h1v1h-1zM228.0 129.0h1v1h-1zM214.4 135.6h1v1h-1zM231.3 129.7h1v1h-1zM224.1 129.9h1v1h-1zM223.2 129.7h1v1h-1zM222.8 136.5h1v1h-1zM227.8 135.9h1v1h-1zM233.6 128.2h1v1h-1zM230.3 126.6h1v1h-1zM228.6 135.3h1v1h-1zM222.6 139.2h1v1h-1zM229.4 137.4h1v1h-1zM220.6 132.8h1v1h-1zM222.9 144.1h1v1h-1zM219.8 134.0h1v1h-1zM222.8 148.3h1v1h-1zM217.0 138.8h1v1h-1zM214.3 130.9h1v1h-1zM232.5 141.7h1v1h-1zM216.4 135.5h1v1h-1zM230.7 139.6h1v1h-1zM223.4 139.0h1v1h-1zM218.2 124.3h1v1h-1zM222.3 135.8h1v1h-1zM221.5 131.2h1v1h-1zM215.7 129.8h1v1h-1zM224.5 134.9h1v1h-1zM222.8 137.0h1v1h-1zM229.0 139.4h1v1h-1zM221.5 135.0h1v1h-1zM225.0 143.0h1v1h-1zM219.5 138.5h1v1h-1zM226.2 130.7h1v1h-1zM222.7 137.9h1v1h-1zM222.2 127.0h1v1h-1zM223.2 147.9h1v1h-1zM221.4 129.7h1v1h-1zM222.3 143.8h1v1h-1zM219.2 135.6h1v1h-1zM219.3 142.1h1v1h-1zM217.6 135.7h1v1h-1zM219.8 143.4h1v1h-1zM217.9 131.6h1v1h-1zM218.7 137.8h1v1h-1zM219.1 128.0h1v1h-1zM228.4 130.0h1v1h-1zM218.5 136.5h1v1h-1zM222.2 135.3h1v1h-1zM225.6 135.3h1v1h-1zM223.0 133.4h1v1h-1zM396.3 143.5h1v1h-1zM383.7 141.6h1v1h-1zM389.5 131.5h1v1h-1zM384.1 135.5h1v1h-1zM382.6 131.7h1v1h-1zM402.3 138.9h1v1h-1zM392.5 138.4h1v1h-1zM388.3 137.0h1v1h-1zM396.8 140.0h1v1h-1zM393.0 132.8h1v1h-1zM377.3 136.7h1v1h-1zM380.8 136.6h1v1h-1zM388.3 140.2h1v1h-1zM381.7 141.3h1v1h-1zM386.3 142.0h1v1h-1zM386.4 142.6h1v1h-1zM381.1 139.0h1v1h-1zM384.6 130.5h1v1h-1zM387.8 137.8h1v1h-1zM380.6 144.0h1v1h-1zM392.8 136.2h1v1h-1zM378.0 136.6h1v1h-1zM391.6 138.8h1v1h-1zM386.9 138.0h1v1h-1zM386.6 134.5h1v1h-1zM396.1 139.6h1v1h-1zM379.0 142.7h1v1h-1zM383.8 129.1h1v1h-1zM390.0 139.8h1v1h-1zM381.5 151.9h1v1h-1zM385.9 148.2h1v1h-1zM383.4 143.8h1v1h-1zM377.0 150.7h1v1h-1zM385.3 138.3h1v1h-1zM389.5 141.6h1v1h-1zM389.5 132.4h1v1h-1zM377.6 143.3h1v1h-1zM380.6 125.8h1v1h-1zM386.0 133.8h1v1h-1zM380.0 129.9h1v1h-1zM379.3 139.1h1v1h-1zM389.0 147.7h1v1h-1zM398.3 138.8h1v1h-1zM385.1 145.6h1v1h-1zM389.1 139.6h1v1h-1zM390.0 144.2h1v1h-1zM394.3 136.8h1v1h-1zM389.1 150.7h1v1h-1zM395.2 137.8h1v1h-1zM388.8 134.7h1v1h-1zM393.2 148.2h1v1h-1zM388.1 138.0h1v1h-1zM391.5 127.5h1v1h-1zM391.7 149.0h1v1h-1zM386.3 135.1h1v1h-1zM381.7 140.8h1v1h-1zM384.7 130.9h1v1h-1zM394.8 134.5h1v1h-1zM384.3 147.6h1v1h-1zM385.7 143.8h1v1h-1zM384.6 143.4h1v1h-1zM393.3 138.6h1v1h-1zM390.6 137.6h1v1h-1zM400.6 138.8h1v1h-1zM390.5 139.7h1v1h-1zM388.8 136.8h1v1h-1zM382.7 142.3h1v1h-1zM383.4 136.8h1v1h-1zM385.6 130.3h1v1h-1zM387.3 133.1h1v1h-1zM386.7 140.7h1v1h-1zM391.8 133.5h1v1h-1zM391.4 138.0h1v1h-1zM397.6 146.0h1v1h-1zM386.8 132.4h1v1h-1zM391.6 141.8h1v1h-1zM388.7 132.7h1v1h-1zM385.1 134.4h1v1h-1zM386.8 140.1h1v1h-1zM384.4 133.9h1v1h-1zM381.8 133.8h1v1h-1zM388.5 141.0h1v1h-1zM390.5 127.6h1v1h-1zM387.1 131.1h1v1h-1zM395.0 137.5h1v1h-1zM397.3 137.7h1v1h-1zM379.7 142.5h1v1h-1zM385.7 138.9h1v1h-1zM378.7 141.3h1v1h-1zM378.4 136.8h1v1h-1zM384.8 137.5h1v1h-1zM395.7 133.9h1v1h-1zM385.3 138.0h1v1h-1zM377.8 128.8h1v1h-1zM388.5 140.7h1v1h-1zM378.9 143.0h1v1h-1zM387.9 141.7h1v1h-1zM382.5 139.0h1v1h-1zM383.5 140.3h1v1h-1zM376.3 129.5h1v1h-1zM382.5 138.3h1v1h-1zM392.1 140.7h1v1h-1zM392.5 148.8h1v1h-1zM388.7 137.0h1v1h-1zM381.3 125.6h1v1h-1zM397.3 137.7h1v1h-1zM401.9 139.9h1v1h-1zM383.2 135.9h1v1h-1zM383.1 141.2h1v1h-1zM387.6 139.2h1v1h-1zM393.9 143.4h1v1h-1zM380.3 141.2h1v1h-1zM380.0 135.2h1v1h-1zM386.8 126.2h1v1h-1zM388.7 136.0h1v1h-1zM390.6 149.3h1v1h-1zM387.3 142.3h1v1h-1zM73.9 295.9h1v1h-1zM61.9 289.7h1v1h-1zM72.3 289.2h1v1h-1zM66.3 290.4h1v1h-1zM69.1 289.9h1v1h-1zM62.8 294.2h1v1h-1zM66.6 285.6h1v1h-1zM68.7 294.9h1v1h-1zM55.8 288.4h1v1h-1zM65.6 295.9h1v1h-1zM61.0 299.8h1v1h-1zM60.0 295.4h1v1h-1zM72.4 299.6h1v1h-1zM70.3 298.8h1v1h-1zM72.1 295.7h1v1h-1zM69.6 300.9h1v1h-1zM56.1 301.2h1v1h-1zM61.6 290.7h1v1h-1zM78.3 303.1h1v1h-1zM63.0 298.5h1v1h-1zM60.8 295.7h1v1h-1zM65.7 290.9h1v1h-1zM66.9 301.6h1v1h-1zM57.2 291.4h1v1h-1zM60.5 292.5h1v1h-1zM65.6 293.3h1v1h-1zM62.7 293.8h1v1h-1zM66.7 288.8h1v1h-1zM65.1 291.8h1v1h-1zM58.4 293.9h1v1h-1zM66.7 289.6h1v1h-1zM75.0 289.9h1v1h-1zM62.9 305.3h1v1h-1zM61.5 289.0h1v1h-1zM72.0 293.4h1v1h-1zM72.5 297.1h1v1h-1zM64.2 298.0h1v1h-1zM63.9 286.2h1v1h-1zM62.4 282.8h1v1h-1zM71.7 298.2h1v1h-1zM65.2 294.6h1v1h-1zM64.4 298.8h1v1h-1zM80.6 291.8h1v1h-1zM71.6 297.6h1v1h-1zM69.6 295.4h1v1h-1zM72.6 298.3h1v1h-1zM68.4 298.2h1v1h-1zM70.8 294.4h1v1h-1zM71.6 302.5h1v1h-1zM58.6 285.5h1v1h-1zM69.2 297.6h1v1h-1zM59.2 299.8h1v1h-1zM71.6 297.4h1v1h-1zM66.2 305.7h1v1h-1zM65.1 281.4h1v1h-1zM69.2 294.2h1v1h-1zM64.4 294.1h1v1h-1zM60.7 286.4h1v1h-1zM59.2 290.3h1v1h-1zM64.3 301.1h1v1h-1zM75.5 286.7h1v1h-1zM72.0 294.1h1v1h-1zM70.1 293.0h1v1h-1zM61.0 288.9h1v1h-1zM71.2 296.3h1v1h-1zM78.9 300.2h1v1h-1zM63.5 298.6h1v1h-1zM66.6 291.0h1v1h-1zM73.0 296.1h1v1h-1zM60.6 290.4h1v1h-1zM64.7 290.0h1v1h-1zM59.3 293.1h1v1h-1zM67.4 299.8h1v1h-1zM63.1 297.0h1v1h-1zM61.7 298.2h1v1h-1zM62.7 298.0h1v1h-1zM71.5 306.1h1v1h-1zM63.9 295.2h1v1h-1zM69.5 292.6h1v1h-1zM67.8 295.7h1v1h-1zM69.7 293.8h1v1h-1zM59.4 299.3h1v1h-1zM70.6 285.0h1v1h-1zM65.9 293.2h1v1h-1zM62.8 297.8h1v1h-1zM64.5 299.6h1v1h-1zM73.5 299.1h1v1h-1zM69.9 301.2h1v1h-1zM75.3 297.0h1v1h-1zM65.5 293.1h1v1h-1zM69.7 290.9h1v1h-1zM72.9 286.8h1v1h-1zM71.2 288.1h1v1h-1zM68.5 292.6h1v1h-1zM82.8 288.5h1v1h-1zM68.7 296.1h1v1h-1zM72.3 286.9h1v1h-1zM69.6 286.8h1v1h-1zM61.4 293.8h1v1h-1zM63.8 298.6h1v1h-1zM54.2 304.1h1v1h-1zM69.3 290.2h1v1h-1zM63.5 302.2h1v1h-1zM62.1 296.3h1v1h-1zM72.3 293.2h1v1h-1zM65.1 287.7h1v1h-1zM63.9 281.0h1v1h-1zM55.1 295.9h1v1h-1zM74.7 296.4h1v1h-1zM66.0 287.2h1v1h-1zM65.5 291.8h1v1h-1zM69.1 297.0h1v1h-1zM67.9 297.6h1v1h-1zM64.9 287.0h1v1h-1zM73.2 289.7h1v1h-1zM57.9 292.8h1v1h-1zM65.9 287.2h1v1h-1zM67.0 296.3h1v1h-1zM75.6 288.6h1v1h-1zM71.7 290.9h1v1h-1zM70.4 299.1h1v1h-1zM63.8 293.6h1v1h-1zM64.4 291.7h1v1h-1zM57.7 293.4h1v1h-1zM74.5 289.4h1v1h-1zM64.0 290.1h1v1h-1zM66.9 286.9h1v1h-1zM64.2 294.4h1v1h-1zM69.5 297.2h1v1h-1zM64.3 298.4h1v1h-1zM72.1 292.5h1v1h-1zM69.1 288.1h1v1h-1zM227.0 292.0h1v1h-1zM239.1 286.8h1v1h-1zM235.6 302.2h1v1h-1zM236.2 300.9h1v1h-1zM231.0 290.4h1v1h-1zM241.9 294.0h1v1h-1zM228.8 305.5h1v1h-1zM223.0 291.7h1v1h-1zM229.7 288.3h1v1h-1zM237.2 296.7h1v1h-1zM232.4 305.3h1v1h-1zM226.9 301.4h1v1h-1zM228.7 295.2h1v1h-1zM226.0 302.0h1v1h-1zM233.9 287.5h1v1h-1zM226.1 296.9h1v1h-1zM228.3 287.0h1v1h-1zM235.7 295.7h1v1h-1zM235.3 290.7h1v1h-1zM229.3 290.5h1v1h-1zM232.9 288.6h1v1h-1zM217.9 298.5h1v1h-1zM226.4 289.3h1v1h-1zM220.4 294.1h1v1h-1zM223.4 300.0h1v1h-1zM238.9 287.0h1v1h-1zM230.2 287.3h1v1h-1zM224.4 287.3h1v1h-1zM238.5 295.2h1v1h-1zM219.9 293.4h1v1h-1zM227.7 299.1h1v1h-1zM236.9 293.9h1v1h-1zM227.4 290.9h1v1h-1zM239.6 301.9h1v1h-1zM227.1 307.4h1v1h-1zM228.2 295.2h1v1h-1zM225.9 286.7h1v1h-1zM237.6 299.7h1v1h-1zM223.0 284.3h1v1h-1zM231.7 291.7h1v1h-1zM227.5 293.4h1v1h-1zM230.8 296.2h1v1h-1zM227.3 298.4h1v1h-1zM238.1 298.5h1v1h-1zM236.1 293.4h1v1h-1zM232.0 297.8h1v1h-1zM231.0 296.3h1v1h-1zM232.5 292.2h1v1h-1zM231.3 296.8h1v1h-1zM223.5 298.3h1v1h-1zM234.9 293.3h1v1h-1zM228.6 292.0h1v1h-1zM227.9 290.6h1v1h-1zM223.6 298.6h1v1h-1zM237.8 280.1h1v1h-1zM235.9 289.6h1v1h-1zM233.8 298.0h1v1h-1zM230.7 293.2h1v1h-1zM236.8 294.6h1v1h-1zM231.9 289.0h1v1h-1zM231.2 295.7h1v1h-1zM237.0 293.8h1v1h-1zM226.3 293.3h1v1h-1zM233.4 301.2h1v1h-1zM228.1 291.2h1v1h-1zM226.1 295.1h1v1h-1zM228.7 301.4h1v1h-1zM233.3 288.9h1v1h-1zM223.6 291.9h1v1h-1zM229.6 294.3h1v1h-1zM241.4 291.8h1v1h-1zM228.1 291.1h1v1h-1zM219.8 294.7h1v1h-1zM234.0 298.4h1v1h-1zM232.0 291.2h1v1h-1zM230.7 296.9h1v1h-1zM225.2 298.2h1v1h-1zM230.9 293.6h1v1h-1zM233.2 288.8h1v1h-1zM235.5 299.8h1v1h-1zM225.2 291.2h1v1h-1zM229.6 301.9h1v1h-1zM239.2 290.0h1v1h-1zM237.3 289.1h1v1h-1zM220.8 289.9h1v1h-1zM232.2 286.5h1v1h-1zM225.0 294.0h1v1h-1zM227.3 288.8h1v1h-1zM226.5 293.3h1v1h-1zM224.7 294.6h1v1h-1zM223.7 288.6h1v1h-1zM238.2 291.5h1v1h-1zM232.4 287.2h1v1h-1zM232.6 294.3h1v1h-1zM229.8 293.7h1v1h-1zM237.5 293.9h1v1h-1zM219.7 296.4h1v1h-1zM223.8 298.5h1v1h-1zM229.5 292.7h1v1h-1zM237.1 297.1h1v1h-1zM226.6 295.2h1v1h-1zM228.2 302.4h1v1h-1zM231.4 297.1h1v1h-1zM229.3 299.5h1v1h-1zM219.9 293.1h1v1h-1zM229.4 287.8h1v1h-1zM227.5 297.4h1v1h-1zM228.8 297.8h1v1h-1zM221.9 300.0h1v1h-1zM231.4 292.4h1v1h-1zM226.1 297.5h1v1h-1zM228.9 295.5h1v1h-1zM232.1 290.1h1v1h-1zM230.3 292.3h1v1h-1zM235.1 304.2h1v1h-1zM227.6 285.0h1v1h-1zM229.1 294.5h1v1h-1zM241.1 302.9h1v1h-1zM232.6 297.3h1v1h-1zM219.1 288.7h1v1h-1zM216.2 289.4h1v1h-1zM230.6 293.7h1v1h-1zM229.7 294.1h1v1h-1zM231.9 285.8h1v1h-1zM229.3 291.1h1v1h-1zM220.0 292.7h1v1h-1zM227.6 289.1h1v1h-1zM235.6 301.3h1v1h-1zM224.6 293.6h1v1h-1zM221.3 307.3h1v1h-1zM230.9 293.2h1v1h-1zM232.0 294.2h1v1h-1zM228.5 299.3h1v1h-1zM219.7 295.5h1v1h-1zM225.8 301.9h1v1h-1zM231.6 299.8h1v1h-1zM230.1 303.7h1v1h-1zM231.1 293.6h1v1h-1zM235.6 292.6h1v1h-1zM237.5 286.9h1v1h-1zM215.1 294.3h1v1h-1zM233.1 291.9h1v1h-1zM224.9 292.8h1v1h-1zM225.9 304.6h1v1h-1zM232.6 292.2h1v1h-1zM238.1 300.4h1v1h-1zM229.6 297.2h1v1h-1zM232.1 300.8h1v1h-1zM231.7 298.0h1v1h-1zM245.0 296.2h1v1h-1zM240.4 296.4h1v1h-1zM384.3 297.0h1v1h-1zM387.3 295.7h1v1h-1zM389.5 298.3h1v1h-1zM384.9 284.7h1v1h-1zM396.5 284.1h1v1h-1zM390.5 292.0h1v1h-1zM402.6 296.3h1v1h-1zM402.7 295.6h1v1h-1zM390.7 297.2h1v1h-1zM394.0 292.1h1v1h-1zM394.6 300.5h1v1h-1zM388.8 290.0h1v1h-1zM390.1 291.3h1v1h-1zM395.4 290.0h1v1h-1zM382.2 296.1h1v1h-1zM388.6 298.9h1v1h-1zM394.9 283.7h1v1h-1zM382.0 302.0h1v1h-1zM392.0 297.6h1v1h-1zM398.8 298.8h1v1h-1zM390.7 300.9h1v1h-1zM393.7 291.6h1v1h-1zM394.2 291.5h1v1h-1zM379.8 291.7h1v1h-1zM394.0 290.2h1v1h-1zM390.4 288.8h1v1h-1zM397.9 297.4h1v1h-1zM398.2 299.2h1v1h-1zM395.7 292.3h1v1h-1zM397.5 294.6h1v1h-1zM399.7 296.8h1v1h-1zM396.8 297.0h1v1h-1zM384.9 291.2h1v1h-1zM397.3 296.5h1v1h-1zM390.5 297.6h1v1h-1zM383.5 295.8h1v1h-1zM380.9 296.4h1v1h-1zM400.0 291.3h1v1h-1zM394.6 289.8h1v1h-1zM386.8 297.1h1v1h-1zM389.8 291.0h1v1h-1zM385.4 295.9h1v1h-1zM387.2 301.4h1v1h-1zM381.5 297.5h1v1h-1zM392.7 299.2h1v1h-1zM384.3 291.1h1v1h-1zM394.5 284.9h1v1h-1zM391.4 293.7h1v1h-1zM394.9 295.3h1v1h-1zM383.0 292.5h1v1h-1zM396.9 303.1h1v1h-1zM384.4 299.1h1v1h-1zM397.0 286.8h1v1h-1zM384.9 292.1h1v1h-1zM394.1 291.8h1v1h-1zM392.0 301.9h1v1h-1zM391.1 294.6h1v1h-1zM387.7 301.3h1v1h-1zM390.9 296.1h1v1h-1zM384.8 298.1h1v1h-1zM397.5 292.5h1v1h-1zM394.4 295.3h1v1h-1zM389.7 296.2h1v1h-1zM386.2 294.8h1v1h-1zM390.9 301.8h1v1h-1zM383.7 286.4h1v1h-1zM396.0 294.3h1v1h-1zM386.9 297.4h1v1h-1zM395.5 297.2h1v1h-1zM380.7 292.8h1v1h-1zM388.7 297.1h1v1h-1zM391.0 288.9h1v1h-1zM385.6 295.3h1v1h-1zM386.6 291.2h1v1h-1zM390.8 300.1h1v1h-1zM398.7 289.2h1v1h-1zM390.5 293.8h1v1h-1zM388.5 294.9h1v1h-1zM376.9 290.0h1v1h-1zM392.4 298.2h1v1h-1zM388.5 299.3h1v1h-1zM382.3 293.1h1v1h-1zM391.6 296.0h1v1h-1zM389.7 299.9h1v1h-1zM395.9 291.9h1v1h-1zM392.5 294.4h1v1h-1zM394.7 299.3h1v1h-1zM397.8 292.0h1v1h-1zM385.0 286.9h1v1h-1zM392.5 296.7h1v1h-1zM381.8 286.9h1v1h-1zM394.4 290.1h1v1h-1zM388.7 294.6h1v1h-1zM388.8 297.2h1v1h-1zM393.3 287.4h1v1h-1zM382.9 299.4h1v1h-1zM400.2 299.8h1v1h-1zM397.4 292.2h1v1h-1zM398.7 287.5h1v1h-1zM401.6 302.4h1v1h-1zM394.9 294.4h1v1h-1zM386.8 291.5h1v1h-1zM398.1 298.6h1v1h-1zM393.4 297.2h1v1h-1zM390.2 296.8h1v1h-1zM397.1 296.6h1v1h-1zM387.3 298.5h1v1h-1zM400.6 297.8h1v1h-1zM389.5 305.9h1v1h-1zM392.0 283.9h1v1h-1zM393.5 298.3h1v1h-1zM383.3 295.2h1v1h-1zM391.6 297.9h1v1h-1zM390.5 305.6h1v1h-1zM387.5 284.3h1v1h-1zM388.9 294.4h1v1h-1zM387.9 296.2h1v1h-1zM392.8 298.0h1v1h-1zM380.9 298.3h1v1h-1zM381.1 291.9h1v1h-1zM388.7 306.2h1v1h-1zM390.9 296.2h1v1h-1zM395.6 296.9h1v1h-1zM385.1 295.8h1v1h-1z"/></g>
<g><rect x="52" y="28.6" width="135.5" height="1.5" fill="#6a6a6a"/><rect x="186.1" y="29" width="1.6" height="125" fill="#8c8c8c"/><rect x="52" y="29" width="1" height="125" fill="#999"/><rect x="52" y="153" width="135" height="1" fill="#333"/><rect x="49.5" y="143.67" width="2.5" height="1" fill="#4a4a4a"/><rect x="49.5" y="138.21" width="2.5" height="1" fill="#4a4a4a"/><rect x="49.5" y="134.34" width="2.5" height="1" fill="#4a4a4a"/><rect x="49.5" y="131.33" width="2.5" height="1" fill="#4a4a4a"/><rect x="49.5" y="128.88" width="2.5" height="1" fill="#4a4a4a"/><rect x="49.5" y="126.80" width="2.5" height="1" fill="#4a4a4a"/><rect x="49.5" y="125.00" width="2.5" height="1" fill="#4a4a4a"/><rect x="49.5" y="123.42" width="2.5" height="1" fill="#4a4a4a"/><rect x="47" y="122.00" width="5" height="1" fill="#4a4a4a"/><rect x="49.5" y="112.67" width="2.5" height="1" fill="#4a4a4a"/><rect x="49.5" y="107.21" width="2.5" height="1" fill="#4a4a4a"/><rect x="49.5" y="103.34" width="2.5" height="1" fill="#4a4a4a"/><rect x="49.5" y="100.33" width="2.5" height="1" fill="#4a4a4a"/><rect x="49.5" y="97.88" width="2.5" height="1" fill="#4a4a4a"/><rect x="49.5" y="95.80" width="2.5" height="1" fill="#4a4a4a"/><rect x="49.5" y="94.00" width="2.5" height="1" fill="#4a4a4a"/><rect x="49.5" y="92.42" width="2.5" height="1" fill="#4a4a4a"/><rect x="47" y="91.00" width="5" height="1" fill="#4a4a4a"/><rect x="49.5" y="81.67" width="2.5" height="1" fill="#4a4a4a"/><rect x="49.5" y="76.21" width="2.5" height="1" fill="#4a4a4a"/><rect x="49.5" y="72.34" width="2.5" height="1" fill="#4a4a4a"/><rect x="49.5" y="69.33" width="2.5" height="1" fill="#4a4a4a"/><rect x="49.5" y="66.88" width="2.5" height="1" fill="#4a4a4a"/><rect x="49.5" y="64.80" width="2.5" height="1" fill="#4a4a4a"/><rect x="49.5" y="63.00" width="2.5" height="1" fill="#4a4a4a"/><rect x="49.5" y="61.42" width="2.5" height="1" fill="#4a4a4a"/><rect x="47" y="60.00" width="5" height="1" fill="#4a4a4a"/><rect x="49.5" y="50.67" width="2.5" height="1" fill="#4a4a4a"/><rect x="49.5" y="45.21" width="2.5" height="1" fill="#4a4a4a"/><rect x="49.5" y="41.34" width="2.5" height="1" fill="#4a4a4a"/><rect x="49.5" y="38.33" width="2.5" height="1" fill="#4a4a4a"/><rect x="49.5" y="35.88" width="2.5" height="1" fill="#4a4a4a"/><rect x="49.5" y="33.80" width="2.5" height="1" fill="#4a4a4a"/><rect x="49.5" y="32.00" width="2.5" height="1" fill="#4a4a4a"/><rect x="49.5" y="30.42" width="2.5" height="1" fill="#4a4a4a"/><rect x="47" y="29" width="5" height="1" fill="#4a4a4a"/><rect x="61.68" y="153" width="1" height="2.5" fill="#4a4a4a"/><rect x="67.58" y="153" width="1" height="2.5" fill="#4a4a4a"/><rect x="71.77" y="153" width="1" height="2.5" fill="#4a4a4a"/><rect x="75.02" y="153" width="1" height="2.5" fill="#4a4a4a"/><rect x="77.67" y="153" width="1" height="2.5" fill="#4a4a4a"/><rect x="79.91" y="153" width="1" height="2.5" fill="#4a4a4a"/><rect x="81.85" y="153" width="1" height="2.5" fill="#4a4a4a"/><rect x="83.57" y="153" width="1" height="2.5" fill="#4a4a4a"/><rect x="85.10" y="153" width="1" height="5" fill="#4a4a4a"/><rect x="95.18" y="153" width="1" height="2.5" fill="#4a4a4a"/><rect x="101.08" y="153" width="1" height="2.5" fill="#4a4a4a"/><rect x="105.27" y="153" width="1" height="2.5" fill="#4a4a4a"/><rect x="108.52" y="153" width="1" height="2.5" fill="#4a4a4a"/><rect x="111.17" y="153" width="1" height="2.5" fill="#4a4a4a"/><rect x="113.41" y="153" width="1" height="2.5" fill="#4a4a4a"/><rect x="115.35" y="153" width="1" height="2.5" fill="#4a4a4a"/><rect x="117.07" y="153" width="1" height="2.5" fill="#4a4a4a"/><rect x="118.60" y="153" width="1" height="5" fill="#4a4a4a"/><rect x="128.68" y="153" width="1" height="2.5" fill="#4a4a4a"/><rect x="134.58" y="153" width="1" height="2.5" fill="#4a4a4a"/><rect x="138.77" y="153" width="1" height="2.5" fill="#4a4a4a"/><rect x="142.02" y="153" width="1" height="2.5" fill="#4a4a4a"/><rect x="144.67" y="153" width="1" height="2.5" fill="#4a4a4a"/><rect x="146.91" y="153" width="1" height="2.5" fill="#4a4a4a"/><rect x="148.85" y="153" width="1" height="2.5" fill="#4a4a4a"/><rect x="150.57" y="153" width="1" height="2.5" fill="#4a4a4a"/><rect x="152.10" y="153" width="1" height="5" fill="#4a4a4a"/><rect x="162.18" y="153" width="1" height="2.5" fill="#4a4a4a"/><rect x="168.08" y="153" width="1" height="2.5" fill="#4a4a4a"/><rect x="172.27" y="153" width="1" height="2.5" fill="#4a4a4a"/><rect x="175.52" y="153" width="1" height="2.5" fill="#4a4a4a"/><rect x="178.17" y="153" width="1" height="2.5" fill="#4a4a4a"/><rect x="180.41" y="153" width="1" height="2.5" fill="#4a4a4a"/><rect x="182.35" y="153" width="1" height="2.5" fill="#4a4a4a"/><rect x="184.07" y="153" width="1" height="2.5" fill="#4a4a4a"/><rect x="186" y="153" width="1" height="5" fill="#4a4a4a"/><rect x="83.3" y="29" width="1.6" height="124" fill="#222"/><rect x="52" y="121.8" width="134" height="1.6" fill="#222"/><rect x="213" y="28.6" width="136.5" height="1.5" fill="#6a6a6a"/><rect x="348.1" y="29" width="1.6" height="125" fill="#8c8c8c"/><rect x="213" y="29" width="1" height="125" fill="#999"/><rect x="213" y="153" width="136" height="1" fill="#333"/><rect x="210.5" y="143.67" width="2.5" height="1" fill="#4a4a4a"/><rect x="210.5" y="138.21" width="2.5" height="1" fill="#4a4a4a"/><rect x="210.5" y="134.34" width="2.5" height="1" fill="#4a4a4a"/><rect x="210.5" y="131.33" width="2.5" height="1" fill="#4a4a4a"/><rect x="210.5" y="128.88" width="2.5" height="1" fill="#4a4a4a"/><rect x="210.5" y="126.80" width="2.5" height="1" fill="#4a4a4a"/><rect x="210.5" y="125.00" width="2.5" height="1" fill="#4a4a4a"/><rect x="210.5" y="123.42" width="2.5" height="1" fill="#4a4a4a"/><rect x="208" y="122.00" width="5" height="1" fill="#4a4a4a"/><rect x="210.5" y="112.67" width="2.5" height="1" fill="#4a4a4a"/><rect x="210.5" y="107.21" width="2.5" height="1" fill="#4a4a4a"/><rect x="210.5" y="103.34" width="2.5" height="1" fill="#4a4a4a"/><rect x="210.5" y="100.33" width="2.5" height="1" fill="#4a4a4a"/><rect x="210.5" y="97.88" width="2.5" height="1" fill="#4a4a4a"/><rect x="210.5" y="95.80" width="2.5" height="1" fill="#4a4a4a"/><rect x="210.5" y="94.00" width="2.5" height="1" fill="#4a4a4a"/><rect x="210.5" y="92.42" width="2.5" height="1" fill="#4a4a4a"/><rect x="208" y="91.00" width="5" height="1" fill="#4a4a4a"/><rect x="210.5" y="81.67" width="2.5" height="1" fill="#4a4a4a"/><rect x="210.5" y="76.21" width="2.5" height="1" fill="#4a4a4a"/><rect x="210.5" y="72.34" width="2.5" height="1" fill="#4a4a4a"/><rect x="210.5" y="69.33" width="2.5" height="1" fill="#4a4a4a"/><rect x="210.5" y="66.88" width="2.5" height="1" fill="#4a4a4a"/><rect x="210.5" y="64.80" width="2.5" height="1" fill="#4a4a4a"/><rect x="210.5" y="63.00" width="2.5" height="1" fill="#4a4a4a"/><rect x="210.5" y="61.42" width="2.5" height="1" fill="#4a4a4a"/><rect x="208" y="60.00" width="5" height="1" fill="#4a4a4a"/><rect x="210.5" y="50.67" width="2.5" height="1" fill="#4a4a4a"/><rect x="210.5" y="45.21" width="2.5" height="1" fill="#4a4a4a"/><rect x="210.5" y="41.34" width="2.5" height="1" fill="#4a4a4a"/><rect x="210.5" y="38.33" width="2.5" height="1" fill="#4a4a4a"/><rect x="210.5" y="35.88" width="2.5" height="1" fill="#4a4a4a"/><rect x="210.5" y="33.80" width="2.5" height="1" fill="#4a4a4a"/><rect x="210.5" y="32.00" width="2.5" height="1" fill="#4a4a4a"/><rect x="210.5" y="30.42" width="2.5" height="1" fill="#4a4a4a"/><rect x="208" y="29" width="5" height="1" fill="#4a4a4a"/><rect x="222.76" y="153" width="1" height="2.5" fill="#4a4a4a"/><rect x="228.70" y="153" width="1" height="2.5" fill="#4a4a4a"/><rect x="232.92" y="153" width="1" height="2.5" fill="#4a4a4a"/><rect x="236.19" y="153" width="1" height="2.5" fill="#4a4a4a"/><rect x="238.86" y="153" width="1" height="2.5" fill="#4a4a4a"/><rect x="241.12" y="153" width="1" height="2.5" fill="#4a4a4a"/><rect x="243.08" y="153" width="1" height="2.5" fill="#4a4a4a"/><rect x="244.81" y="153" width="1" height="2.5" fill="#4a4a4a"/><rect x="246.35" y="153" width="1" height="5" fill="#4a4a4a"/><rect x="256.51" y="153" width="1" height="2.5" fill="#4a4a4a"/><rect x="262.45" y="153" width="1" height="2.5" fill="#4a4a4a"/><rect x="266.67" y="153" width="1" height="2.5" fill="#4a4a4a"/><rect x="269.94" y="153" width="1" height="2.5" fill="#4a4a4a"/><rect x="272.61" y="153" width="1" height="2.5" fill="#4a4a4a"/><rect x="274.87" y="153" width="1" height="2.5" fill="#4a4a4a"/><rect x="276.83" y="153" width="1" height="2.5" fill="#4a4a4a"/><rect x="278.56" y="153" width="1" height="2.5" fill="#4a4a4a"/><rect x="280.10" y="153" width="1" height="5" fill="#4a4a4a"/><rect x="290.26" y="153" width="1" height="2.5" fill="#4a4a4a"/><rect x="296.20" y="153" width="1" height="2.5" fill="#4a4a4a"/><rect x="300.42" y="153" width="1" height="2.5" fill="#4a4a4a"/><rect x="303.69" y="153" width="1" height="2.5" fill="#4a4a4a"/><rect x="306.36" y="153" width="1" height="2.5" fill="#4a4a4a"/><rect x="308.62" y="153" width="1" height="2.5" fill="#4a4a4a"/><rect x="310.58" y="153" width="1" height="2.5" fill="#4a4a4a"/><rect x="312.31" y="153" width="1" height="2.5" fill="#4a4a4a"/><rect x="313.85" y="153" width="1" height="5" fill="#4a4a4a"/><rect x="324.01" y="153" width="1" height="2.5" fill="#4a4a4a"/><rect x="329.95" y="153" width="1" height="2.5" fill="#4a4a4a"/><rect x="334.17" y="153" width="1" height="2.5" fill="#4a4a4a"/><rect x="337.44" y="153" width="1" height="2.5" fill="#4a4a4a"/><rect x="340.11" y="153" width="1" height="2.5" fill="#4a4a4a"/><rect x="342.37" y="153" width="1" height="2.5" fill="#4a4a4a"/><rect x="344.33" y="153" width="1" height="2.5" fill="#4a4a4a"/><rect x="346.06" y="153" width="1" height="2.5" fill="#4a4a4a"/><rect x="348" y="153" width="1" height="5" fill="#4a4a4a"/><rect x="244.9" y="29" width="1.9" height="124" fill="#6a6a6a"/><rect x="213" y="122.5" width="135" height="1.6" fill="#111"/><rect x="375" y="28.6" width="136.5" height="1.5" fill="#6a6a6a"/><rect x="510.1" y="29" width="1.6" height="125" fill="#8c8c8c"/><rect x="375" y="29" width="1" height="125" fill="#999"/><rect x="375" y="153" width="136" height="1" fill="#333"/><rect x="372.5" y="143.67" width="2.5" height="1" fill="#4a4a4a"/><rect x="372.5" y="138.21" width="2.5" height="1" fill="#4a4a4a"/><rect x="372.5" y="134.34" width="2.5" height="1" fill="#4a4a4a"/><rect x="372.5" y="131.33" width="2.5" height="1" fill="#4a4a4a"/><rect x="372.5" y="128.88" width="2.5" height="1" fill="#4a4a4a"/><rect x="372.5" y="126.80" width="2.5" height="1" fill="#4a4a4a"/><rect x="372.5" y="125.00" width="2.5" height="1" fill="#4a4a4a"/><rect x="372.5" y="123.42" width="2.5" height="1" fill="#4a4a4a"/><rect x="370" y="122.00" width="5" height="1" fill="#4a4a4a"/><rect x="372.5" y="112.67" width="2.5" height="1" fill="#4a4a4a"/><rect x="372.5" y="107.21" width="2.5" height="1" fill="#4a4a4a"/><rect x="372.5" y="103.34" width="2.5" height="1" fill="#4a4a4a"/><rect x="372.5" y="100.33" width="2.5" height="1" fill="#4a4a4a"/><rect x="372.5" y="97.88" width="2.5" height="1" fill="#4a4a4a"/><rect x="372.5" y="95.80" width="2.5" height="1" fill="#4a4a4a"/><rect x="372.5" y="94.00" width="2.5" height="1" fill="#4a4a4a"/><rect x="372.5" y="92.42" width="2.5" height="1" fill="#4a4a4a"/><rect x="370" y="91.00" width="5" height="1" fill="#4a4a4a"/><rect x="372.5" y="81.67" width="2.5" height="1" fill="#4a4a4a"/><rect x="372.5" y="76.21" width="2.5" height="1" fill="#4a4a4a"/><rect x="372.5" y="72.34" width="2.5" height="1" fill="#4a4a4a"/><rect x="372.5" y="69.33" width="2.5" height="1" fill="#4a4a4a"/><rect x="372.5" y="66.88" width="2.5" height="1" fill="#4a4a4a"/><rect x="372.5" y="64.80" width="2.5" height="1" fill="#4a4a4a"/><rect x="372.5" y="63.00" width="2.5" height="1" fill="#4a4a4a"/><rect x="372.5" y="61.42" width="2.5" height="1" fill="#4a4a4a"/><rect x="370" y="60.00" width="5" height="1" fill="#4a4a4a"/><rect x="372.5" y="50.67" width="2.5" height="1" fill="#4a4a4a"/><rect x="372.5" y="45.21" width="2.5" height="1" fill="#4a4a4a"/><rect x="372.5" y="41.34" width="2.5" height="1" fill="#4a4a4a"/><rect x="372.5" y="38.33" width="2.5" height="1" fill="#4a4a4a"/><rect x="372.5" y="35.88" width="2.5" height="1" fill="#4a4a4a"/><rect x="372.5" y="33.80" width="2.5" height="1" fill="#4a4a4a"/><rect x="372.5" y="32.00" width="2.5" height="1" fill="#4a4a4a"/><rect x="372.5" y="30.42" width="2.5" height="1" fill="#4a4a4a"/><rect x="370" y="29" width="5" height="1" fill="#4a4a4a"/><rect x="384.76" y="153" width="1" height="2.5" fill="#4a4a4a"/><rect x="390.70" y="153" width="1" height="2.5" fill="#4a4a4a"/><rect x="394.92" y="153" width="1" height="2.5" fill="#4a4a4a"/><rect x="398.19" y="153" width="1" height="2.5" fill="#4a4a4a"/><rect x="400.86" y="153" width="1" height="2.5" fill="#4a4a4a"/><rect x="403.12" y="153" width="1" height="2.5" fill="#4a4a4a"/><rect x="405.08" y="153" width="1" height="2.5" fill="#4a4a4a"/><rect x="406.81" y="153" width="1" height="2.5" fill="#4a4a4a"/><rect x="408.35" y="153" width="1" height="5" fill="#4a4a4a"/><rect x="418.51" y="153" width="1" height="2.5" fill="#4a4a4a"/><rect x="424.45" y="153" width="1" height="2.5" fill="#4a4a4a"/><rect x="428.67" y="153" width="1" height="2.5" fill="#4a4a4a"/><rect x="431.94" y="153" width="1" height="2.5" fill="#4a4a4a"/><rect x="434.61" y="153" width="1" height="2.5" fill="#4a4a4a"/><rect x="436.87" y="153" width="1" height="2.5" fill="#4a4a4a"/><rect x="438.83" y="153" width="1" height="2.5" fill="#4a4a4a"/><rect x="440.56" y="153" width="1" height="2.5" fill="#4a4a4a"/><rect x="442.10" y="153" width="1" height="5" fill="#4a4a4a"/><rect x="452.26" y="153" width="1" height="2.5" fill="#4a4a4a"/><rect x="458.20" y="153" width="1" height="2.5" fill="#4a4a4a"/><rect x="462.42" y="153" width="1" height="2.5" fill="#4a4a4a"/><rect x="465.69" y="153" width="1" height="2.5" fill="#4a4a4a"/><rect x="468.36" y="153" width="1" height="2.5" fill="#4a4a4a"/><rect x="470.62" y="153" width="1" height="2.5" fill="#4a4a4a"/><rect x="472.58" y="153" width="1" height="2.5" fill="#4a4a4a"/><rect x="474.31" y="153" width="1" height="2.5" fill="#4a4a4a"/><rect x="475.85" y="153" width="1" height="5" fill="#4a4a4a"/><rect x="486.01" y="153" width="1" height="2.5" fill="#4a4a4a"/><rect x="491.95" y="153" width="1" height="2.5" fill="#4a4a4a"/><rect x="496.17" y="153" width="1" height="2.5" fill="#4a4a4a"/><rect x="499.44" y="153" width="1" height="2.5" fill="#4a4a4a"/><rect x="502.11" y="153" width="1" height="2.5" fill="#4a4a4a"/><rect x="504.37" y="153" width="1" height="2.5" fill="#4a4a4a"/><rect x="506.33" y="153" width="1" height="2.5" fill="#4a4a4a"/><rect x="508.06" y="153" width="1" height="2.5" fill="#4a4a4a"/><rect x="510" y="153" width="1" height="5" fill="#4a4a4a"/><rect x="406.9" y="29" width="2.2" height="124" fill="#111"/><rect x="375" y="123.6" width="135" height="1.4" fill="#777"/><rect x="52" y="183.6" width="135.5" height="1.5" fill="#6a6a6a"/><rect x="186.1" y="184" width="1.6" height="126" fill="#8c8c8c"/><rect x="52" y="184" width="1" height="126" fill="#999"/><rect x="52" y="309" width="135" height="1" fill="#333"/><rect x="49.5" y="299.59" width="2.5" height="1" fill="#4a4a4a"/><rect x="49.5" y="294.09" width="2.5" height="1" fill="#4a4a4a"/><rect x="49.5" y="290.19" width="2.5" height="1" fill="#4a4a4a"/><rect x="49.5" y="287.16" width="2.5" height="1" fill="#4a4a4a"/><rect x="49.5" y="284.68" width="2.5" height="1" fill="#4a4a4a"/><rect x="49.5" y="282.59" width="2.5" height="1" fill="#4a4a4a"/><rect x="49.5" y="280.78" width="2.5" height="1" fill="#4a4a4a"/><rect x="49.5" y="279.18" width="2.5" height="1" fill="#4a4a4a"/><rect x="47" y="277.75" width="5" height="1" fill="#4a4a4a"/><rect x="49.5" y="268.34" width="2.5" height="1" fill="#4a4a4a"/><rect x="49.5" y="262.84" width="2.5" height="1" fill="#4a4a4a"/><rect x="49.5" y="258.94" width="2.5" height="1" fill="#4a4a4a"/><rect x="49.5" y="255.91" width="2.5" height="1" fill="#4a4a4a"/><rect x="49.5" y="253.43" width="2.5" height="1" fill="#4a4a4a"/><rect x="49.5" y="251.34" width="2.5" height="1" fill="#4a4a4a"/><rect x="49.5" y="249.53" width="2.5" height="1" fill="#4a4a4a"/><rect x="49.5" y="247.93" width="2.5" height="1" fill="#4a4a4a"/><rect x="47" y="246.50" width="5" height="1" fill="#4a4a4a"/><rect x="49.5" y="237.09" width="2.5" height="1" fill="#4a4a4a"/><rect x="49.5" y="231.59" width="2.5" height="1" fill="#4a4a4a"/><rect x="49.5" y="227.69" width="2.5" height="1" fill="#4a4a4a"/><rect x="49.5" y="224.66" width="2.5" height="1" fill="#4a4a4a"/><rect x="49.5" y="222.18" width="2.5" height="1" fill="#4a4a4a"/><rect x="49.5" y="220.09" width="2.5" height="1" fill="#4a4a4a"/><rect x="49.5" y="218.28" width="2.5" height="1" fill="#4a4a4a"/><rect x="49.5" y="216.68" width="2.5" height="1" fill="#4a4a4a"/><rect x="47" y="215.25" width="5" height="1" fill="#4a4a4a"/><rect x="49.5" y="205.84" width="2.5" height="1" fill="#4a4a4a"/><rect x="49.5" y="200.34" width="2.5" height="1" fill="#4a4a4a"/><rect x="49.5" y="196.44" width="2.5" height="1" fill="#4a4a4a"/><rect x="49.5" y="193.41" width="2.5" height="1" fill="#4a4a4a"/><rect x="49.5" y="190.93" width="2.5" height="1" fill="#4a4a4a"/><rect x="49.5" y="188.84" width="2.5" height="1" fill="#4a4a4a"/><rect x="49.5" y="187.03" width="2.5" height="1" fill="#4a4a4a"/><rect x="49.5" y="185.43" width="2.5" height="1" fill="#4a4a4a"/><rect x="47" y="184" width="5" height="1" fill="#4a4a4a"/><rect x="61.68" y="309" width="1" height="2.5" fill="#4a4a4a"/><rect x="67.58" y="309" width="1" height="2.5" fill="#4a4a4a"/><rect x="71.77" y="309" width="1" height="2.5" fill="#4a4a4a"/><rect x="75.02" y="309" width="1" height="2.5" fill="#4a4a4a"/><rect x="77.67" y="309" width="1" height="2.5" fill="#4a4a4a"/><rect x="79.91" y="309" width="1" height="2.5" fill="#4a4a4a"/><rect x="81.85" y="309" width="1" height="2.5" fill="#4a4a4a"/><rect x="83.57" y="309" width="1" height="2.5" fill="#4a4a4a"/><rect x="85.10" y="309" width="1" height="5" fill="#4a4a4a"/><rect x="95.18" y="309" width="1" height="2.5" fill="#4a4a4a"/><rect x="101.08" y="309" width="1" height="2.5" fill="#4a4a4a"/><rect x="105.27" y="309" width="1" height="2.5" fill="#4a4a4a"/><rect x="108.52" y="309" width="1" height="2.5" fill="#4a4a4a"/><rect x="111.17" y="309" width="1" height="2.5" fill="#4a4a4a"/><rect x="113.41" y="309" width="1" height="2.5" fill="#4a4a4a"/><rect x="115.35" y="309" width="1" height="2.5" fill="#4a4a4a"/><rect x="117.07" y="309" width="1" height="2.5" fill="#4a4a4a"/><rect x="118.60" y="309" width="1" height="5" fill="#4a4a4a"/><rect x="128.68" y="309" width="1" height="2.5" fill="#4a4a4a"/><rect x="134.58" y="309" width="1" height="2.5" fill="#4a4a4a"/><rect x="138.77" y="309" width="1" height="2.5" fill="#4a4a4a"/><rect x="142.02" y="309" width="1" height="2.5" fill="#4a4a4a"/><rect x="144.67" y="309" width="1" height="2.5" fill="#4a4a4a"/><rect x="146.91" y="309" width="1" height="2.5" fill="#4a4a4a"/><rect x="148.85" y="309" width="1" height="2.5" fill="#4a4a4a"/><rect x="150.57" y="309" width="1" height="2.5" fill="#4a4a4a"/><rect x="152.10" y="309" width="1" height="5" fill="#4a4a4a"/><rect x="162.18" y="309" width="1" height="2.5" fill="#4a4a4a"/><rect x="168.08" y="309" width="1" height="2.5" fill="#4a4a4a"/><rect x="172.27" y="309" width="1" height="2.5" fill="#4a4a4a"/><rect x="175.52" y="309" width="1" height="2.5" fill="#4a4a4a"/><rect x="178.17" y="309" width="1" height="2.5" fill="#4a4a4a"/><rect x="180.41" y="309" width="1" height="2.5" fill="#4a4a4a"/><rect x="182.35" y="309" width="1" height="2.5" fill="#4a4a4a"/><rect x="184.07" y="309" width="1" height="2.5" fill="#4a4a4a"/><rect x="186" y="309" width="1" height="5" fill="#4a4a4a"/><rect x="83.9" y="184" width="2.2" height="125" fill="#7a7a7a"/><rect x="52" y="277.7" width="134" height="1.4" fill="#333"/><rect x="213" y="183.6" width="136.5" height="1.5" fill="#6a6a6a"/><rect x="348.1" y="184" width="1.6" height="126" fill="#8c8c8c"/><rect x="213" y="184" width="1" height="126" fill="#999"/><rect x="213" y="309" width="136" height="1" fill="#333"/><rect x="210.5" y="299.59" width="2.5" height="1" fill="#4a4a4a"/><rect x="210.5" y="294.09" width="2.5" height="1" fill="#4a4a4a"/><rect x="210.5" y="290.19" width="2.5" height="1" fill="#4a4a4a"/><rect x="210.5" y="287.16" width="2.5" height="1" fill="#4a4a4a"/><rect x="210.5" y="284.68" width="2.5" height="1" fill="#4a4a4a"/><rect x="210.5" y="282.59" width="2.5" height="1" fill="#4a4a4a"/><rect x="210.5" y="280.78" width="2.5" height="1" fill="#4a4a4a"/><rect x="210.5" y="279.18" width="2.5" height="1" fill="#4a4a4a"/><rect x="208" y="277.75" width="5" height="1" fill="#4a4a4a"/><rect x="210.5" y="268.34" width="2.5" height="1" fill="#4a4a4a"/><rect x="210.5" y="262.84" width="2.5" height="1" fill="#4a4a4a"/><rect x="210.5" y="258.94" width="2.5" height="1" fill="#4a4a4a"/><rect x="210.5" y="255.91" width="2.5" height="1" fill="#4a4a4a"/><rect x="210.5" y="253.43" width="2.5" height="1" fill="#4a4a4a"/><rect x="210.5" y="251.34" width="2.5" height="1" fill="#4a4a4a"/><rect x="210.5" y="249.53" width="2.5" height="1" fill="#4a4a4a"/><rect x="210.5" y="247.93" width="2.5" height="1" fill="#4a4a4a"/><rect x="208" y="246.50" width="5" height="1" fill="#4a4a4a"/><rect x="210.5" y="237.09" width="2.5" height="1" fill="#4a4a4a"/><rect x="210.5" y="231.59" width="2.5" height="1" fill="#4a4a4a"/><rect x="210.5" y="227.69" width="2.5" height="1" fill="#4a4a4a"/><rect x="210.5" y="224.66" width="2.5" height="1" fill="#4a4a4a"/><rect x="210.5" y="222.18" width="2.5" height="1" fill="#4a4a4a"/><rect x="210.5" y="220.09" width="2.5" height="1" fill="#4a4a4a"/><rect x="210.5" y="218.28" width="2.5" height="1" fill="#4a4a4a"/><rect x="210.5" y="216.68" width="2.5" height="1" fill="#4a4a4a"/><rect x="208" y="215.25" width="5" height="1" fill="#4a4a4a"/><rect x="210.5" y="205.84" width="2.5" height="1" fill="#4a4a4a"/><rect x="210.5" y="200.34" width="2.5" height="1" fill="#4a4a4a"/><rect x="210.5" y="196.44" width="2.5" height="1" fill="#4a4a4a"/><rect x="210.5" y="193.41" width="2.5" height="1" fill="#4a4a4a"/><rect x="210.5" y="190.93" width="2.5" height="1" fill="#4a4a4a"/><rect x="210.5" y="188.84" width="2.5" height="1" fill="#4a4a4a"/><rect x="210.5" y="187.03" width="2.5" height="1" fill="#4a4a4a"/><rect x="210.5" y="185.43" width="2.5" height="1" fill="#4a4a4a"/><rect x="208" y="184" width="5" height="1" fill="#4a4a4a"/><rect x="222.76" y="309" width="1" height="2.5" fill="#4a4a4a"/><rect x="228.70" y="309" width="1" height="2.5" fill="#4a4a4a"/><rect x="232.92" y="309" width="1" height="2.5" fill="#4a4a4a"/><rect x="236.19" y="309" width="1" height="2.5" fill="#4a4a4a"/><rect x="238.86" y="309" width="1" height="2.5" fill="#4a4a4a"/><rect x="241.12" y="309" width="1" height="2.5" fill="#4a4a4a"/><rect x="243.08" y="309" width="1" height="2.5" fill="#4a4a4a"/><rect x="244.81" y="309" width="1" height="2.5" fill="#4a4a4a"/><rect x="246.35" y="309" width="1" height="5" fill="#4a4a4a"/><rect x="256.51" y="309" width="1" height="2.5" fill="#4a4a4a"/><rect x="262.45" y="309" width="1" height="2.5" fill="#4a4a4a"/><rect x="266.67" y="309" width="1" height="2.5" fill="#4a4a4a"/><rect x="269.94" y="309" width="1" height="2.5" fill="#4a4a4a"/><rect x="272.61" y="309" width="1" height="2.5" fill="#4a4a4a"/><rect x="274.87" y="309" width="1" height="2.5" fill="#4a4a4a"/><rect x="276.83" y="309" width="1" height="2.5" fill="#4a4a4a"/><rect x="278.56" y="309" width="1" height="2.5" fill="#4a4a4a"/><rect x="280.10" y="309" width="1" height="5" fill="#4a4a4a"/><rect x="290.26" y="309" width="1" height="2.5" fill="#4a4a4a"/><rect x="296.20" y="309" width="1" height="2.5" fill="#4a4a4a"/><rect x="300.42" y="309" width="1" height="2.5" fill="#4a4a4a"/><rect x="303.69" y="309" width="1" height="2.5" fill="#4a4a4a"/><rect x="306.36" y="309" width="1" height="2.5" fill="#4a4a4a"/><rect x="308.62" y="309" width="1" height="2.5" fill="#4a4a4a"/><rect x="310.58" y="309" width="1" height="2.5" fill="#4a4a4a"/><rect x="312.31" y="309" width="1" height="2.5" fill="#4a4a4a"/><rect x="313.85" y="309" width="1" height="5" fill="#4a4a4a"/><rect x="324.01" y="309" width="1" height="2.5" fill="#4a4a4a"/><rect x="329.95" y="309" width="1" height="2.5" fill="#4a4a4a"/><rect x="334.17" y="309" width="1" height="2.5" fill="#4a4a4a"/><rect x="337.44" y="309" width="1" height="2.5" fill="#4a4a4a"/><rect x="340.11" y="309" width="1" height="2.5" fill="#4a4a4a"/><rect x="342.37" y="309" width="1" height="2.5" fill="#4a4a4a"/><rect x="344.33" y="309" width="1" height="2.5" fill="#4a4a4a"/><rect x="346.06" y="309" width="1" height="2.5" fill="#4a4a4a"/><rect x="348" y="309" width="1" height="5" fill="#4a4a4a"/><rect x="246.7" y="184" width="1.9" height="125" fill="#3a3a3a"/><rect x="213" y="277.2" width="135" height="1.6" fill="#111"/><rect x="375" y="183.6" width="136.5" height="1.5" fill="#6a6a6a"/><rect x="510.1" y="184" width="1.6" height="126" fill="#8c8c8c"/><rect x="375" y="184" width="1" height="126" fill="#999"/><rect x="375" y="309" width="136" height="1" fill="#333"/><rect x="372.5" y="299.59" width="2.5" height="1" fill="#4a4a4a"/><rect x="372.5" y="294.09" width="2.5" height="1" fill="#4a4a4a"/><rect x="372.5" y="290.19" width="2.5" height="1" fill="#4a4a4a"/><rect x="372.5" y="287.16" width="2.5" height="1" fill="#4a4a4a"/><rect x="372.5" y="284.68" width="2.5" height="1" fill="#4a4a4a"/><rect x="372.5" y="282.59" width="2.5" height="1" fill="#4a4a4a"/><rect x="372.5" y="280.78" width="2.5" height="1" fill="#4a4a4a"/><rect x="372.5" y="279.18" width="2.5" height="1" fill="#4a4a4a"/><rect x="370" y="277.75" width="5" height="1" fill="#4a4a4a"/><rect x="372.5" y="268.34" width="2.5" height="1" fill="#4a4a4a"/><rect x="372.5" y="262.84" width="2.5" height="1" fill="#4a4a4a"/><rect x="372.5" y="258.94" width="2.5" height="1" fill="#4a4a4a"/><rect x="372.5" y="255.91" width="2.5" height="1" fill="#4a4a4a"/><rect x="372.5" y="253.43" width="2.5" height="1" fill="#4a4a4a"/><rect x="372.5" y="251.34" width="2.5" height="1" fill="#4a4a4a"/><rect x="372.5" y="249.53" width="2.5" height="1" fill="#4a4a4a"/><rect x="372.5" y="247.93" width="2.5" height="1" fill="#4a4a4a"/><rect x="370" y="246.50" width="5" height="1" fill="#4a4a4a"/><rect x="372.5" y="237.09" width="2.5" height="1" fill="#4a4a4a"/><rect x="372.5" y="231.59" width="2.5" height="1" fill="#4a4a4a"/><rect x="372.5" y="227.69" width="2.5" height="1" fill="#4a4a4a"/><rect x="372.5" y="224.66" width="2.5" height="1" fill="#4a4a4a"/><rect x="372.5" y="222.18" width="2.5" height="1" fill="#4a4a4a"/><rect x="372.5" y="220.09" width="2.5" height="1" fill="#4a4a4a"/><rect x="372.5" y="218.28" width="2.5" height="1" fill="#4a4a4a"/><rect x="372.5" y="216.68" width="2.5" height="1" fill="#4a4a4a"/><rect x="370" y="215.25" width="5" height="1" fill="#4a4a4a"/><rect x="372.5" y="205.84" width="2.5" height="1" fill="#4a4a4a"/><rect x="372.5" y="200.34" width="2.5" height="1" fill="#4a4a4a"/><rect x="372.5" y="196.44" width="2.5" height="1" fill="#4a4a4a"/><rect x="372.5" y="193.41" width="2.5" height="1" fill="#4a4a4a"/><rect x="372.5" y="190.93" width="2.5" height="1" fill="#4a4a4a"/><rect x="372.5" y="188.84" width="2.5" height="1" fill="#4a4a4a"/><rect x="372.5" y="187.03" width="2.5" height="1" fill="#4a4a4a"/><rect x="372.5" y="185.43" width="2.5" height="1" fill="#4a4a4a"/><rect x="370" y="184" width="5" height="1" fill="#4a4a4a"/><rect x="384.76" y="309" width="1" height="2.5" fill="#4a4a4a"/><rect x="390.70" y="309" width="1" height="2.5" fill="#4a4a4a"/><rect x="394.92" y="309" width="1" height="2.5" fill="#4a4a4a"/><rect x="398.19" y="309" width="1" height="2.5" fill="#4a4a4a"/><rect x="400.86" y="309" width="1" height="2.5" fill="#4a4a4a"/><rect x="403.12" y="309" width="1" height="2.5" fill="#4a4a4a"/><rect x="405.08" y="309" width="1" height="2.5" fill="#4a4a4a"/><rect x="406.81" y="309" width="1" height="2.5" fill="#4a4a4a"/><rect x="408.35" y="309" width="1" height="5" fill="#4a4a4a"/><rect x="418.51" y="309" width="1" height="2.5" fill="#4a4a4a"/><rect x="424.45" y="309" width="1" height="2.5" fill="#4a4a4a"/><rect x="428.67" y="309" width="1" height="2.5" fill="#4a4a4a"/><rect x="431.94" y="309" width="1" height="2.5" fill="#4a4a4a"/><rect x="434.61" y="309" width="1" height="2.5" fill="#4a4a4a"/><rect x="436.87" y="309" width="1" height="2.5" fill="#4a4a4a"/><rect x="438.83" y="309" width="1" height="2.5" fill="#4a4a4a"/><rect x="440.56" y="309" width="1" height="2.5" fill="#4a4a4a"/><rect x="442.10" y="309" width="1" height="5" fill="#4a4a4a"/><rect x="452.26" y="309" width="1" height="2.5" fill="#4a4a4a"/><rect x="458.20" y="309" width="1" height="2.5" fill="#4a4a4a"/><rect x="462.42" y="309" width="1" height="2.5" fill="#4a4a4a"/><rect x="465.69" y="309" width="1" height="2.5" fill="#4a4a4a"/><rect x="468.36" y="309" width="1" height="2.5" fill="#4a4a4a"/><rect x="470.62" y="309" width="1" height="2.5" fill="#4a4a4a"/><rect x="472.58" y="309" width="1" height="2.5" fill="#4a4a4a"/><rect x="474.31" y="309" width="1" height="2.5" fill="#4a4a4a"/><rect x="475.85" y="309" width="1" height="5" fill="#4a4a4a"/><rect x="486.01" y="309" width="1" height="2.5" fill="#4a4a4a"/><rect x="491.95" y="309" width="1" height="2.5" fill="#4a4a4a"/><rect x="496.17" y="309" width="1" height="2.5" fill="#4a4a4a"/><rect x="499.44" y="309" width="1" height="2.5" fill="#4a4a4a"/><rect x="502.11" y="309" width="1" height="2.5" fill="#4a4a4a"/><rect x="504.37" y="309" width="1" height="2.5" fill="#4a4a4a"/><rect x="506.33" y="309" width="1" height="2.5" fill="#4a4a4a"/><rect x="508.06" y="309" width="1" height="2.5" fill="#4a4a4a"/><rect x="510" y="309" width="1" height="5" fill="#4a4a4a"/><rect x="407.8" y="184" width="1.15" height="125" fill="#111"/><rect x="375" y="278.9" width="135" height="2.0" fill="#1a1a1a"/></g>
<g><text x="45.5" y="124.90" class="tl" text-anchor="end">10<tspan class="sup" dy="-2.6">0</tspan></text><text x="45.5" y="93.90" class="tl" text-anchor="end">10<tspan class="sup" dy="-2.6">1</tspan></text><text x="45.5" y="62.90" class="tl" text-anchor="end">10<tspan class="sup" dy="-2.6">2</tspan></text><text x="45.5" y="31.90" class="tl" text-anchor="end">10<tspan class="sup" dy="-2.6">3</tspan></text><text x="82.60" y="164.1" class="tl">10<tspan class="sup" dy="-2.6">0</tspan></text><text x="116.10" y="164.1" class="tl">10<tspan class="sup" dy="-2.6">1</tspan></text><text x="149.60" y="164.1" class="tl">10<tspan class="sup" dy="-2.6">2</tspan></text><text x="187.50" y="164.1" class="tl" text-anchor="end">10<tspan class="sup" dy="-2.6">3</tspan></text><text x="206.5" y="124.90" class="tl" text-anchor="end">10<tspan class="sup" dy="-2.6">0</tspan></text><text x="206.5" y="93.90" class="tl" text-anchor="end">10<tspan class="sup" dy="-2.6">1</tspan></text><text x="206.5" y="62.90" class="tl" text-anchor="end">10<tspan class="sup" dy="-2.6">2</tspan></text><text x="206.5" y="31.90" class="tl" text-anchor="end">10<tspan class="sup" dy="-2.6">3</tspan></text><text x="243.85" y="164.1" class="tl">10<tspan class="sup" dy="-2.6">0</tspan></text><text x="277.60" y="164.1" class="tl">10<tspan class="sup" dy="-2.6">1</tspan></text><text x="311.35" y="164.1" class="tl">10<tspan class="sup" dy="-2.6">2</tspan></text><text x="349.50" y="164.1" class="tl" text-anchor="end">10<tspan class="sup" dy="-2.6">3</tspan></text><text x="368.5" y="124.90" class="tl" text-anchor="end">10<tspan class="sup" dy="-2.6">0</tspan></text><text x="368.5" y="93.90" class="tl" text-anchor="end">10<tspan class="sup" dy="-2.6">1</tspan></text><text x="368.5" y="62.90" class="tl" text-anchor="end">10<tspan class="sup" dy="-2.6">2</tspan></text><text x="368.5" y="31.90" class="tl" text-anchor="end">10<tspan class="sup" dy="-2.6">3</tspan></text><text x="405.85" y="164.1" class="tl">10<tspan class="sup" dy="-2.6">0</tspan></text><text x="439.60" y="164.1" class="tl">10<tspan class="sup" dy="-2.6">1</tspan></text><text x="473.35" y="164.1" class="tl">10<tspan class="sup" dy="-2.6">2</tspan></text><text x="511.50" y="164.1" class="tl" text-anchor="end">10<tspan class="sup" dy="-2.6">3</tspan></text><text x="45.5" y="280.65" class="tl" text-anchor="end">10<tspan class="sup" dy="-2.6">0</tspan></text><text x="45.5" y="249.40" class="tl" text-anchor="end">10<tspan class="sup" dy="-2.6">1</tspan></text><text x="45.5" y="218.15" class="tl" text-anchor="end">10<tspan class="sup" dy="-2.6">2</tspan></text><text x="45.5" y="186.90" class="tl" text-anchor="end">10<tspan class="sup" dy="-2.6">3</tspan></text><text x="82.60" y="320.1" class="tl">10<tspan class="sup" dy="-2.6">0</tspan></text><text x="116.10" y="320.1" class="tl">10<tspan class="sup" dy="-2.6">1</tspan></text><text x="149.60" y="320.1" class="tl">10<tspan class="sup" dy="-2.6">2</tspan></text><text x="187.50" y="320.1" class="tl" text-anchor="end">10<tspan class="sup" dy="-2.6">3</tspan></text><text x="206.5" y="280.65" class="tl" text-anchor="end">10<tspan class="sup" dy="-2.6">0</tspan></text><text x="206.5" y="249.40" class="tl" text-anchor="end">10<tspan class="sup" dy="-2.6">1</tspan></text><text x="206.5" y="218.15" class="tl" text-anchor="end">10<tspan class="sup" dy="-2.6">2</tspan></text><text x="206.5" y="186.90" class="tl" text-anchor="end">10<tspan class="sup" dy="-2.6">3</tspan></text><text x="243.85" y="320.1" class="tl">10<tspan class="sup" dy="-2.6">0</tspan></text><text x="277.60" y="320.1" class="tl">10<tspan class="sup" dy="-2.6">1</tspan></text><text x="311.35" y="320.1" class="tl">10<tspan class="sup" dy="-2.6">2</tspan></text><text x="349.50" y="320.1" class="tl" text-anchor="end">10<tspan class="sup" dy="-2.6">3</tspan></text><text x="368.5" y="280.65" class="tl" text-anchor="end">10<tspan class="sup" dy="-2.6">0</tspan></text><text x="368.5" y="249.40" class="tl" text-anchor="end">10<tspan class="sup" dy="-2.6">1</tspan></text><text x="368.5" y="218.15" class="tl" text-anchor="end">10<tspan class="sup" dy="-2.6">2</tspan></text><text x="368.5" y="186.90" class="tl" text-anchor="end">10<tspan class="sup" dy="-2.6">3</tspan></text><text x="405.85" y="320.1" class="tl">10<tspan class="sup" dy="-2.6">0</tspan></text><text x="439.60" y="320.1" class="tl">10<tspan class="sup" dy="-2.6">1</tspan></text><text x="473.35" y="320.1" class="tl">10<tspan class="sup" dy="-2.6">2</tspan></text><text x="511.50" y="320.1" class="tl" text-anchor="end">10<tspan class="sup" dy="-2.6">3</tspan></text></g>
<g><text x="54.2" y="39.05" class="ql">Th2</text><text x="54.2" y="49.85" class="ql">1.2%</text><text x="155.0" y="135.7" class="ql">Th1</text><text x="155.0" y="146.9" class="ql">15.3%</text><text x="216.4" y="39.1" class="ql">Th2</text><text x="216.4" y="49.9" class="ql">2.6%</text><text x="318.4" y="136.0" class="ql">Th1</text><text x="318.4" y="146.9" class="ql">15.8%</text><text x="377.6" y="39.3" class="ql">Th2</text><text x="377.6" y="49.9" class="ql">2.1%</text><text x="482.7" y="136.7" class="ql">Th1</text><text x="482.7" y="147.7" class="ql">17.2%</text><text x="54.2" y="197.1" class="ql">Tc2</text><text x="54.2" y="207.6" class="ql">0.4%</text><text x="157.8" y="289.7" class="ql">Tc1</text><text x="157.8" y="300.4" class="ql">16.9%</text><text x="217.0" y="196.6" class="ql">Tc2</text><text x="217.0" y="207.3" class="ql">1.7%</text><text x="321.1" y="289.7" class="ql">Tc1</text><text x="321.1" y="300.4" class="ql">23.6%</text><text x="379.0" y="196.8" class="ql">Tc2</text><text x="379.0" y="207.6" class="ql">2.1%</text><text x="482.4" y="290.7" class="ql">Tc1</text><text x="482.4" y="301.6" class="ql">18.9%</text></g>
<text x="84.8" y="7.9" class="ti">ITP responder</text>
<text x="96.5" y="20.5" class="ti">Baseline</text>
<text x="243.1" y="7.9" class="ti">ITP responder</text>
<text x="222.1" y="20.3" class="ti">3 months after rituximab</text>
<text x="428.5" y="20.8" class="ti">Control</text>
<text transform="translate(27.3,102.9) rotate(-90)" font-size="10.8" fill="#111">CD4</text>
<text transform="translate(28.6,258.2) rotate(-90)" font-size="10.8" fill="#111">CD8</text>
<text transform="translate(10.6,55.0) rotate(-90) scale(0.83,1)" font-size="17" fill="#111">IL-4</text>
<text x="471" y="353.3" font-size="14" fill="#111">IFN-γ</text>
<rect x="15.2" y="26" width="1.5" height="314" fill="#111"/>
<rect x="15.3" y="338.8" width="499" height="1.2" fill="#111"/>
<polygon points="15.9,19.6 12.4,27 19.4,27" fill="#111"/>
<polygon points="520,339.4 512.8,336 512.8,342.9" fill="#111"/>
</g>
</svg>
</body></html>
